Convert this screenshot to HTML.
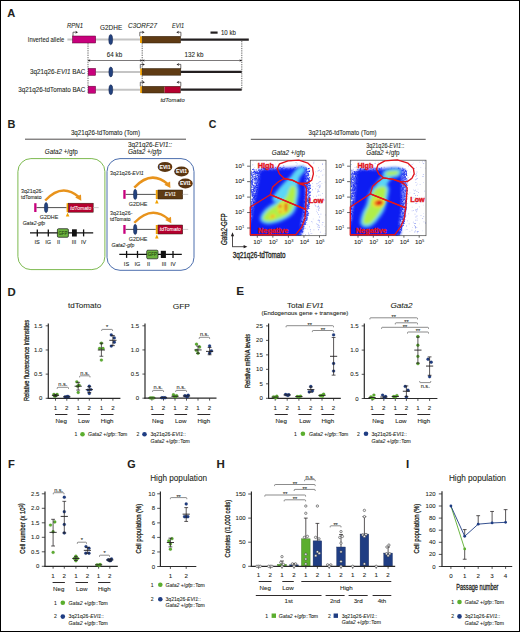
<!DOCTYPE html>
<html><head><meta charset="utf-8"><title>Figure</title>
<style>
html,body{margin:0;padding:0;background:#fff;}
body{width:520px;height:632px;overflow:hidden;}
svg{display:block;font-family:"Liberation Sans",sans-serif;}
</style></head><body>
<svg width="520" height="632" viewBox="0 0 520 632" fill="#231f20">
<rect x="0.5" y="0.5" width="519" height="631" fill="none" stroke="#000" stroke-width="1" />
<text x="7.3" y="16.8" font-size="11.5" textLength="8" lengthAdjust="spacingAndGlyphs" font-weight="bold" stroke="#231f20" stroke-width="0.08">A</text>
<text x="67" y="27.9" font-size="6.6" textLength="16" lengthAdjust="spacingAndGlyphs" stroke="#231f20" stroke-width="0.08"><tspan font-style="italic">RPN1</tspan></text>
<text x="100" y="29.9" font-size="6.6" textLength="22.2" lengthAdjust="spacingAndGlyphs" stroke="#231f20" stroke-width="0.08">G2DHE</text>
<text x="128" y="28.2" font-size="6.6" textLength="29" lengthAdjust="spacingAndGlyphs" stroke="#231f20" stroke-width="0.08"><tspan font-style="italic">C3ORF27</tspan></text>
<text x="172" y="28.2" font-size="6.6" textLength="12.2" lengthAdjust="spacingAndGlyphs" stroke="#231f20" stroke-width="0.08"><tspan font-style="italic">EVI1</tspan></text>
<line x1="210.5" y1="32.6" x2="217.6" y2="32.6" stroke="#231f20" stroke-width="2.2" />
<text x="221" y="34.9" font-size="6.4" textLength="14.8" lengthAdjust="spacingAndGlyphs" stroke="#231f20" stroke-width="0.08">10 kb</text>
<text x="27.8" y="41.7" font-size="6.7" textLength="36.4" lengthAdjust="spacingAndGlyphs" stroke="#231f20" stroke-width="0.08">Inverted allele</text>
<line x1="67.4" y1="39.6" x2="140" y2="39.6" stroke="#c4c4c4" stroke-width="2" />
<rect x="72.5" y="36" width="23.2" height="7" fill="#c8007c" stroke="#5a0030" stroke-width="0.5" />
<ellipse cx="110.7" cy="39.6" rx="2" ry="5.2" fill="#23427e" stroke="#0c1a40" stroke-width="0.4" />
<rect x="140" y="36.3" width="2.2" height="6.7" fill="#f2a100" />
<rect x="142.2" y="36.3" width="38.4" height="6.7" fill="#5f3b14" stroke="#2e1d0a" stroke-width="0.5" />
<line x1="180.6" y1="39.6" x2="248.8" y2="39.6" stroke="#231f20" stroke-width="2.2" />
<path d="M73 36 V32.2 H76.2" fill="none" stroke="#231f20" stroke-width="0.65" />
<path d="M78 32.2 L75.3 30.72 L76.11 32.2 L75.3 33.69 Z" fill="#231f20" />
<path d="M139.8 36.3 V32.2 H142.8" fill="none" stroke="#231f20" stroke-width="0.65" />
<path d="M144.6 32.2 L141.9 30.72 L142.71 32.2 L141.9 33.69 Z" fill="#231f20" />
<path d="M180.9 36.3 V32.2 H178.1" fill="none" stroke="#231f20" stroke-width="0.65" />
<path d="M176.3 32.2 L179 30.72 L178.19 32.2 L179 33.69 Z" fill="#231f20" />
<line x1="88" y1="43.2" x2="88" y2="93" stroke="#333" stroke-width="0.75" stroke-dasharray="1.3 1"/>
<line x1="142.2" y1="43.2" x2="142.2" y2="86" stroke="#333" stroke-width="0.75" stroke-dasharray="1.3 1"/>
<line x1="241.8" y1="41" x2="241.8" y2="89.8" stroke="#333" stroke-width="0.75" stroke-dasharray="1.3 1"/>
<line x1="88" y1="60.5" x2="241.8" y2="60.5" stroke="#231f20" stroke-width="0.6" />
<path d="M88 60.5 L90.4 59.18 L89.68 60.5 L90.4 61.82 Z" fill="#231f20" />
<path d="M142.2 60.5 L139.8 59.18 L140.52 60.5 L139.8 61.82 Z" fill="#231f20" />
<path d="M142.2 60.5 L144.6 59.18 L143.88 60.5 L144.6 61.82 Z" fill="#231f20" />
<path d="M241.8 60.5 L239.4 59.18 L240.12 60.5 L239.4 61.82 Z" fill="#231f20" />
<text x="106.8" y="56.5" font-size="6.4" textLength="15.4" lengthAdjust="spacingAndGlyphs" stroke="#231f20" stroke-width="0.08">64 kb</text>
<text x="184.6" y="56.5" font-size="6.4" textLength="18.9" lengthAdjust="spacingAndGlyphs" stroke="#231f20" stroke-width="0.08">132 kb</text>
<text x="29.9" y="74" font-size="6.6" textLength="55.4" lengthAdjust="spacingAndGlyphs" stroke="#231f20" stroke-width="0.08">3q21q26-<tspan font-style="italic">EVI1</tspan> BAC</text>
<line x1="95.6" y1="71.9" x2="140.2" y2="71.9" stroke="#c4c4c4" stroke-width="2" />
<rect x="88.2" y="68.4" width="7.4" height="7" fill="#c8007c" stroke="#5a0030" stroke-width="0.5" />
<ellipse cx="110.8" cy="71.9" rx="2" ry="5" fill="#23427e" stroke="#0c1a40" stroke-width="0.4" />
<rect x="140.2" y="68.5" width="2" height="6.7" fill="#f2a100" />
<rect x="142.2" y="68.5" width="38.6" height="6.7" fill="#5f3b14" stroke="#2e1d0a" stroke-width="0.5" />
<line x1="180.7" y1="71.9" x2="241.7" y2="71.9" stroke="#231f20" stroke-width="2.2" />
<path d="M140.3 68.5 V64.4 H143.1" fill="none" stroke="#231f20" stroke-width="0.65" />
<path d="M144.9 64.4 L142.2 62.92 L143.01 64.4 L142.2 65.89 Z" fill="#231f20" />
<path d="M180.8 68.5 V64.4 H178.3" fill="none" stroke="#231f20" stroke-width="0.65" />
<path d="M176.5 64.4 L179.2 62.92 L178.39 64.4 L179.2 65.89 Z" fill="#231f20" />
<text x="18.3" y="91.8" font-size="6.6" textLength="67" lengthAdjust="spacingAndGlyphs" stroke="#231f20" stroke-width="0.08">3q21q26-tdTomato BAC</text>
<line x1="95.6" y1="89.7" x2="140.2" y2="89.7" stroke="#c4c4c4" stroke-width="2" />
<rect x="88.2" y="86.2" width="7.4" height="7" fill="#c8007c" stroke="#5a0030" stroke-width="0.5" />
<ellipse cx="110.8" cy="89.7" rx="2" ry="5" fill="#23427e" stroke="#0c1a40" stroke-width="0.4" />
<rect x="140.2" y="86.3" width="2" height="6.7" fill="#f2a100" />
<rect x="142.2" y="86.3" width="22.4" height="6.7" fill="#5f3b14" />
<rect x="164.6" y="86.3" width="15.8" height="6.7" fill="#b5002f" />
<rect x="142.2" y="86.3" width="38.2" height="6.7" fill="none" stroke="#2e1d0a" stroke-width="0.5" />
<line x1="180.7" y1="89.7" x2="241.7" y2="89.7" stroke="#231f20" stroke-width="2.2" />
<path d="M140.3 86.3 V82.2 H143.1" fill="none" stroke="#231f20" stroke-width="0.65" />
<path d="M144.9 82.2 L142.2 80.72 L143.01 82.2 L142.2 83.69 Z" fill="#231f20" />
<path d="M180.8 86.3 V82.2 H178.3" fill="none" stroke="#231f20" stroke-width="0.65" />
<path d="M176.5 82.2 L179.2 80.72 L178.39 82.2 L179.2 83.69 Z" fill="#231f20" />
<text x="160.4" y="101.9" font-size="6.2" textLength="24.3" lengthAdjust="spacingAndGlyphs" stroke="#231f20" stroke-width="0.08"><tspan font-style="italic">tdTomato</tspan></text>
<text x="7.4" y="128" font-size="11.5" textLength="7.9" lengthAdjust="spacingAndGlyphs" font-weight="bold" stroke="#231f20" stroke-width="0.08">B</text>
<text x="70.9" y="134.9" font-size="6.3" textLength="69.1" lengthAdjust="spacingAndGlyphs" stroke="#231f20" stroke-width="0.08">3q21q26-tdTomato (Tom)</text>
<line x1="25" y1="139.2" x2="186" y2="139.2" stroke="#231f20" stroke-width="0.8" />
<text x="44.8" y="154.4" font-size="6.3" textLength="33" lengthAdjust="spacingAndGlyphs" stroke="#231f20" stroke-width="0.08"><tspan font-style="italic">Gata2</tspan> +/gfp</text>
<text x="127.9" y="146.9" font-size="6.3" textLength="44.1" lengthAdjust="spacingAndGlyphs" stroke="#231f20" stroke-width="0.08">3q21q26-<tspan font-style="italic">EVI1::</tspan></text>
<text x="127.9" y="153.8" font-size="6.3" textLength="33.6" lengthAdjust="spacingAndGlyphs" stroke="#231f20" stroke-width="0.08"><tspan font-style="italic">Gata2 +/gfp</tspan></text>
<rect x="17.9" y="158.6" width="87" height="111" fill="none" stroke="#7dba50" stroke-width="1" rx="13" />
<rect x="107" y="158.6" width="87" height="111.7" fill="none" stroke="#4d6fae" stroke-width="1" rx="13" />
<text x="21" y="192.5" font-size="5.6" textLength="22.3" lengthAdjust="spacingAndGlyphs" stroke="#231f20" stroke-width="0.08">3q21q26-</text>
<text x="21" y="198.9" font-size="5.6" textLength="20.5" lengthAdjust="spacingAndGlyphs" stroke="#231f20" stroke-width="0.08">tdTomato</text>
<path d="M45.2 200.5 Q62 182.5 78.8 197" fill="none" stroke="#e8931c" stroke-width="2.4" stroke-linecap="butt"/>
<path d="M81.3 200.8 L75.2 197.6 L81 194.4 Z" fill="#e8931c" />
<line x1="36.4" y1="207.6" x2="66.6" y2="207.6" stroke="#3c3c3c" stroke-width="0.9" />
<rect x="34.2" y="203.2" width="2.3" height="8.8" fill="#c8007c" />
<ellipse cx="46.1" cy="207.6" rx="1.8" ry="5.2" fill="#23427e" stroke="#0c1a40" stroke-width="0.4" />
<rect x="66.6" y="203.2" width="2" height="9" fill="#f2a100" />
<rect x="68.4" y="203.2" width="24.8" height="9" fill="#b5002f" stroke="#2b1a0a" stroke-width="0.5" />
<text x="80.8" y="209.55" font-size="5.4" text-anchor="middle" textLength="21" lengthAdjust="spacingAndGlyphs" fill="#fff" stroke="#fff" stroke-width="0.08"><tspan font-style="italic">tdTomato</tspan></text>
<line x1="93.2" y1="207.6" x2="98.7" y2="207.6" stroke="#bdbdbd" stroke-width="0.8" />
<path d="M67.6 212.6 L65.8 216.6 L69.4 216.6 Z" fill="#f2a100" />
<text x="39.7" y="219.2" font-size="5.6" textLength="18.6" lengthAdjust="spacingAndGlyphs" stroke="#231f20" stroke-width="0.08">G2DHE</text>
<text x="22.7" y="225.1" font-size="5.4" textLength="22.5" lengthAdjust="spacingAndGlyphs" stroke="#231f20" stroke-width="0.08"><tspan font-style="italic">Gata2-gfp</tspan></text>
<line x1="30" y1="232.9" x2="93.2" y2="232.9" stroke="#111" stroke-width="1.3" />
<line x1="37.3" y1="229.4" x2="37.3" y2="236.4" stroke="#111" stroke-width="1.3" />
<line x1="48.3" y1="229.4" x2="48.3" y2="236.4" stroke="#111" stroke-width="1.3" />
<line x1="83.6" y1="229.4" x2="83.6" y2="236.4" stroke="#111" stroke-width="1.3" />
<rect x="57.4" y="228.7" width="11" height="8.6" fill="#6cb33f" stroke="#1a1a1a" stroke-width="0.7" rx="1.2" />
<text x="62.9" y="234.8" font-size="5.2" text-anchor="middle" textLength="8.8" lengthAdjust="spacingAndGlyphs" fill="#1d3a0c" stroke="#1d3a0c" stroke-width="0.08">GFP</text>
<rect x="72" y="229.3" width="4.8" height="7.2" fill="#111" />
<text x="37.2" y="244" font-size="5.6" text-anchor="middle" stroke="#231f20" stroke-width="0.08">IS</text>
<text x="48.2" y="244" font-size="5.6" text-anchor="middle" stroke="#231f20" stroke-width="0.08">IG</text>
<text x="58.6" y="244" font-size="5.6" text-anchor="middle" stroke="#231f20" stroke-width="0.08">II</text>
<text x="74.1" y="244" font-size="5.6" text-anchor="middle" stroke="#231f20" stroke-width="0.08">III</text>
<text x="83.6" y="244" font-size="5.6" text-anchor="middle" stroke="#231f20" stroke-width="0.08">IV</text>
<ellipse cx="165" cy="166.9" rx="7.3" ry="5" fill="#5a3611" />
<text x="165" y="168.85" font-size="5.4" text-anchor="middle" textLength="11" lengthAdjust="spacingAndGlyphs" font-weight="bold" fill="#fff" stroke="#fff" stroke-width="0.08">EVI1</text>
<ellipse cx="181.5" cy="171.5" rx="7.3" ry="5" fill="#5a3611" />
<text x="181.5" y="173.45" font-size="5.4" text-anchor="middle" textLength="11" lengthAdjust="spacingAndGlyphs" font-weight="bold" fill="#fff" stroke="#fff" stroke-width="0.08">EVI1</text>
<ellipse cx="185.4" cy="183.5" rx="7.3" ry="5" fill="#5a3611" />
<text x="185.4" y="185.45" font-size="5.4" text-anchor="middle" textLength="11" lengthAdjust="spacingAndGlyphs" font-weight="bold" fill="#fff" stroke="#fff" stroke-width="0.08">EVI1</text>
<text x="110.1" y="174.7" font-size="5.6" textLength="33.7" lengthAdjust="spacingAndGlyphs" stroke="#231f20" stroke-width="0.08">3q21q26-<tspan font-style="italic">EVI1</tspan></text>
<path d="M134.3 187.6 Q151.1 169.5 167.9 184.2" fill="none" stroke="#e8931c" stroke-width="2.4" stroke-linecap="butt"/>
<path d="M170.4 188 L164.3 184.8 L170.1 181.6 Z" fill="#e8931c" />
<line x1="125.5" y1="194.4" x2="155.8" y2="194.4" stroke="#3c3c3c" stroke-width="0.9" />
<rect x="123.3" y="190" width="2.3" height="8.8" fill="#c8007c" />
<ellipse cx="135.2" cy="194.4" rx="1.8" ry="5.2" fill="#23427e" stroke="#0c1a40" stroke-width="0.4" />
<rect x="155.8" y="190" width="2" height="9" fill="#f2a100" />
<rect x="158" y="190" width="24.7" height="9" fill="#5f3b14" stroke="#2b1a0a" stroke-width="0.5" />
<text x="170.35" y="196.35" font-size="5.4" text-anchor="middle" textLength="11.2" lengthAdjust="spacingAndGlyphs" fill="#fff" stroke="#fff" stroke-width="0.08"><tspan font-style="italic">EVI1</tspan></text>
<line x1="182.7" y1="194.4" x2="188.2" y2="194.4" stroke="#bdbdbd" stroke-width="0.8" />
<path d="M156.8 199.4 L155 203.4 L158.6 203.4 Z" fill="#f2a100" />
<text x="128.8" y="205.6" font-size="5.6" textLength="18.6" lengthAdjust="spacingAndGlyphs" stroke="#231f20" stroke-width="0.08">G2DHE</text>
<text x="110.1" y="214.5" font-size="5.6" textLength="22.3" lengthAdjust="spacingAndGlyphs" stroke="#231f20" stroke-width="0.08">3q21q26-</text>
<text x="110.1" y="220.6" font-size="5.6" textLength="20.5" lengthAdjust="spacingAndGlyphs" stroke="#231f20" stroke-width="0.08">tdTomato</text>
<path d="M134.3 222.8 Q151.55 204.5 168.8 219.4" fill="none" stroke="#e8931c" stroke-width="2.4" stroke-linecap="butt"/>
<path d="M171.3 223.2 L165.2 220 L171 216.8 Z" fill="#e8931c" />
<line x1="125.5" y1="229.4" x2="155.8" y2="229.4" stroke="#3c3c3c" stroke-width="0.9" />
<rect x="123.3" y="225" width="2.3" height="8.8" fill="#c8007c" />
<ellipse cx="135.2" cy="229.4" rx="1.8" ry="5.2" fill="#23427e" stroke="#0c1a40" stroke-width="0.4" />
<rect x="155.8" y="225" width="2" height="9" fill="#f2a100" />
<rect x="158" y="225" width="24.7" height="9" fill="#b5002f" stroke="#2b1a0a" stroke-width="0.5" />
<text x="170.35" y="231.35" font-size="5.4" text-anchor="middle" textLength="21" lengthAdjust="spacingAndGlyphs" fill="#fff" stroke="#fff" stroke-width="0.08"><tspan font-style="italic">tdTomato</tspan></text>
<line x1="182.7" y1="229.4" x2="188.2" y2="229.4" stroke="#bdbdbd" stroke-width="0.8" />
<path d="M156.8 234.4 L155 238.4 L158.6 238.4 Z" fill="#f2a100" />
<text x="128.8" y="240.8" font-size="5.6" textLength="18.6" lengthAdjust="spacingAndGlyphs" stroke="#231f20" stroke-width="0.08">G2DHE</text>
<text x="111.4" y="246.7" font-size="5.4" textLength="22.9" lengthAdjust="spacingAndGlyphs" stroke="#231f20" stroke-width="0.08"><tspan font-style="italic">Gata2-gfp</tspan></text>
<line x1="119.3" y1="254.4" x2="181.8" y2="254.4" stroke="#111" stroke-width="1.3" />
<line x1="126.6" y1="250.9" x2="126.6" y2="257.9" stroke="#111" stroke-width="1.3" />
<line x1="137.5" y1="250.9" x2="137.5" y2="257.9" stroke="#111" stroke-width="1.3" />
<line x1="173" y1="250.9" x2="173" y2="257.9" stroke="#111" stroke-width="1.3" />
<rect x="146.7" y="250.2" width="11.3" height="8.6" fill="#6cb33f" stroke="#1a1a1a" stroke-width="0.7" rx="1.2" />
<text x="152.35" y="256.3" font-size="5.2" text-anchor="middle" textLength="9.04" lengthAdjust="spacingAndGlyphs" fill="#1d3a0c" stroke="#1d3a0c" stroke-width="0.08">GFP</text>
<rect x="160.8" y="250.8" width="5.1" height="7.2" fill="#111" />
<text x="126.5" y="265.5" font-size="5.6" text-anchor="middle" stroke="#231f20" stroke-width="0.08">IS</text>
<text x="137.4" y="265.5" font-size="5.6" text-anchor="middle" stroke="#231f20" stroke-width="0.08">IG</text>
<text x="148.6" y="265.5" font-size="5.6" text-anchor="middle" stroke="#231f20" stroke-width="0.08">II</text>
<text x="164" y="265.5" font-size="5.6" text-anchor="middle" stroke="#231f20" stroke-width="0.08">III</text>
<text x="173.1" y="265.5" font-size="5.6" text-anchor="middle" stroke="#231f20" stroke-width="0.08">IV</text>
<defs><filter id="blur1" x="-20%" y="-20%" width="140%" height="140%"><feGaussianBlur stdDeviation="1.6"/></filter><filter id="blur15" x="-20%" y="-20%" width="140%" height="140%"><feGaussianBlur stdDeviation="1.5"/></filter><filter id="blur08" x="-30%" y="-30%" width="160%" height="160%"><feGaussianBlur stdDeviation="0.9"/></filter></defs>
<text x="208.8" y="128" font-size="11.5" textLength="7.6" lengthAdjust="spacingAndGlyphs" font-weight="bold" stroke="#231f20" stroke-width="0.08">C</text>
<text x="308.5" y="135" font-size="6.3" textLength="68" lengthAdjust="spacingAndGlyphs" stroke="#231f20" stroke-width="0.08">3q21q26-tdTomato (Tom)</text>
<line x1="250.8" y1="139.3" x2="425.7" y2="139.3" stroke="#231f20" stroke-width="0.8" />
<text x="271.8" y="155.3" font-size="6.3" textLength="33.1" lengthAdjust="spacingAndGlyphs" stroke="#231f20" stroke-width="0.08"><tspan font-style="italic">Gata2</tspan> +/gfp</text>
<text x="366.2" y="148" font-size="6.3" textLength="38" lengthAdjust="spacingAndGlyphs" stroke="#231f20" stroke-width="0.08">3q21q26-<tspan font-style="italic">EVI1</tspan>::</text>
<text x="366.2" y="154.9" font-size="6.3" textLength="33.4" lengthAdjust="spacingAndGlyphs" stroke="#231f20" stroke-width="0.08"><tspan font-style="italic">Gata2</tspan> +/gfp</text>
<clipPath id="fc1"><rect x="250.3" y="160.2" width="75.7" height="75.5"/></clipPath>
<g clip-path="url(#fc1)">
<path fill="#c9cff5" d="M294.1 175.8h0.8v0.8h-0.8zM311.9 222.4h0.8v0.8h-0.8zM294.6 223.9h0.8v0.8h-0.8zM287.9 222.0h0.8v0.8h-0.8zM315.0 171.5h0.8v0.8h-0.8zM309.2 196.5h0.8v0.8h-0.8zM250.7 214.0h0.8v0.8h-0.8zM256.4 194.0h0.8v0.8h-0.8zM294.4 189.7h0.8v0.8h-0.8zM316.1 211.0h0.8v0.8h-0.8zM250.5 200.6h0.8v0.8h-0.8zM254.1 167.2h0.8v0.8h-0.8zM325.4 196.8h0.8v0.8h-0.8zM288.2 194.0h0.8v0.8h-0.8zM313.1 196.4h0.8v0.8h-0.8zM283.3 225.0h0.8v0.8h-0.8zM324.6 181.8h0.8v0.8h-0.8zM295.4 229.6h0.8v0.8h-0.8zM264.8 186.6h0.8v0.8h-0.8zM256.3 174.9h0.8v0.8h-0.8zM316.3 209.4h0.8v0.8h-0.8zM307.8 207.7h0.8v0.8h-0.8zM310.4 233.0h0.8v0.8h-0.8zM313.6 161.4h0.8v0.8h-0.8zM324.1 225.9h0.8v0.8h-0.8zM251.5 175.4h0.8v0.8h-0.8zM308.1 232.3h0.8v0.8h-0.8zM326.0 162.6h0.8v0.8h-0.8zM294.0 186.5h0.8v0.8h-0.8zM261.3 225.6h0.8v0.8h-0.8zM265.0 192.9h0.8v0.8h-0.8zM310.4 187.4h0.8v0.8h-0.8zM295.6 192.6h0.8v0.8h-0.8zM258.4 214.7h0.8v0.8h-0.8zM299.5 227.5h0.8v0.8h-0.8zM276.5 228.7h0.8v0.8h-0.8zM297.2 206.1h0.8v0.8h-0.8zM266.8 187.0h0.8v0.8h-0.8zM275.9 229.6h0.8v0.8h-0.8zM263.3 175.7h0.8v0.8h-0.8zM252.7 160.6h0.8v0.8h-0.8zM259.7 189.3h0.8v0.8h-0.8zM318.5 201.9h0.8v0.8h-0.8zM277.9 165.5h0.8v0.8h-0.8zM259.4 213.5h0.8v0.8h-0.8zM288.9 214.0h0.8v0.8h-0.8zM298.3 206.2h0.8v0.8h-0.8zM275.9 210.7h0.8v0.8h-0.8zM262.0 197.2h0.8v0.8h-0.8zM271.0 176.2h0.8v0.8h-0.8zM321.3 170.0h0.8v0.8h-0.8zM279.1 218.8h0.8v0.8h-0.8zM325.4 230.5h0.8v0.8h-0.8zM284.8 183.7h0.8v0.8h-0.8zM279.2 225.4h0.8v0.8h-0.8zM322.9 234.7h0.8v0.8h-0.8zM263.8 173.1h0.8v0.8h-0.8zM262.0 196.8h0.8v0.8h-0.8zM301.3 198.1h0.8v0.8h-0.8zM309.1 226.4h0.8v0.8h-0.8zM259.0 223.5h0.8v0.8h-0.8zM282.8 167.2h0.8v0.8h-0.8zM256.4 160.7h0.8v0.8h-0.8zM256.7 231.5h0.8v0.8h-0.8zM307.3 224.4h0.8v0.8h-0.8zM252.1 235.5h0.8v0.8h-0.8zM291.5 207.8h0.8v0.8h-0.8zM312.0 183.1h0.8v0.8h-0.8zM252.4 202.8h0.8v0.8h-0.8zM252.5 195.5h0.8v0.8h-0.8zM253.5 178.7h0.8v0.8h-0.8zM276.8 201.9h0.8v0.8h-0.8zM305.0 187.4h0.8v0.8h-0.8zM255.6 204.1h0.8v0.8h-0.8zM265.4 234.6h0.8v0.8h-0.8zM253.5 215.6h0.8v0.8h-0.8zM280.1 189.6h0.8v0.8h-0.8zM291.9 229.5h0.8v0.8h-0.8z"/>
<path fill="#aab3f0" d="M299.8 172.3h0.8v0.8h-0.8zM289.7 184.9h0.8v0.8h-0.8zM269.2 232.1h0.8v0.8h-0.8zM279.2 181.6h0.8v0.8h-0.8zM302.2 210.2h0.8v0.8h-0.8zM296.7 163.5h0.8v0.8h-0.8zM250.6 170.3h0.8v0.8h-0.8zM274.1 201.6h0.8v0.8h-0.8zM283.3 165.1h0.8v0.8h-0.8zM262.1 177.1h0.8v0.8h-0.8zM281.6 163.0h0.8v0.8h-0.8zM293.2 188.5h0.8v0.8h-0.8zM322.0 192.9h0.8v0.8h-0.8zM271.1 206.8h0.8v0.8h-0.8zM275.4 184.3h0.8v0.8h-0.8zM319.2 199.5h0.8v0.8h-0.8zM287.4 172.7h0.8v0.8h-0.8zM281.7 162.9h0.8v0.8h-0.8zM305.3 228.0h0.8v0.8h-0.8zM303.1 192.2h0.8v0.8h-0.8zM261.9 178.1h0.8v0.8h-0.8zM311.4 232.9h0.8v0.8h-0.8zM308.3 232.9h0.8v0.8h-0.8zM292.4 180.3h0.8v0.8h-0.8zM302.5 214.5h0.8v0.8h-0.8zM325.4 214.6h0.8v0.8h-0.8zM255.3 224.2h0.8v0.8h-0.8zM310.1 230.8h0.8v0.8h-0.8zM322.3 174.7h0.8v0.8h-0.8zM293.6 193.4h0.8v0.8h-0.8zM314.5 203.6h0.8v0.8h-0.8zM289.9 221.3h0.8v0.8h-0.8zM320.0 198.8h0.8v0.8h-0.8zM303.8 206.2h0.8v0.8h-0.8zM263.6 222.4h0.8v0.8h-0.8zM309.1 226.5h0.8v0.8h-0.8zM263.4 226.6h0.8v0.8h-0.8zM302.8 167.5h0.8v0.8h-0.8zM298.5 196.0h0.8v0.8h-0.8zM294.0 190.3h0.8v0.8h-0.8zM315.6 200.3h0.8v0.8h-0.8zM251.6 223.4h0.8v0.8h-0.8zM305.3 187.3h0.8v0.8h-0.8zM296.8 204.3h0.8v0.8h-0.8zM308.6 234.1h0.8v0.8h-0.8zM300.4 207.3h0.8v0.8h-0.8zM254.3 188.6h0.8v0.8h-0.8zM285.2 171.8h0.8v0.8h-0.8zM256.2 199.8h0.8v0.8h-0.8zM299.2 200.6h0.8v0.8h-0.8zM315.3 188.4h0.8v0.8h-0.8zM263.6 207.5h0.8v0.8h-0.8zM284.5 228.1h0.8v0.8h-0.8zM279.8 195.7h0.8v0.8h-0.8zM289.7 209.5h0.8v0.8h-0.8zM292.9 232.2h0.8v0.8h-0.8zM298.9 184.1h0.8v0.8h-0.8zM283.2 210.0h0.8v0.8h-0.8zM313.5 229.4h0.8v0.8h-0.8zM305.0 167.0h0.8v0.8h-0.8zM280.6 212.9h0.8v0.8h-0.8zM295.6 212.0h0.8v0.8h-0.8zM314.9 204.9h0.8v0.8h-0.8zM285.3 226.4h0.8v0.8h-0.8zM255.9 188.8h0.8v0.8h-0.8zM312.9 201.8h0.8v0.8h-0.8zM262.5 219.0h0.8v0.8h-0.8zM253.5 209.6h0.8v0.8h-0.8zM300.6 178.3h0.8v0.8h-0.8zM295.5 182.4h0.8v0.8h-0.8zM262.5 196.7h0.8v0.8h-0.8zM321.8 224.4h0.8v0.8h-0.8z"/>
<path fill="#d8dcf8" d="M321.5 183.1h0.8v0.8h-0.8zM295.8 168.7h0.8v0.8h-0.8zM309.0 167.5h0.8v0.8h-0.8zM268.6 199.9h0.8v0.8h-0.8zM295.9 164.9h0.8v0.8h-0.8zM287.3 195.0h0.8v0.8h-0.8zM280.7 191.9h0.8v0.8h-0.8zM294.6 200.9h0.8v0.8h-0.8zM283.7 233.3h0.8v0.8h-0.8zM304.7 227.3h0.8v0.8h-0.8zM253.8 229.1h0.8v0.8h-0.8zM285.4 216.3h0.8v0.8h-0.8zM302.9 199.6h0.8v0.8h-0.8zM282.4 210.3h0.8v0.8h-0.8zM297.8 176.0h0.8v0.8h-0.8zM296.5 226.3h0.8v0.8h-0.8zM255.6 192.2h0.8v0.8h-0.8zM257.0 164.4h0.8v0.8h-0.8zM269.6 194.7h0.8v0.8h-0.8zM271.7 212.7h0.8v0.8h-0.8zM270.3 193.5h0.8v0.8h-0.8zM310.9 190.8h0.8v0.8h-0.8zM306.4 206.3h0.8v0.8h-0.8zM263.1 167.4h0.8v0.8h-0.8zM266.9 216.4h0.8v0.8h-0.8zM275.0 163.8h0.8v0.8h-0.8zM302.7 164.0h0.8v0.8h-0.8zM280.4 205.6h0.8v0.8h-0.8zM263.3 172.1h0.8v0.8h-0.8zM296.2 225.5h0.8v0.8h-0.8zM276.7 190.2h0.8v0.8h-0.8zM312.5 186.1h0.8v0.8h-0.8zM292.6 194.8h0.8v0.8h-0.8zM264.5 208.1h0.8v0.8h-0.8zM278.8 164.0h0.8v0.8h-0.8zM254.2 183.7h0.8v0.8h-0.8zM277.6 174.2h0.8v0.8h-0.8zM276.4 174.9h0.8v0.8h-0.8zM262.6 190.8h0.8v0.8h-0.8zM280.0 167.3h0.8v0.8h-0.8zM323.0 169.1h0.8v0.8h-0.8zM273.8 182.1h0.8v0.8h-0.8zM290.6 161.1h0.8v0.8h-0.8zM323.6 174.4h0.8v0.8h-0.8zM256.0 221.4h0.8v0.8h-0.8zM297.6 234.7h0.8v0.8h-0.8zM272.2 222.2h0.8v0.8h-0.8zM251.4 193.0h0.8v0.8h-0.8zM252.9 207.6h0.8v0.8h-0.8zM287.3 213.8h0.8v0.8h-0.8zM266.5 183.3h0.8v0.8h-0.8zM252.4 206.2h0.8v0.8h-0.8zM312.8 218.6h0.8v0.8h-0.8zM292.4 171.5h0.8v0.8h-0.8zM304.9 169.8h0.8v0.8h-0.8zM255.4 187.9h0.8v0.8h-0.8zM307.0 217.9h0.8v0.8h-0.8zM290.8 216.8h0.8v0.8h-0.8zM266.1 161.1h0.8v0.8h-0.8zM275.6 204.7h0.8v0.8h-0.8zM277.2 160.6h0.8v0.8h-0.8zM253.9 214.1h0.8v0.8h-0.8zM312.0 189.9h0.8v0.8h-0.8zM303.0 182.8h0.8v0.8h-0.8zM300.0 194.2h0.8v0.8h-0.8zM267.5 197.9h0.8v0.8h-0.8zM307.0 228.8h0.8v0.8h-0.8zM262.8 235.1h0.8v0.8h-0.8zM273.6 218.2h0.8v0.8h-0.8zM251.6 211.5h0.8v0.8h-0.8zM282.1 211.6h0.8v0.8h-0.8zM269.9 171.9h0.8v0.8h-0.8zM289.3 233.4h0.8v0.8h-0.8zM309.3 212.9h0.8v0.8h-0.8zM254.6 196.6h0.8v0.8h-0.8zM305.3 195.8h0.8v0.8h-0.8zM291.9 184.5h0.8v0.8h-0.8zM294.6 214.9h0.8v0.8h-0.8zM310.2 175.5h0.8v0.8h-0.8zM287.5 226.4h0.8v0.8h-0.8z"/>
<path fill="#8f9cf0" d="M293.6 192.6h0.8v0.8h-0.8zM325.7 163.6h0.8v0.8h-0.8zM315.4 205.7h0.8v0.8h-0.8zM301.4 194.7h0.8v0.8h-0.8zM260.4 218.2h0.8v0.8h-0.8zM324.7 233.4h0.8v0.8h-0.8zM278.0 228.0h0.8v0.8h-0.8zM300.1 200.5h0.8v0.8h-0.8zM262.9 221.2h0.8v0.8h-0.8zM281.6 178.7h0.8v0.8h-0.8zM263.8 169.2h0.8v0.8h-0.8zM284.8 172.7h0.8v0.8h-0.8zM299.4 222.2h0.8v0.8h-0.8zM276.6 193.0h0.8v0.8h-0.8zM258.5 194.5h0.8v0.8h-0.8zM285.0 193.2h0.8v0.8h-0.8zM299.5 228.9h0.8v0.8h-0.8zM297.2 212.1h0.8v0.8h-0.8zM298.9 204.6h0.8v0.8h-0.8zM301.0 170.9h0.8v0.8h-0.8zM266.0 167.4h0.8v0.8h-0.8zM326.0 227.2h0.8v0.8h-0.8zM277.9 207.6h0.8v0.8h-0.8zM288.6 198.5h0.8v0.8h-0.8zM276.2 215.1h0.8v0.8h-0.8zM286.8 193.9h0.8v0.8h-0.8zM286.4 196.4h0.8v0.8h-0.8zM275.1 184.5h0.8v0.8h-0.8zM271.7 174.3h0.8v0.8h-0.8zM293.1 225.1h0.8v0.8h-0.8zM305.0 234.6h0.8v0.8h-0.8zM261.8 230.6h0.8v0.8h-0.8zM293.4 233.8h0.8v0.8h-0.8zM322.2 163.9h0.8v0.8h-0.8zM263.7 208.2h0.8v0.8h-0.8zM322.0 163.4h0.8v0.8h-0.8zM307.3 195.6h0.8v0.8h-0.8zM294.3 192.0h0.8v0.8h-0.8zM289.2 227.4h0.8v0.8h-0.8zM262.3 211.3h0.8v0.8h-0.8zM269.0 178.8h0.8v0.8h-0.8zM282.0 201.8h0.8v0.8h-0.8zM252.4 164.4h0.8v0.8h-0.8zM285.1 185.6h0.8v0.8h-0.8zM270.4 173.5h0.8v0.8h-0.8zM261.0 168.1h0.8v0.8h-0.8zM311.4 221.3h0.8v0.8h-0.8zM293.9 208.2h0.8v0.8h-0.8zM307.4 192.5h0.8v0.8h-0.8zM302.6 191.8h0.8v0.8h-0.8zM301.0 168.9h0.8v0.8h-0.8zM273.0 224.5h0.8v0.8h-0.8zM284.9 211.1h0.8v0.8h-0.8zM323.7 199.6h0.8v0.8h-0.8zM309.9 229.2h0.8v0.8h-0.8zM264.9 232.0h0.8v0.8h-0.8zM268.6 172.0h0.8v0.8h-0.8zM312.2 189.3h0.8v0.8h-0.8zM260.2 209.8h0.8v0.8h-0.8zM284.8 224.7h0.8v0.8h-0.8zM279.4 175.9h0.8v0.8h-0.8zM285.1 226.2h0.8v0.8h-0.8zM293.5 228.1h0.8v0.8h-0.8zM298.2 213.9h0.8v0.8h-0.8zM285.7 183.0h0.8v0.8h-0.8zM295.6 162.0h0.8v0.8h-0.8zM268.0 188.4h0.8v0.8h-0.8zM313.4 162.6h0.8v0.8h-0.8zM284.7 186.8h0.8v0.8h-0.8zM286.1 218.0h0.8v0.8h-0.8z"/>
<path fill="#9aa6f2" d="M317.3 224.3h.8v.8h-.8zM317.6 191.0h.8v.8h-.8zM317.7 220.2h.8v.8h-.8zM317.2 191.8h.8v.8h-.8zM320.5 213.7h.8v.8h-.8zM317.4 226.4h.8v.8h-.8zM318.0 229.3h.8v.8h-.8zM317.6 189.2h.8v.8h-.8zM317.5 199.0h.8v.8h-.8zM319.9 231.8h.8v.8h-.8zM316.1 195.7h.8v.8h-.8zM319.9 180.9h.8v.8h-.8zM316.7 185.8h.8v.8h-.8zM318.1 204.7h.8v.8h-.8zM318.3 170.3h.8v.8h-.8zM318.6 191.1h.8v.8h-.8zM318.3 229.5h.8v.8h-.8zM317.8 190.0h.8v.8h-.8zM319.1 226.8h.8v.8h-.8zM319.0 221.8h.8v.8h-.8zM318.3 208.4h.8v.8h-.8zM318.1 167.5h.8v.8h-.8zM318.5 210.3h.8v.8h-.8zM318.9 220.1h.8v.8h-.8zM318.2 201.8h.8v.8h-.8zM322.5 222.1h.8v.8h-.8zM319.2 207.6h.8v.8h-.8zM320.5 171.2h.8v.8h-.8zM318.7 190.9h.8v.8h-.8zM316.5 183.5h.8v.8h-.8zM320.0 185.7h.8v.8h-.8zM319.2 181.4h.8v.8h-.8zM317.9 209.5h.8v.8h-.8zM318.7 187.4h.8v.8h-.8zM318.2 194.7h.8v.8h-.8zM319.7 194.7h.8v.8h-.8zM318.5 225.1h.8v.8h-.8zM320.5 203.3h.8v.8h-.8zM318.1 184.9h.8v.8h-.8zM316.3 223.4h.8v.8h-.8zM317.0 202.5h.8v.8h-.8zM317.8 224.4h.8v.8h-.8zM316.6 183.1h.8v.8h-.8zM318.6 176.6h.8v.8h-.8zM316.3 175.5h.8v.8h-.8zM318.0 213.9h.8v.8h-.8zM318.4 219.4h.8v.8h-.8zM319.1 169.8h.8v.8h-.8zM317.0 212.4h.8v.8h-.8zM319.3 216.6h.8v.8h-.8zM319.0 186.2h.8v.8h-.8zM318.9 221.6h.8v.8h-.8zM319.5 184.6h.8v.8h-.8zM317.7 206.6h.8v.8h-.8zM318.3 206.1h.8v.8h-.8zM318.6 227.3h.8v.8h-.8zM317.5 170.7h.8v.8h-.8zM316.8 206.5h.8v.8h-.8zM319.4 187.2h.8v.8h-.8zM318.2 182.5h.8v.8h-.8z"/>
<path fill="#4b5ef4" d="M295.6 186.2h1v1h-1zM282.4 189.9h1v1h-1zM283.6 234.7h1v1h-1zM284.3 178.5h1v1h-1zM306.0 218.5h1v1h-1zM304.3 219.5h1v1h-1zM261.0 210.9h1v1h-1zM298.9 218.4h1v1h-1zM268.1 195.2h1v1h-1zM258.7 208.5h1v1h-1zM265.5 193.9h1v1h-1zM281.3 224.6h1v1h-1zM305.4 185.3h1v1h-1zM283.2 203.6h1v1h-1zM288.1 172.1h1v1h-1zM304.7 180.4h1v1h-1zM259.2 195.3h1v1h-1zM270.0 170.2h1v1h-1zM272.8 235.2h1v1h-1zM265.2 195.6h1v1h-1zM274.7 193.3h1v1h-1zM291.1 222.6h1v1h-1zM300.3 215.3h1v1h-1zM251.3 192.0h1v1h-1zM278.8 215.7h1v1h-1zM306.8 212.7h1v1h-1zM295.0 185.5h1v1h-1zM275.9 186.7h1v1h-1zM283.4 227.4h1v1h-1zM269.4 194.3h1v1h-1zM284.0 225.1h1v1h-1zM273.6 180.7h1v1h-1zM302.8 186.3h1v1h-1zM271.2 200.6h1v1h-1zM296.1 200.7h1v1h-1zM258.5 225.5h1v1h-1zM268.5 206.0h1v1h-1zM265.0 199.7h1v1h-1zM269.3 168.1h1v1h-1zM270.9 173.3h1v1h-1zM272.4 177.8h1v1h-1zM265.7 186.7h1v1h-1zM271.2 167.9h1v1h-1zM281.7 190.3h1v1h-1zM270.3 185.4h1v1h-1zM299.2 173.2h1v1h-1zM254.1 198.6h1v1h-1zM281.0 187.7h1v1h-1zM293.4 212.5h1v1h-1zM307.6 208.2h1v1h-1zM304.7 203.3h1v1h-1zM263.4 168.1h1v1h-1zM265.8 232.9h1v1h-1zM298.4 222.7h1v1h-1zM268.8 169.0h1v1h-1zM285.2 218.3h1v1h-1zM256.2 226.4h1v1h-1zM258.9 172.2h1v1h-1zM267.4 188.9h1v1h-1zM305.6 197.8h1v1h-1zM279.3 193.8h1v1h-1zM265.4 226.5h1v1h-1zM283.6 173.6h1v1h-1zM280.9 232.3h1v1h-1zM271.8 233.5h1v1h-1zM268.2 172.0h1v1h-1zM293.7 193.6h1v1h-1zM272.3 206.0h1v1h-1zM302.8 205.4h1v1h-1zM262.7 210.0h1v1h-1zM284.1 185.2h1v1h-1zM255.6 219.1h1v1h-1zM264.9 173.9h1v1h-1zM304.3 184.8h1v1h-1zM288.5 185.9h1v1h-1zM290.9 187.2h1v1h-1zM267.7 208.8h1v1h-1zM251.2 176.9h1v1h-1zM307.5 190.5h1v1h-1zM288.7 196.4h1v1h-1zM309.7 185.4h1v1h-1zM293.8 190.0h1v1h-1zM299.8 170.4h1v1h-1zM255.1 216.1h1v1h-1zM282.1 203.7h1v1h-1zM252.0 168.9h1v1h-1zM270.4 229.3h1v1h-1zM305.5 186.0h1v1h-1zM298.0 179.7h1v1h-1zM270.4 192.4h1v1h-1zM294.9 227.9h1v1h-1zM269.6 192.5h1v1h-1zM293.2 185.7h1v1h-1zM250.6 208.4h1v1h-1zM301.5 182.2h1v1h-1zM251.0 233.7h1v1h-1zM305.0 177.7h1v1h-1zM291.9 235.4h1v1h-1zM287.7 196.9h1v1h-1zM303.3 176.0h1v1h-1zM259.7 223.5h1v1h-1zM293.7 225.7h1v1h-1zM260.2 203.1h1v1h-1zM254.6 183.3h1v1h-1zM260.2 222.2h1v1h-1zM294.0 220.1h1v1h-1zM299.4 211.4h1v1h-1zM261.2 207.4h1v1h-1zM282.8 200.7h1v1h-1zM259.1 191.2h1v1h-1zM278.6 167.3h1v1h-1zM288.6 204.8h1v1h-1zM257.0 216.0h1v1h-1zM280.6 214.4h1v1h-1zM296.9 195.0h1v1h-1zM303.0 167.1h1v1h-1zM269.0 168.0h1v1h-1zM299.7 230.1h1v1h-1zM265.4 195.1h1v1h-1zM277.7 191.7h1v1h-1zM308.9 182.9h1v1h-1zM302.5 180.3h1v1h-1zM290.9 187.8h1v1h-1zM294.6 187.9h1v1h-1zM298.6 214.8h1v1h-1zM250.9 203.1h1v1h-1zM299.9 214.6h1v1h-1zM273.8 205.4h1v1h-1zM286.1 231.7h1v1h-1zM254.0 214.6h1v1h-1zM255.2 194.2h1v1h-1zM279.7 205.0h1v1h-1zM296.5 191.4h1v1h-1zM278.2 186.3h1v1h-1zM298.0 230.2h1v1h-1zM305.8 169.4h1v1h-1zM274.0 170.4h1v1h-1zM290.2 200.0h1v1h-1zM263.3 177.0h1v1h-1zM288.7 194.0h1v1h-1zM279.5 178.5h1v1h-1zM289.2 215.5h1v1h-1zM275.1 183.0h1v1h-1zM271.2 216.0h1v1h-1zM263.3 176.9h1v1h-1zM300.2 174.7h1v1h-1zM267.8 232.9h1v1h-1zM275.9 191.7h1v1h-1zM302.1 217.4h1v1h-1zM256.0 200.4h1v1h-1zM270.2 193.4h1v1h-1zM270.5 212.8h1v1h-1zM302.4 187.5h1v1h-1zM303.5 169.3h1v1h-1zM258.1 235.1h1v1h-1zM276.8 198.5h1v1h-1zM308.2 201.4h1v1h-1zM251.0 207.3h1v1h-1zM270.0 176.7h1v1h-1zM291.9 204.4h1v1h-1zM261.2 227.9h1v1h-1zM250.8 180.3h1v1h-1zM275.8 203.4h1v1h-1zM276.9 212.1h1v1h-1zM267.3 188.6h1v1h-1zM302.0 229.2h1v1h-1zM261.0 209.7h1v1h-1zM277.0 230.9h1v1h-1zM299.1 204.3h1v1h-1zM276.6 214.8h1v1h-1zM305.6 170.7h1v1h-1zM287.2 182.4h1v1h-1zM277.4 219.3h1v1h-1zM293.7 193.4h1v1h-1zM280.6 209.9h1v1h-1zM268.2 173.2h1v1h-1zM258.3 216.1h1v1h-1zM266.4 187.0h1v1h-1zM305.7 203.3h1v1h-1zM275.0 210.9h1v1h-1zM277.5 215.9h1v1h-1zM277.7 212.2h1v1h-1zM296.9 182.1h1v1h-1zM287.0 182.6h1v1h-1zM268.4 235.6h1v1h-1zM283.1 195.7h1v1h-1zM250.8 172.6h1v1h-1zM262.5 206.0h1v1h-1zM264.5 215.7h1v1h-1zM307.8 182.3h1v1h-1zM278.1 232.2h1v1h-1zM286.2 194.9h1v1h-1zM284.4 187.9h1v1h-1zM293.0 168.7h1v1h-1zM295.9 169.3h1v1h-1zM258.1 223.4h1v1h-1zM260.8 217.3h1v1h-1zM255.9 207.8h1v1h-1zM286.1 217.4h1v1h-1zM257.3 212.0h1v1h-1zM284.8 214.7h1v1h-1zM294.9 229.1h1v1h-1zM288.7 200.8h1v1h-1zM304.5 207.7h1v1h-1zM308.1 204.6h1v1h-1zM291.6 183.8h1v1h-1zM298.6 182.9h1v1h-1zM289.4 216.6h1v1h-1zM258.3 178.6h1v1h-1zM250.6 188.7h1v1h-1zM262.8 172.5h1v1h-1zM262.4 178.1h1v1h-1zM306.2 198.1h1v1h-1zM297.5 170.3h1v1h-1zM252.7 235.0h1v1h-1zM289.8 226.0h1v1h-1zM281.5 231.6h1v1h-1zM282.8 211.9h1v1h-1zM269.2 202.1h1v1h-1zM251.1 181.1h1v1h-1zM264.6 178.0h1v1h-1zM285.7 221.0h1v1h-1zM262.3 217.1h1v1h-1zM278.0 199.7h1v1h-1zM306.0 213.9h1v1h-1zM290.0 169.8h1v1h-1zM281.3 168.1h1v1h-1zM271.6 217.8h1v1h-1zM298.7 183.7h1v1h-1zM269.6 195.0h1v1h-1zM303.6 192.9h1v1h-1zM254.7 204.5h1v1h-1zM288.8 197.9h1v1h-1zM287.6 191.3h1v1h-1zM294.1 225.0h1v1h-1zM279.9 167.3h1v1h-1zM304.0 213.9h1v1h-1zM255.7 210.0h1v1h-1zM287.4 215.7h1v1h-1zM296.3 186.0h1v1h-1zM287.1 210.6h1v1h-1zM291.1 191.4h1v1h-1zM266.2 231.2h1v1h-1zM291.1 221.5h1v1h-1zM304.9 220.7h1v1h-1zM296.2 233.7h1v1h-1zM277.2 221.3h1v1h-1zM257.8 193.5h1v1h-1zM267.4 175.8h1v1h-1zM259.4 201.8h1v1h-1zM294.8 216.7h1v1h-1zM274.8 195.7h1v1h-1zM292.1 200.9h1v1h-1zM274.1 213.9h1v1h-1zM277.3 200.6h1v1h-1zM275.6 202.4h1v1h-1zM261.8 182.6h1v1h-1zM290.0 183.9h1v1h-1zM289.7 229.8h1v1h-1zM288.6 210.3h1v1h-1zM265.0 203.7h1v1h-1zM262.8 200.3h1v1h-1zM290.0 220.9h1v1h-1zM285.0 223.4h1v1h-1zM280.6 180.1h1v1h-1zM267.0 211.0h1v1h-1zM280.7 216.5h1v1h-1zM261.1 216.3h1v1h-1zM292.8 175.3h1v1h-1zM298.7 198.3h1v1h-1zM260.9 192.1h1v1h-1zM254.6 181.5h1v1h-1zM286.3 218.8h1v1h-1zM257.7 219.2h1v1h-1zM304.9 203.8h1v1h-1zM254.0 195.1h1v1h-1z"/>
<path fill="#2236f0" d="M291.6 217.7h1v1h-1zM266.0 179.1h1v1h-1zM274.8 224.3h1v1h-1zM286.3 173.1h1v1h-1zM300.0 168.1h1v1h-1zM255.9 213.0h1v1h-1zM286.6 193.5h1v1h-1zM291.2 232.4h1v1h-1zM285.7 201.5h1v1h-1zM298.2 174.2h1v1h-1zM303.8 214.9h1v1h-1zM272.4 177.3h1v1h-1zM270.0 193.2h1v1h-1zM261.9 222.2h1v1h-1zM272.7 180.1h1v1h-1zM281.0 208.9h1v1h-1zM267.3 235.3h1v1h-1zM291.6 210.8h1v1h-1zM285.5 233.0h1v1h-1zM251.8 189.1h1v1h-1zM283.7 230.1h1v1h-1zM290.2 194.8h1v1h-1zM306.2 178.8h1v1h-1zM274.7 183.5h1v1h-1zM272.3 202.6h1v1h-1zM271.5 222.9h1v1h-1zM293.5 223.5h1v1h-1zM296.9 230.9h1v1h-1zM252.1 233.5h1v1h-1zM281.9 169.5h1v1h-1zM296.4 214.8h1v1h-1zM268.7 231.3h1v1h-1zM277.5 220.9h1v1h-1zM282.6 232.4h1v1h-1zM262.5 180.3h1v1h-1zM277.6 231.3h1v1h-1zM284.5 197.9h1v1h-1zM256.6 212.5h1v1h-1zM270.1 174.2h1v1h-1zM291.8 181.1h1v1h-1zM254.2 211.1h1v1h-1zM277.7 218.2h1v1h-1zM272.4 232.0h1v1h-1zM255.6 179.5h1v1h-1zM303.9 218.3h1v1h-1zM288.5 189.7h1v1h-1zM309.6 187.8h1v1h-1zM265.3 187.4h1v1h-1zM263.0 192.0h1v1h-1zM265.3 195.5h1v1h-1zM288.8 195.0h1v1h-1zM263.5 168.0h1v1h-1zM297.0 186.8h1v1h-1zM260.8 223.2h1v1h-1zM296.8 212.6h1v1h-1zM259.2 183.8h1v1h-1zM288.5 201.1h1v1h-1zM279.0 181.0h1v1h-1zM277.1 212.3h1v1h-1zM289.7 188.3h1v1h-1zM285.1 169.6h1v1h-1zM271.3 206.0h1v1h-1zM255.9 183.2h1v1h-1zM307.0 194.7h1v1h-1zM263.7 174.0h1v1h-1zM284.6 234.7h1v1h-1zM297.2 230.1h1v1h-1zM271.0 210.8h1v1h-1zM267.2 185.9h1v1h-1zM271.1 187.9h1v1h-1zM270.2 194.7h1v1h-1zM280.9 187.6h1v1h-1zM254.1 217.9h1v1h-1zM302.7 216.3h1v1h-1zM302.0 177.6h1v1h-1zM288.1 227.9h1v1h-1zM293.4 172.7h1v1h-1zM293.7 228.3h1v1h-1zM256.3 171.4h1v1h-1zM281.4 175.6h1v1h-1zM301.6 225.4h1v1h-1zM265.8 229.5h1v1h-1zM307.1 177.9h1v1h-1zM285.6 233.2h1v1h-1zM275.5 212.0h1v1h-1zM303.8 201.9h1v1h-1zM289.9 224.3h1v1h-1zM272.9 192.0h1v1h-1zM270.7 174.2h1v1h-1zM269.9 183.5h1v1h-1zM298.7 187.2h1v1h-1zM261.0 230.3h1v1h-1zM283.4 166.7h1v1h-1zM298.1 170.6h1v1h-1zM281.8 177.8h1v1h-1zM281.6 211.4h1v1h-1zM292.8 215.6h1v1h-1zM295.3 172.9h1v1h-1zM276.4 231.4h1v1h-1zM257.8 179.7h1v1h-1zM294.2 206.8h1v1h-1zM254.1 171.6h1v1h-1zM268.0 174.4h1v1h-1zM263.9 210.3h1v1h-1zM256.6 187.5h1v1h-1zM257.4 235.6h1v1h-1zM275.7 187.3h1v1h-1zM253.4 202.5h1v1h-1zM259.3 186.7h1v1h-1zM298.9 234.9h1v1h-1zM257.3 206.4h1v1h-1zM255.1 214.1h1v1h-1zM304.1 200.9h1v1h-1zM289.0 208.2h1v1h-1zM275.1 216.6h1v1h-1zM289.8 205.1h1v1h-1zM287.9 189.2h1v1h-1zM275.8 185.4h1v1h-1zM264.8 171.6h1v1h-1zM306.9 172.8h1v1h-1zM259.6 188.9h1v1h-1zM306.8 177.2h1v1h-1zM277.9 212.6h1v1h-1zM265.6 209.3h1v1h-1zM274.3 218.1h1v1h-1zM306.6 215.0h1v1h-1zM307.7 201.0h1v1h-1zM273.3 225.3h1v1h-1zM262.8 214.0h1v1h-1zM257.2 187.1h1v1h-1zM295.8 233.0h1v1h-1zM289.5 195.8h1v1h-1zM273.6 180.5h1v1h-1zM294.6 188.3h1v1h-1zM303.6 184.2h1v1h-1zM256.8 174.9h1v1h-1zM257.2 181.7h1v1h-1zM308.7 203.9h1v1h-1zM274.0 170.8h1v1h-1zM290.4 227.9h1v1h-1zM296.0 233.0h1v1h-1zM281.1 201.1h1v1h-1zM253.1 226.5h1v1h-1zM284.4 219.0h1v1h-1zM301.3 192.0h1v1h-1zM284.1 205.0h1v1h-1zM271.4 203.8h1v1h-1zM274.7 211.3h1v1h-1zM295.8 189.2h1v1h-1zM306.8 186.4h1v1h-1zM273.2 235.2h1v1h-1zM258.0 193.1h1v1h-1zM307.7 207.5h1v1h-1zM303.1 171.9h1v1h-1zM286.5 168.5h1v1h-1zM288.5 195.0h1v1h-1zM305.4 195.1h1v1h-1zM289.1 201.5h1v1h-1zM302.3 227.2h1v1h-1zM262.7 176.5h1v1h-1zM259.5 234.6h1v1h-1zM293.4 168.4h1v1h-1zM279.4 196.9h1v1h-1zM271.8 219.8h1v1h-1zM269.9 190.0h1v1h-1zM277.7 186.2h1v1h-1zM256.5 214.1h1v1h-1zM288.4 232.6h1v1h-1zM281.7 190.4h1v1h-1zM266.0 211.4h1v1h-1zM264.3 167.8h1v1h-1zM278.4 211.8h1v1h-1zM263.3 198.9h1v1h-1zM256.6 171.0h1v1h-1zM304.3 212.2h1v1h-1zM263.7 168.2h1v1h-1zM263.9 216.9h1v1h-1zM261.7 220.4h1v1h-1zM251.7 228.5h1v1h-1zM256.1 217.4h1v1h-1zM268.4 216.2h1v1h-1zM280.8 168.5h1v1h-1zM304.7 214.1h1v1h-1zM284.5 212.4h1v1h-1zM285.3 220.9h1v1h-1zM282.9 231.5h1v1h-1zM266.5 201.3h1v1h-1zM303.8 173.9h1v1h-1zM275.0 221.4h1v1h-1zM289.0 192.7h1v1h-1zM280.1 185.4h1v1h-1zM258.8 187.9h1v1h-1zM275.2 179.0h1v1h-1zM281.5 184.1h1v1h-1zM252.4 195.1h1v1h-1zM261.5 229.1h1v1h-1zM261.2 188.8h1v1h-1zM253.3 187.5h1v1h-1zM261.7 220.4h1v1h-1zM277.6 168.2h1v1h-1zM309.4 198.8h1v1h-1zM298.1 219.5h1v1h-1zM307.6 205.0h1v1h-1zM304.2 174.2h1v1h-1zM276.6 168.5h1v1h-1zM289.7 206.9h1v1h-1zM265.6 178.0h1v1h-1zM265.3 178.3h1v1h-1zM293.8 177.7h1v1h-1zM285.7 199.6h1v1h-1zM251.3 189.3h1v1h-1zM251.6 182.2h1v1h-1zM297.9 185.2h1v1h-1zM273.5 214.1h1v1h-1zM281.8 167.7h1v1h-1zM294.7 208.3h1v1h-1zM292.1 182.4h1v1h-1zM293.6 189.3h1v1h-1zM302.0 199.1h1v1h-1zM264.0 227.6h1v1h-1zM289.4 179.8h1v1h-1zM291.4 224.6h1v1h-1zM257.0 214.3h1v1h-1zM278.0 198.3h1v1h-1zM304.5 197.8h1v1h-1zM270.8 234.6h1v1h-1zM308.5 183.1h1v1h-1zM266.8 208.7h1v1h-1zM252.6 184.7h1v1h-1zM286.3 230.3h1v1h-1zM288.7 184.7h1v1h-1zM273.6 207.2h1v1h-1zM276.5 171.8h1v1h-1zM277.9 191.7h1v1h-1zM294.6 167.1h1v1h-1zM301.0 198.7h1v1h-1zM269.4 198.1h1v1h-1zM266.6 201.1h1v1h-1zM302.6 194.2h1v1h-1zM287.9 187.3h1v1h-1zM274.9 205.6h1v1h-1zM305.0 178.1h1v1h-1zM289.5 192.6h1v1h-1zM259.2 214.3h1v1h-1zM283.6 175.7h1v1h-1zM290.9 226.4h1v1h-1zM265.0 197.9h1v1h-1zM301.0 166.4h1v1h-1zM290.2 209.7h1v1h-1zM262.7 191.1h1v1h-1zM290.0 204.4h1v1h-1zM304.5 196.1h1v1h-1zM295.1 216.2h1v1h-1zM289.8 230.3h1v1h-1zM285.2 227.6h1v1h-1zM303.7 177.7h1v1h-1zM257.1 226.0h1v1h-1zM260.3 227.3h1v1h-1zM287.2 222.8h1v1h-1zM280.2 209.8h1v1h-1zM298.5 202.3h1v1h-1zM300.3 225.3h1v1h-1zM262.8 179.5h1v1h-1zM284.1 174.5h1v1h-1zM280.0 221.5h1v1h-1zM269.9 184.5h1v1h-1zM295.5 198.2h1v1h-1zM255.8 203.7h1v1h-1zM290.4 186.5h1v1h-1zM305.9 204.5h1v1h-1zM287.9 212.4h1v1h-1zM271.9 192.0h1v1h-1zM286.2 180.7h1v1h-1zM277.6 230.5h1v1h-1zM267.5 224.4h1v1h-1zM261.3 219.1h1v1h-1zM254.2 218.8h1v1h-1zM295.1 199.8h1v1h-1zM271.7 191.6h1v1h-1zM270.7 171.8h1v1h-1zM271.3 235.0h1v1h-1zM254.4 182.8h1v1h-1zM289.6 214.7h1v1h-1z"/>
<path fill="#7684f2" d="M268.5 208.9h1v1h-1zM294.5 216.8h1v1h-1zM290.1 168.1h1v1h-1zM282.9 182.7h1v1h-1zM250.9 180.0h1v1h-1zM285.9 228.3h1v1h-1zM257.5 192.4h1v1h-1zM285.2 213.9h1v1h-1zM296.3 175.6h1v1h-1zM259.6 213.4h1v1h-1zM270.0 187.7h1v1h-1zM295.7 183.3h1v1h-1zM256.7 209.0h1v1h-1zM265.9 204.9h1v1h-1zM287.6 224.1h1v1h-1zM307.5 212.8h1v1h-1zM299.3 201.2h1v1h-1zM268.1 195.0h1v1h-1zM303.0 178.6h1v1h-1zM284.6 205.3h1v1h-1zM256.0 217.5h1v1h-1zM295.9 187.1h1v1h-1zM260.4 223.7h1v1h-1zM284.6 188.9h1v1h-1zM284.1 218.2h1v1h-1zM300.0 213.9h1v1h-1zM264.9 213.6h1v1h-1zM256.7 185.3h1v1h-1zM260.3 212.6h1v1h-1zM309.1 170.1h1v1h-1zM273.6 203.7h1v1h-1zM279.1 234.6h1v1h-1zM291.4 202.7h1v1h-1zM309.1 196.5h1v1h-1zM268.6 169.4h1v1h-1zM280.7 221.7h1v1h-1zM278.7 217.3h1v1h-1zM279.3 233.9h1v1h-1zM252.9 189.1h1v1h-1zM305.7 198.7h1v1h-1zM304.5 214.4h1v1h-1zM272.6 167.1h1v1h-1zM263.1 208.0h1v1h-1zM309.7 192.0h1v1h-1zM294.5 216.5h1v1h-1zM255.9 169.2h1v1h-1zM294.3 222.7h1v1h-1zM275.6 204.0h1v1h-1zM299.3 204.8h1v1h-1zM270.7 192.8h1v1h-1zM255.9 219.7h1v1h-1zM296.7 199.6h1v1h-1zM289.9 232.7h1v1h-1zM267.1 234.4h1v1h-1zM253.1 213.2h1v1h-1zM262.0 191.0h1v1h-1zM290.8 212.2h1v1h-1zM252.2 176.5h1v1h-1zM280.7 222.7h1v1h-1zM290.9 180.5h1v1h-1zM301.4 229.5h1v1h-1zM296.0 169.2h1v1h-1zM292.6 233.3h1v1h-1zM254.9 180.6h1v1h-1zM303.4 176.3h1v1h-1zM295.9 219.2h1v1h-1zM255.9 197.9h1v1h-1zM297.3 171.3h1v1h-1zM253.3 170.6h1v1h-1zM265.2 222.7h1v1h-1zM292.5 178.1h1v1h-1zM293.2 220.5h1v1h-1zM279.6 200.2h1v1h-1zM296.1 225.1h1v1h-1zM308.7 208.1h1v1h-1zM271.1 235.3h1v1h-1zM268.1 182.9h1v1h-1zM279.0 171.8h1v1h-1zM294.2 192.2h1v1h-1zM275.4 172.3h1v1h-1zM285.3 187.9h1v1h-1zM265.0 181.3h1v1h-1zM301.6 223.6h1v1h-1zM306.4 201.1h1v1h-1zM276.8 191.3h1v1h-1zM253.7 178.7h1v1h-1zM267.1 198.9h1v1h-1zM287.0 193.7h1v1h-1zM308.1 170.8h1v1h-1zM292.0 220.8h1v1h-1zM276.5 169.9h1v1h-1zM294.9 169.7h1v1h-1zM253.4 231.5h1v1h-1zM298.4 208.8h1v1h-1zM282.9 224.3h1v1h-1zM288.0 204.5h1v1h-1zM291.1 228.2h1v1h-1zM266.0 197.1h1v1h-1zM261.7 193.7h1v1h-1zM273.3 182.8h1v1h-1zM270.6 172.5h1v1h-1zM308.1 206.2h1v1h-1zM273.0 210.1h1v1h-1zM270.4 179.5h1v1h-1zM270.6 174.2h1v1h-1zM279.0 207.6h1v1h-1zM267.2 174.6h1v1h-1zM269.8 182.0h1v1h-1zM263.1 175.1h1v1h-1zM255.1 171.0h1v1h-1zM272.2 205.0h1v1h-1zM283.4 206.1h1v1h-1zM300.9 213.0h1v1h-1zM279.7 194.4h1v1h-1zM280.6 229.8h1v1h-1zM286.6 221.8h1v1h-1zM265.2 214.8h1v1h-1zM257.2 231.6h1v1h-1zM295.1 189.4h1v1h-1zM256.9 184.7h1v1h-1zM291.2 231.1h1v1h-1zM293.2 184.2h1v1h-1zM264.2 232.1h1v1h-1zM251.4 211.9h1v1h-1zM259.8 227.4h1v1h-1zM273.5 235.5h1v1h-1zM288.9 223.9h1v1h-1zM294.7 234.4h1v1h-1zM270.2 185.6h1v1h-1zM303.9 211.8h1v1h-1zM281.4 232.2h1v1h-1zM288.6 183.0h1v1h-1zM276.1 181.3h1v1h-1zM281.9 184.1h1v1h-1zM252.8 193.2h1v1h-1zM284.6 179.6h1v1h-1zM251.6 181.8h1v1h-1zM275.9 212.4h1v1h-1zM291.8 201.9h1v1h-1zM264.6 178.9h1v1h-1zM282.7 231.7h1v1h-1zM304.6 216.1h1v1h-1zM278.9 220.3h1v1h-1zM303.4 224.0h1v1h-1zM258.3 191.8h1v1h-1zM281.0 205.3h1v1h-1zM283.2 218.9h1v1h-1zM265.2 186.3h1v1h-1zM285.0 173.5h1v1h-1zM283.2 177.4h1v1h-1zM276.4 230.6h1v1h-1zM281.7 169.9h1v1h-1zM301.1 196.8h1v1h-1zM300.1 207.5h1v1h-1zM274.9 181.0h1v1h-1zM300.4 205.8h1v1h-1zM303.1 206.4h1v1h-1zM251.5 226.8h1v1h-1zM299.2 229.0h1v1h-1zM297.4 218.5h1v1h-1zM300.5 220.3h1v1h-1zM286.6 214.1h1v1h-1zM290.5 193.7h1v1h-1zM288.4 208.1h1v1h-1zM272.0 212.7h1v1h-1zM296.8 234.8h1v1h-1zM277.6 232.1h1v1h-1zM303.2 211.0h1v1h-1zM301.0 178.9h1v1h-1zM268.9 230.8h1v1h-1zM307.8 189.8h1v1h-1zM252.1 227.6h1v1h-1zM302.7 196.7h1v1h-1zM256.8 218.9h1v1h-1zM274.0 192.0h1v1h-1zM256.6 215.2h1v1h-1zM286.3 178.9h1v1h-1zM299.9 170.4h1v1h-1zM303.1 197.5h1v1h-1zM298.1 203.8h1v1h-1zM304.4 169.2h1v1h-1zM280.0 170.8h1v1h-1zM272.5 197.7h1v1h-1zM259.9 229.1h1v1h-1zM255.4 182.3h1v1h-1zM273.9 171.5h1v1h-1zM272.1 207.8h1v1h-1zM279.2 202.1h1v1h-1zM291.9 202.4h1v1h-1zM277.7 219.8h1v1h-1zM266.4 199.2h1v1h-1zM276.7 182.6h1v1h-1zM259.1 195.3h1v1h-1zM276.1 213.3h1v1h-1zM287.9 203.4h1v1h-1zM278.6 189.7h1v1h-1zM254.9 179.0h1v1h-1zM302.1 189.3h1v1h-1zM269.6 175.1h1v1h-1zM302.5 175.7h1v1h-1zM265.2 211.6h1v1h-1zM259.5 170.4h1v1h-1zM292.6 209.2h1v1h-1zM264.1 170.2h1v1h-1zM306.5 208.8h1v1h-1zM273.9 199.1h1v1h-1zM303.6 196.4h1v1h-1zM252.5 198.4h1v1h-1zM266.3 191.1h1v1h-1zM285.6 168.1h1v1h-1zM293.9 186.8h1v1h-1zM298.4 213.4h1v1h-1zM250.8 228.6h1v1h-1zM257.0 189.3h1v1h-1zM283.0 201.6h1v1h-1zM278.8 181.2h1v1h-1zM290.2 202.8h1v1h-1zM275.7 182.0h1v1h-1zM254.2 172.1h1v1h-1zM293.5 231.8h1v1h-1zM263.9 189.2h1v1h-1zM251.9 233.3h1v1h-1zM271.0 220.1h1v1h-1zM293.3 234.4h1v1h-1zM256.3 178.9h1v1h-1zM287.6 226.9h1v1h-1zM267.4 169.6h1v1h-1zM261.4 190.5h1v1h-1zM289.4 168.7h1v1h-1zM273.0 192.1h1v1h-1zM290.7 202.5h1v1h-1zM289.3 231.3h1v1h-1zM253.1 219.1h1v1h-1zM304.9 177.2h1v1h-1zM295.3 223.3h1v1h-1zM305.3 179.9h1v1h-1zM267.7 194.2h1v1h-1zM259.6 202.3h1v1h-1zM267.5 219.9h1v1h-1zM291.0 208.0h1v1h-1zM266.5 175.2h1v1h-1zM300.8 166.6h1v1h-1zM255.3 199.7h1v1h-1zM290.8 221.5h1v1h-1zM275.1 167.1h1v1h-1zM299.6 234.3h1v1h-1zM262.7 196.9h1v1h-1zM265.3 201.5h1v1h-1zM293.6 175.4h1v1h-1zM272.8 167.7h1v1h-1zM308.3 191.5h1v1h-1zM275.4 169.0h1v1h-1zM279.8 175.8h1v1h-1zM274.8 222.8h1v1h-1zM286.8 171.5h1v1h-1zM282.3 229.7h1v1h-1zM295.5 196.6h1v1h-1zM309.0 189.1h1v1h-1zM276.3 197.6h1v1h-1zM277.0 230.7h1v1h-1zM255.9 234.2h1v1h-1zM264.6 206.8h1v1h-1zM258.3 228.7h1v1h-1zM271.4 175.2h1v1h-1zM272.3 183.0h1v1h-1zM258.6 230.6h1v1h-1zM267.9 213.1h1v1h-1zM282.0 202.6h1v1h-1zM285.7 206.6h1v1h-1zM287.9 189.6h1v1h-1zM282.1 176.6h1v1h-1zM299.3 210.1h1v1h-1zM270.5 202.5h1v1h-1zM255.3 180.1h1v1h-1zM299.3 228.8h1v1h-1zM279.1 183.9h1v1h-1zM256.7 222.9h1v1h-1zM260.2 225.9h1v1h-1zM265.3 232.0h1v1h-1zM276.2 210.7h1v1h-1zM270.2 166.7h1v1h-1zM274.0 235.7h1v1h-1zM300.1 193.3h1v1h-1zM274.0 209.0h1v1h-1zM268.5 177.7h1v1h-1zM270.5 233.4h1v1h-1zM294.9 186.5h1v1h-1zM291.9 227.1h1v1h-1zM281.3 219.6h1v1h-1zM307.0 201.1h1v1h-1zM282.6 190.3h1v1h-1z"/>
<path fill="#1428ee" d="M263.1 228.4h1v1h-1zM299.3 197.6h1v1h-1zM259.2 235.3h1v1h-1zM271.1 174.5h1v1h-1zM273.0 193.9h1v1h-1zM292.1 219.7h1v1h-1zM302.3 168.0h1v1h-1zM282.2 219.7h1v1h-1zM288.3 223.4h1v1h-1zM290.6 178.6h1v1h-1zM275.7 176.3h1v1h-1zM290.5 196.5h1v1h-1zM254.9 203.4h1v1h-1zM262.5 167.4h1v1h-1zM278.1 218.5h1v1h-1zM278.5 177.6h1v1h-1zM256.2 181.4h1v1h-1zM283.3 199.6h1v1h-1zM281.5 203.3h1v1h-1zM271.0 225.5h1v1h-1zM290.7 184.1h1v1h-1zM282.5 206.7h1v1h-1zM268.9 189.2h1v1h-1zM301.4 190.4h1v1h-1zM252.2 233.8h1v1h-1zM291.7 174.2h1v1h-1zM261.3 212.5h1v1h-1zM296.5 195.6h1v1h-1zM299.0 203.7h1v1h-1zM300.0 226.7h1v1h-1zM251.1 217.4h1v1h-1zM270.7 234.1h1v1h-1zM250.6 190.1h1v1h-1zM272.4 188.9h1v1h-1zM285.5 206.8h1v1h-1zM308.1 182.0h1v1h-1zM252.3 234.4h1v1h-1zM295.3 199.6h1v1h-1zM262.5 214.6h1v1h-1zM261.7 170.9h1v1h-1zM300.1 175.2h1v1h-1zM289.9 226.9h1v1h-1zM278.5 177.6h1v1h-1zM303.1 196.2h1v1h-1zM279.4 221.2h1v1h-1zM300.0 190.5h1v1h-1zM265.7 216.0h1v1h-1zM277.5 206.6h1v1h-1zM281.8 202.1h1v1h-1zM285.6 221.6h1v1h-1zM307.8 197.3h1v1h-1zM267.5 206.0h1v1h-1zM305.2 175.4h1v1h-1zM254.2 205.7h1v1h-1zM288.8 177.2h1v1h-1zM280.0 191.6h1v1h-1zM264.3 230.7h1v1h-1zM296.2 169.7h1v1h-1zM298.8 220.6h1v1h-1zM287.3 210.1h1v1h-1zM280.9 223.4h1v1h-1zM282.7 235.3h1v1h-1zM255.3 231.0h1v1h-1zM288.3 223.7h1v1h-1zM267.6 198.2h1v1h-1zM265.0 225.8h1v1h-1zM308.7 184.8h1v1h-1zM264.5 168.6h1v1h-1zM289.4 196.7h1v1h-1zM251.9 200.3h1v1h-1zM254.9 195.6h1v1h-1zM253.5 196.8h1v1h-1zM264.9 227.7h1v1h-1zM264.4 223.3h1v1h-1zM287.8 230.8h1v1h-1zM268.3 235.2h1v1h-1zM267.7 198.5h1v1h-1zM266.0 175.8h1v1h-1zM283.7 180.3h1v1h-1zM291.7 176.3h1v1h-1zM300.4 207.8h1v1h-1zM258.4 208.7h1v1h-1zM268.6 173.3h1v1h-1zM274.8 183.9h1v1h-1zM265.0 205.4h1v1h-1zM292.4 191.0h1v1h-1zM278.2 210.7h1v1h-1zM300.9 221.0h1v1h-1zM262.0 235.1h1v1h-1zM258.0 202.1h1v1h-1zM307.1 211.1h1v1h-1zM272.9 181.4h1v1h-1zM305.1 170.2h1v1h-1zM277.8 198.7h1v1h-1zM291.6 170.3h1v1h-1zM254.5 206.5h1v1h-1zM266.3 193.2h1v1h-1zM285.3 216.7h1v1h-1zM293.2 198.3h1v1h-1zM288.9 179.6h1v1h-1zM295.4 183.7h1v1h-1zM300.0 226.3h1v1h-1zM267.8 184.5h1v1h-1zM282.0 222.2h1v1h-1zM302.5 195.9h1v1h-1zM288.1 226.2h1v1h-1zM254.2 172.8h1v1h-1zM275.2 191.3h1v1h-1zM307.7 207.4h1v1h-1zM270.0 185.1h1v1h-1zM260.0 225.4h1v1h-1zM291.1 196.3h1v1h-1zM260.4 210.6h1v1h-1zM268.5 227.6h1v1h-1zM260.4 205.1h1v1h-1zM252.3 219.1h1v1h-1zM271.8 224.7h1v1h-1zM294.1 201.4h1v1h-1zM284.3 207.5h1v1h-1zM260.8 174.3h1v1h-1zM287.9 192.8h1v1h-1zM280.8 214.8h1v1h-1zM274.5 176.0h1v1h-1zM284.8 174.6h1v1h-1zM301.5 208.0h1v1h-1zM250.4 182.3h1v1h-1zM278.1 196.7h1v1h-1zM271.8 196.1h1v1h-1zM269.4 182.4h1v1h-1zM272.0 196.8h1v1h-1zM290.8 226.6h1v1h-1zM304.2 214.4h1v1h-1zM304.5 191.5h1v1h-1zM294.7 217.6h1v1h-1zM285.2 217.0h1v1h-1zM295.1 203.7h1v1h-1zM270.1 176.9h1v1h-1zM292.2 178.9h1v1h-1zM278.8 173.7h1v1h-1zM253.9 215.6h1v1h-1zM270.5 204.7h1v1h-1zM292.5 199.8h1v1h-1zM264.4 171.1h1v1h-1zM293.0 185.1h1v1h-1zM251.1 227.6h1v1h-1zM279.0 210.0h1v1h-1zM265.3 230.8h1v1h-1zM302.5 223.9h1v1h-1zM263.3 231.1h1v1h-1zM268.9 221.4h1v1h-1zM303.3 219.2h1v1h-1zM306.2 209.9h1v1h-1zM266.9 171.1h1v1h-1zM254.3 211.5h1v1h-1zM285.3 210.7h1v1h-1zM296.9 182.0h1v1h-1zM269.8 197.3h1v1h-1zM285.3 206.4h1v1h-1zM253.5 206.7h1v1h-1zM290.4 228.8h1v1h-1zM268.0 182.6h1v1h-1zM303.1 212.0h1v1h-1zM285.8 193.0h1v1h-1zM263.5 223.9h1v1h-1zM273.1 207.6h1v1h-1zM281.7 200.5h1v1h-1zM288.2 179.4h1v1h-1zM294.0 192.2h1v1h-1zM309.4 192.3h1v1h-1zM301.7 227.0h1v1h-1zM274.0 226.7h1v1h-1zM266.4 235.4h1v1h-1zM280.8 230.8h1v1h-1zM284.8 169.5h1v1h-1zM269.7 194.3h1v1h-1zM266.6 209.0h1v1h-1zM269.2 227.6h1v1h-1zM277.3 170.7h1v1h-1zM276.9 203.2h1v1h-1zM276.5 183.0h1v1h-1zM254.3 169.6h1v1h-1zM254.4 187.7h1v1h-1zM287.4 190.7h1v1h-1zM276.4 181.5h1v1h-1zM281.1 196.7h1v1h-1zM274.6 209.0h1v1h-1zM267.5 209.5h1v1h-1zM265.2 202.8h1v1h-1zM279.8 213.9h1v1h-1zM264.1 232.7h1v1h-1zM267.3 187.3h1v1h-1zM264.5 185.0h1v1h-1zM284.5 174.3h1v1h-1zM270.8 194.3h1v1h-1zM272.6 209.5h1v1h-1zM269.0 228.6h1v1h-1zM290.6 228.2h1v1h-1zM254.4 215.3h1v1h-1zM301.5 207.7h1v1h-1zM296.6 209.3h1v1h-1zM253.7 188.1h1v1h-1zM265.2 193.8h1v1h-1zM259.5 222.8h1v1h-1zM253.6 190.3h1v1h-1zM287.2 200.6h1v1h-1zM275.6 211.0h1v1h-1zM299.0 176.0h1v1h-1zM294.7 209.4h1v1h-1zM285.3 175.4h1v1h-1zM277.4 188.2h1v1h-1zM285.7 223.1h1v1h-1zM288.4 212.2h1v1h-1zM304.7 194.0h1v1h-1zM308.1 187.6h1v1h-1zM264.5 194.0h1v1h-1zM303.4 225.7h1v1h-1zM250.8 171.2h1v1h-1zM292.1 198.7h1v1h-1zM264.1 181.8h1v1h-1zM252.9 168.7h1v1h-1zM262.2 225.6h1v1h-1zM306.2 197.4h1v1h-1zM253.9 196.0h1v1h-1zM297.4 190.5h1v1h-1zM258.1 193.2h1v1h-1zM283.9 173.0h1v1h-1zM254.0 225.5h1v1h-1zM276.4 173.1h1v1h-1zM277.0 218.7h1v1h-1zM304.0 168.6h1v1h-1zM299.0 171.5h1v1h-1zM271.0 186.9h1v1h-1zM288.3 175.6h1v1h-1zM264.7 182.5h1v1h-1zM278.0 201.1h1v1h-1zM269.1 201.1h1v1h-1zM304.3 169.0h1v1h-1zM281.7 196.3h1v1h-1zM302.6 198.0h1v1h-1zM290.7 211.6h1v1h-1zM301.7 189.6h1v1h-1zM273.5 223.9h1v1h-1zM300.6 198.4h1v1h-1zM280.9 208.1h1v1h-1zM282.7 203.9h1v1h-1zM300.5 216.3h1v1h-1zM286.3 182.0h1v1h-1zM289.4 212.5h1v1h-1zM300.6 210.8h1v1h-1zM283.7 232.0h1v1h-1zM291.4 196.8h1v1h-1zM251.1 181.0h1v1h-1zM268.9 228.6h1v1h-1zM293.5 227.7h1v1h-1zM269.7 191.7h1v1h-1zM271.4 232.7h1v1h-1zM303.5 206.5h1v1h-1zM272.4 172.1h1v1h-1zM303.3 227.8h1v1h-1zM290.6 180.0h1v1h-1zM306.2 214.7h1v1h-1zM299.8 205.7h1v1h-1zM279.2 216.1h1v1h-1zM305.9 182.3h1v1h-1zM305.0 207.1h1v1h-1zM270.2 213.3h1v1h-1zM288.4 218.7h1v1h-1zM268.8 229.4h1v1h-1zM287.1 212.9h1v1h-1zM274.2 198.6h1v1h-1zM278.5 205.3h1v1h-1zM276.1 229.3h1v1h-1zM255.7 173.0h1v1h-1zM305.8 200.5h1v1h-1zM290.8 197.0h1v1h-1zM268.2 209.1h1v1h-1zM289.9 233.4h1v1h-1zM263.7 181.0h1v1h-1zM270.4 220.8h1v1h-1zM303.5 205.8h1v1h-1zM287.5 183.5h1v1h-1zM282.1 216.7h1v1h-1zM263.8 182.8h1v1h-1zM300.9 212.0h1v1h-1zM273.1 226.9h1v1h-1zM265.6 201.8h1v1h-1zM255.1 175.8h1v1h-1zM286.6 174.1h1v1h-1z"/>
<path fill="#a0aaf6" d="M302.9 196.8h1v1h-1zM291.0 206.2h1v1h-1zM296.5 218.8h1v1h-1zM289.4 195.6h1v1h-1zM254.7 209.2h1v1h-1zM301.4 170.3h1v1h-1zM296.5 191.2h1v1h-1zM299.4 228.4h1v1h-1zM276.9 225.5h1v1h-1zM294.6 209.8h1v1h-1zM254.1 193.2h1v1h-1zM275.0 220.0h1v1h-1zM286.2 203.1h1v1h-1zM277.5 193.5h1v1h-1zM264.6 225.3h1v1h-1zM285.0 206.6h1v1h-1zM271.4 202.1h1v1h-1zM251.3 171.7h1v1h-1zM291.7 169.2h1v1h-1zM286.4 228.4h1v1h-1zM255.3 170.7h1v1h-1zM256.2 184.9h1v1h-1zM287.3 178.0h1v1h-1zM280.3 222.6h1v1h-1zM262.9 229.4h1v1h-1zM286.9 209.2h1v1h-1zM257.2 218.5h1v1h-1zM291.1 202.6h1v1h-1zM284.8 168.5h1v1h-1zM274.5 198.5h1v1h-1zM263.2 172.1h1v1h-1zM274.7 229.1h1v1h-1zM293.6 199.5h1v1h-1zM282.7 186.5h1v1h-1zM279.3 232.2h1v1h-1zM302.5 204.3h1v1h-1zM295.5 220.3h1v1h-1zM283.8 183.5h1v1h-1zM251.5 219.9h1v1h-1zM274.5 185.2h1v1h-1zM274.7 195.3h1v1h-1zM300.8 183.6h1v1h-1zM280.2 209.5h1v1h-1zM293.7 195.8h1v1h-1zM293.9 217.9h1v1h-1zM293.9 202.0h1v1h-1zM282.6 182.4h1v1h-1zM287.5 180.9h1v1h-1zM301.4 210.6h1v1h-1zM256.0 231.9h1v1h-1zM279.3 172.9h1v1h-1zM275.1 190.2h1v1h-1zM277.4 187.8h1v1h-1zM261.8 202.5h1v1h-1zM285.7 201.7h1v1h-1zM254.0 230.7h1v1h-1zM257.2 179.9h1v1h-1zM296.6 174.9h1v1h-1zM307.5 200.6h1v1h-1zM285.4 217.8h1v1h-1zM260.1 197.5h1v1h-1zM260.8 197.4h1v1h-1zM272.4 192.1h1v1h-1zM266.1 189.8h1v1h-1zM301.4 213.9h1v1h-1zM250.3 196.4h1v1h-1zM281.5 179.5h1v1h-1zM290.4 183.1h1v1h-1zM258.1 208.3h1v1h-1zM279.8 172.5h1v1h-1zM258.3 178.5h1v1h-1zM300.3 221.9h1v1h-1zM283.7 184.9h1v1h-1zM281.2 183.4h1v1h-1zM293.9 194.2h1v1h-1zM260.9 187.6h1v1h-1zM304.9 186.0h1v1h-1zM273.6 170.4h1v1h-1zM294.2 232.6h1v1h-1zM303.2 203.3h1v1h-1zM279.8 205.3h1v1h-1zM262.2 196.3h1v1h-1zM267.1 175.5h1v1h-1zM271.1 180.1h1v1h-1zM289.0 229.2h1v1h-1zM268.7 180.6h1v1h-1zM258.5 190.4h1v1h-1zM263.0 230.8h1v1h-1zM291.1 173.6h1v1h-1zM256.7 195.6h1v1h-1zM277.5 170.0h1v1h-1zM303.0 200.4h1v1h-1zM259.4 220.1h1v1h-1zM285.5 195.9h1v1h-1zM295.7 210.9h1v1h-1zM266.2 187.9h1v1h-1zM282.9 209.1h1v1h-1zM276.6 223.3h1v1h-1zM260.9 208.6h1v1h-1zM302.8 201.9h1v1h-1zM272.5 195.5h1v1h-1zM306.7 186.4h1v1h-1zM276.2 173.9h1v1h-1zM265.7 205.6h1v1h-1zM253.0 186.1h1v1h-1zM286.3 194.5h1v1h-1zM261.1 199.6h1v1h-1zM282.0 182.5h1v1h-1zM306.8 199.0h1v1h-1zM302.0 190.4h1v1h-1zM254.1 216.0h1v1h-1zM306.9 195.1h1v1h-1zM270.6 173.4h1v1h-1zM283.1 219.1h1v1h-1zM251.3 173.6h1v1h-1zM273.7 172.9h1v1h-1zM288.3 174.4h1v1h-1zM258.5 180.8h1v1h-1zM307.8 204.9h1v1h-1zM251.2 183.5h1v1h-1zM268.6 207.4h1v1h-1zM285.6 218.4h1v1h-1zM269.4 177.3h1v1h-1zM298.6 208.8h1v1h-1zM300.2 212.0h1v1h-1zM276.7 222.8h1v1h-1zM304.5 195.9h1v1h-1zM263.3 170.8h1v1h-1zM301.2 184.2h1v1h-1zM259.5 209.2h1v1h-1zM262.6 201.4h1v1h-1zM285.3 205.6h1v1h-1zM269.1 233.5h1v1h-1zM267.4 225.5h1v1h-1zM285.5 195.9h1v1h-1zM296.0 183.7h1v1h-1zM276.1 222.6h1v1h-1zM251.0 171.9h1v1h-1zM266.8 201.3h1v1h-1zM257.6 168.0h1v1h-1zM289.5 186.9h1v1h-1zM259.3 200.0h1v1h-1zM252.4 199.4h1v1h-1zM299.4 231.7h1v1h-1zM271.4 173.1h1v1h-1zM275.3 214.5h1v1h-1zM276.1 179.9h1v1h-1zM260.0 196.4h1v1h-1zM290.8 172.6h1v1h-1zM272.8 169.1h1v1h-1zM278.2 227.0h1v1h-1zM285.9 198.0h1v1h-1zM266.7 182.4h1v1h-1zM279.6 222.8h1v1h-1zM266.3 195.7h1v1h-1zM266.7 176.3h1v1h-1zM268.1 179.5h1v1h-1zM287.0 233.4h1v1h-1zM272.3 175.0h1v1h-1zM272.2 234.3h1v1h-1zM287.8 217.6h1v1h-1zM281.2 218.1h1v1h-1zM255.0 173.4h1v1h-1zM277.5 201.1h1v1h-1zM295.2 176.2h1v1h-1zM261.4 175.4h1v1h-1zM251.2 180.8h1v1h-1zM253.2 201.8h1v1h-1zM288.2 171.1h1v1h-1zM268.0 179.2h1v1h-1zM298.1 227.0h1v1h-1zM306.3 213.8h1v1h-1zM273.0 170.0h1v1h-1zM293.7 209.0h1v1h-1zM270.4 207.1h1v1h-1zM301.3 191.5h1v1h-1zM258.0 213.9h1v1h-1zM294.7 182.0h1v1h-1zM302.9 197.6h1v1h-1zM261.8 229.5h1v1h-1zM304.0 180.5h1v1h-1zM255.0 194.6h1v1h-1zM296.9 167.7h1v1h-1zM301.0 220.1h1v1h-1zM305.1 198.4h1v1h-1zM252.2 209.6h1v1h-1zM251.4 230.6h1v1h-1zM256.6 201.2h1v1h-1zM289.8 202.0h1v1h-1zM253.8 232.8h1v1h-1zM286.5 171.5h1v1h-1zM285.0 222.8h1v1h-1zM254.1 179.8h1v1h-1zM265.4 217.6h1v1h-1zM296.5 188.6h1v1h-1zM267.2 210.5h1v1h-1zM252.9 188.4h1v1h-1zM257.2 190.0h1v1h-1zM275.4 212.1h1v1h-1zM279.5 178.1h1v1h-1zM261.0 201.7h1v1h-1zM306.6 174.9h1v1h-1zM260.3 229.6h1v1h-1zM276.7 201.6h1v1h-1zM298.8 221.2h1v1h-1zM287.1 173.4h1v1h-1zM290.7 209.8h1v1h-1zM277.7 213.1h1v1h-1zM276.4 201.7h1v1h-1zM277.3 231.3h1v1h-1zM283.0 169.3h1v1h-1zM293.3 215.7h1v1h-1zM297.6 214.5h1v1h-1zM260.2 189.5h1v1h-1zM269.8 224.6h1v1h-1zM268.8 169.2h1v1h-1zM271.0 186.9h1v1h-1zM272.5 230.2h1v1h-1zM289.7 202.1h1v1h-1zM296.9 173.4h1v1h-1zM298.3 194.1h1v1h-1zM305.0 182.6h1v1h-1zM269.7 208.4h1v1h-1zM279.7 171.2h1v1h-1zM276.0 194.0h1v1h-1zM290.5 191.1h1v1h-1zM276.0 234.7h1v1h-1zM282.5 225.3h1v1h-1zM253.1 198.7h1v1h-1zM307.3 206.0h1v1h-1zM286.2 206.3h1v1h-1zM270.0 222.1h1v1h-1zM288.5 205.2h1v1h-1zM286.6 205.9h1v1h-1zM276.7 202.5h1v1h-1zM304.8 171.0h1v1h-1zM275.0 218.0h1v1h-1zM283.1 212.0h1v1h-1zM273.3 208.2h1v1h-1zM292.1 177.0h1v1h-1zM302.4 201.4h1v1h-1zM288.1 227.2h1v1h-1zM300.0 229.2h1v1h-1zM295.7 184.0h1v1h-1zM256.7 199.0h1v1h-1zM296.6 194.7h1v1h-1zM250.6 231.7h1v1h-1zM305.6 187.5h1v1h-1zM258.1 208.9h1v1h-1zM262.6 232.3h1v1h-1zM280.9 168.8h1v1h-1zM274.1 192.0h1v1h-1zM282.7 204.9h1v1h-1zM288.0 230.0h1v1h-1zM273.0 186.3h1v1h-1zM265.3 187.6h1v1h-1zM253.3 207.4h1v1h-1zM260.1 180.1h1v1h-1zM285.0 184.3h1v1h-1zM292.8 184.7h1v1h-1zM278.7 202.8h1v1h-1zM286.9 225.5h1v1h-1z"/>
<path fill="#1428ee" d="M295.3 235.6h1v1h-1zM308.7 179.2h1v1h-1zM307.6 212.6h1v1h-1zM306.7 205.7h1v1h-1zM305.9 187.7h1v1h-1zM303.4 219.4h1v1h-1zM306.9 208.5h1v1h-1zM307.1 205.1h1v1h-1zM303.1 222.0h1v1h-1zM309.3 195.0h1v1h-1zM307.6 188.2h1v1h-1zM306.7 200.4h1v1h-1zM306.0 184.5h1v1h-1zM308.8 180.5h1v1h-1zM300.0 226.1h1v1h-1zM300.5 224.0h1v1h-1zM297.8 235.1h1v1h-1zM307.3 199.0h1v1h-1zM301.8 225.1h1v1h-1zM298.9 228.9h1v1h-1zM304.3 218.6h1v1h-1zM303.9 212.1h1v1h-1zM309.7 194.7h1v1h-1zM306.9 199.4h1v1h-1zM305.0 202.2h1v1h-1zM309.7 187.7h1v1h-1zM302.3 230.8h1v1h-1zM304.7 205.0h1v1h-1zM308.5 181.6h1v1h-1zM307.2 186.4h1v1h-1zM304.9 216.1h1v1h-1zM306.4 194.7h1v1h-1zM308.6 168.0h1v1h-1zM308.2 199.7h1v1h-1zM308.6 191.8h1v1h-1zM309.1 196.8h1v1h-1zM308.6 191.4h1v1h-1zM307.7 178.0h1v1h-1zM307.7 193.6h1v1h-1zM298.3 234.9h1v1h-1zM304.7 224.0h1v1h-1zM305.6 211.3h1v1h-1zM304.7 218.0h1v1h-1zM309.0 170.9h1v1h-1zM298.1 230.7h1v1h-1zM306.2 218.1h1v1h-1zM302.7 221.4h1v1h-1zM308.1 174.6h1v1h-1zM306.4 211.6h1v1h-1zM303.8 220.3h1v1h-1zM305.1 186.6h1v1h-1zM307.4 183.3h1v1h-1zM306.8 182.0h1v1h-1zM307.9 202.0h1v1h-1zM304.9 218.0h1v1h-1zM309.6 184.5h1v1h-1zM306.0 169.0h1v1h-1zM303.3 224.4h1v1h-1zM308.0 206.3h1v1h-1zM305.9 171.7h1v1h-1zM305.1 169.1h1v1h-1zM308.7 185.1h1v1h-1zM303.5 212.3h1v1h-1zM305.6 192.0h1v1h-1zM305.3 172.7h1v1h-1zM307.7 174.3h1v1h-1z"/>
<path fill="#2236f0" d="M305.5 213.6h1v1h-1zM308.8 177.0h1v1h-1zM308.0 180.4h1v1h-1zM306.9 211.1h1v1h-1zM308.1 184.8h1v1h-1zM302.1 222.1h1v1h-1zM300.5 224.2h1v1h-1zM306.6 178.3h1v1h-1zM306.8 213.8h1v1h-1zM307.8 213.2h1v1h-1zM300.2 227.3h1v1h-1zM307.8 190.9h1v1h-1zM298.9 228.0h1v1h-1zM307.3 175.3h1v1h-1zM305.7 167.6h1v1h-1zM307.0 183.7h1v1h-1zM307.9 178.2h1v1h-1zM300.1 230.7h1v1h-1zM304.8 219.8h1v1h-1zM303.3 214.5h1v1h-1zM301.9 231.5h1v1h-1zM304.0 213.2h1v1h-1zM307.4 172.5h1v1h-1zM304.0 221.7h1v1h-1zM303.8 169.5h1v1h-1zM308.1 188.9h1v1h-1zM308.5 202.4h1v1h-1zM306.4 186.1h1v1h-1zM307.5 215.0h1v1h-1zM308.0 167.9h1v1h-1zM305.7 168.4h1v1h-1zM308.1 179.2h1v1h-1zM300.0 225.0h1v1h-1zM296.2 235.5h1v1h-1zM305.9 210.9h1v1h-1zM307.5 168.5h1v1h-1zM306.5 175.0h1v1h-1zM301.1 225.2h1v1h-1zM304.6 211.3h1v1h-1zM305.2 180.9h1v1h-1zM308.7 180.1h1v1h-1zM306.8 171.1h1v1h-1zM301.0 230.0h1v1h-1zM308.3 202.2h1v1h-1zM305.4 221.9h1v1h-1zM305.2 193.9h1v1h-1zM308.2 174.6h1v1h-1zM307.3 187.9h1v1h-1zM301.9 220.7h1v1h-1zM307.7 203.2h1v1h-1zM306.5 204.3h1v1h-1zM300.7 229.0h1v1h-1zM306.4 184.3h1v1h-1zM308.0 172.8h1v1h-1zM306.5 217.2h1v1h-1zM308.2 192.4h1v1h-1zM307.1 214.2h1v1h-1zM305.3 217.7h1v1h-1zM299.9 235.1h1v1h-1zM306.4 190.4h1v1h-1zM303.6 168.2h1v1h-1zM300.5 224.1h1v1h-1z"/>
<path fill="#3a4cf2" d="M302.8 226.2h1v1h-1zM303.1 226.5h1v1h-1zM307.3 181.2h1v1h-1zM307.6 178.0h1v1h-1zM308.7 202.4h1v1h-1zM302.0 224.2h1v1h-1zM307.7 174.0h1v1h-1zM308.9 185.4h1v1h-1zM304.8 223.1h1v1h-1zM306.2 218.8h1v1h-1zM304.8 221.2h1v1h-1zM298.1 235.1h1v1h-1zM302.6 224.6h1v1h-1zM301.3 226.4h1v1h-1zM307.3 206.1h1v1h-1zM303.6 214.9h1v1h-1zM298.7 228.7h1v1h-1zM304.4 167.5h1v1h-1zM298.9 230.2h1v1h-1zM307.5 175.0h1v1h-1zM305.7 176.2h1v1h-1zM305.7 192.8h1v1h-1zM302.7 225.9h1v1h-1zM302.9 219.1h1v1h-1zM306.6 177.8h1v1h-1zM308.0 204.0h1v1h-1zM305.7 219.9h1v1h-1zM303.9 223.9h1v1h-1zM309.3 192.0h1v1h-1zM305.4 216.2h1v1h-1zM308.7 205.8h1v1h-1zM308.4 200.1h1v1h-1zM303.8 223.0h1v1h-1zM306.5 217.2h1v1h-1zM305.5 217.8h1v1h-1zM308.4 190.6h1v1h-1zM306.5 218.7h1v1h-1zM307.7 181.7h1v1h-1zM305.7 208.1h1v1h-1zM305.6 219.7h1v1h-1zM306.4 216.3h1v1h-1zM309.5 185.3h1v1h-1zM307.8 193.3h1v1h-1zM300.4 230.8h1v1h-1zM305.2 201.8h1v1h-1zM304.6 207.3h1v1h-1zM300.5 234.3h1v1h-1zM307.6 178.7h1v1h-1zM301.0 224.7h1v1h-1zM308.5 194.7h1v1h-1zM309.9 187.9h1v1h-1zM300.5 227.2h1v1h-1zM306.4 194.6h1v1h-1zM297.4 233.6h1v1h-1zM307.9 170.9h1v1h-1zM307.6 205.3h1v1h-1zM308.4 198.0h1v1h-1zM306.4 184.5h1v1h-1zM306.5 198.3h1v1h-1zM301.2 230.7h1v1h-1zM304.2 208.7h1v1h-1zM305.7 170.6h1v1h-1zM307.1 206.7h1v1h-1zM309.6 191.3h1v1h-1zM306.4 219.6h1v1h-1zM303.6 215.6h1v1h-1zM297.2 232.7h1v1h-1zM302.4 221.2h1v1h-1zM307.5 189.5h1v1h-1zM303.4 211.8h1v1h-1zM305.4 194.5h1v1h-1zM306.7 193.8h1v1h-1z"/>
<path fill="#5a6af4" d="M297.9 230.9h1v1h-1zM305.8 205.8h1v1h-1zM304.7 168.8h1v1h-1zM305.7 211.2h1v1h-1zM305.1 202.3h1v1h-1zM307.6 205.7h1v1h-1zM303.4 218.5h1v1h-1zM298.4 230.3h1v1h-1zM307.6 189.9h1v1h-1zM309.3 199.4h1v1h-1zM300.4 226.7h1v1h-1zM305.1 199.1h1v1h-1zM299.8 225.7h1v1h-1zM307.1 198.7h1v1h-1zM306.1 217.4h1v1h-1zM308.5 193.1h1v1h-1zM305.0 197.5h1v1h-1zM307.5 206.1h1v1h-1zM302.1 227.8h1v1h-1zM305.1 204.0h1v1h-1zM305.5 179.0h1v1h-1zM308.1 204.0h1v1h-1zM306.7 184.7h1v1h-1zM301.5 231.9h1v1h-1zM299.0 229.9h1v1h-1zM307.6 186.4h1v1h-1zM302.9 228.8h1v1h-1zM305.8 212.5h1v1h-1zM301.4 224.3h1v1h-1zM306.1 176.3h1v1h-1zM308.5 192.8h1v1h-1zM304.2 171.1h1v1h-1zM307.9 196.0h1v1h-1zM299.0 234.9h1v1h-1zM305.6 216.6h1v1h-1zM307.7 190.5h1v1h-1zM297.9 234.3h1v1h-1zM308.6 199.1h1v1h-1zM309.0 203.3h1v1h-1zM307.9 196.8h1v1h-1zM308.2 202.7h1v1h-1zM308.2 190.8h1v1h-1zM309.0 186.9h1v1h-1zM309.3 177.7h1v1h-1zM302.6 221.6h1v1h-1zM308.8 188.5h1v1h-1zM306.5 206.3h1v1h-1zM306.9 199.8h1v1h-1zM305.9 190.1h1v1h-1zM299.4 226.2h1v1h-1zM300.5 224.8h1v1h-1zM302.4 224.1h1v1h-1zM306.1 192.8h1v1h-1zM304.8 201.4h1v1h-1zM305.2 223.8h1v1h-1zM306.4 204.1h1v1h-1zM307.7 187.9h1v1h-1zM305.9 183.9h1v1h-1zM307.2 213.9h1v1h-1zM307.6 175.5h1v1h-1z"/>
<path fill="#1428ee" d="M254.2 201.8h1v1h-1zM250.6 173.4h1v1h-1zM254.1 187.2h1v1h-1zM251.9 192.6h1v1h-1zM253.6 175.9h1v1h-1zM258.8 178.5h1v1h-1zM255.0 172.5h1v1h-1zM254.1 177.9h1v1h-1zM257.5 175.0h1v1h-1zM256.1 178.1h1v1h-1zM257.6 179.5h1v1h-1zM255.8 183.1h1v1h-1zM253.5 198.2h1v1h-1zM251.6 198.5h1v1h-1zM251.2 174.5h1v1h-1zM256.1 190.9h1v1h-1zM253.9 171.1h1v1h-1zM251.2 181.0h1v1h-1zM255.9 185.0h1v1h-1zM256.9 173.1h1v1h-1zM258.1 172.4h1v1h-1zM256.8 182.5h1v1h-1zM253.0 201.9h1v1h-1zM251.5 182.6h1v1h-1zM259.3 171.4h1v1h-1zM252.9 197.2h1v1h-1zM250.7 207.1h1v1h-1zM258.1 169.7h1v1h-1zM251.6 211.8h1v1h-1zM259.8 176.5h1v1h-1zM255.8 177.9h1v1h-1zM252.3 179.4h1v1h-1zM253.1 193.1h1v1h-1zM257.9 176.0h1v1h-1zM252.9 171.8h1v1h-1zM254.2 191.1h1v1h-1zM251.3 190.7h1v1h-1zM251.5 214.4h1v1h-1zM252.1 184.2h1v1h-1zM253.3 189.0h1v1h-1zM255.8 192.6h1v1h-1zM257.2 171.9h1v1h-1zM253.4 173.9h1v1h-1zM252.0 213.5h1v1h-1zM252.1 191.4h1v1h-1zM260.5 174.1h1v1h-1zM251.1 186.2h1v1h-1zM253.1 185.2h1v1h-1zM254.9 178.8h1v1h-1zM253.0 189.7h1v1h-1zM255.9 172.4h1v1h-1zM252.9 184.9h1v1h-1zM255.1 171.7h1v1h-1zM251.0 211.5h1v1h-1zM253.2 201.4h1v1h-1zM254.6 199.2h1v1h-1z"/>
<path fill="#2236f0" d="M254.7 177.1h1v1h-1zM255.3 186.0h1v1h-1zM256.6 189.1h1v1h-1zM255.1 194.9h1v1h-1zM254.5 178.0h1v1h-1zM252.2 178.8h1v1h-1zM254.4 186.3h1v1h-1zM252.1 179.5h1v1h-1zM254.9 178.2h1v1h-1zM252.4 172.5h1v1h-1zM255.6 183.3h1v1h-1zM258.2 173.6h1v1h-1zM258.9 169.6h1v1h-1zM253.3 197.0h1v1h-1zM251.0 205.1h1v1h-1zM251.8 194.0h1v1h-1zM252.8 203.7h1v1h-1zM251.7 192.5h1v1h-1zM251.5 195.3h1v1h-1zM250.9 201.8h1v1h-1zM251.1 210.4h1v1h-1zM257.8 177.8h1v1h-1zM251.8 194.9h1v1h-1zM251.8 183.5h1v1h-1zM252.6 172.0h1v1h-1zM251.9 209.2h1v1h-1zM250.7 209.8h1v1h-1zM252.0 211.3h1v1h-1zM252.7 208.6h1v1h-1zM252.2 181.8h1v1h-1zM251.1 187.3h1v1h-1zM251.4 213.6h1v1h-1zM257.4 177.3h1v1h-1zM253.2 188.7h1v1h-1zM255.6 190.1h1v1h-1zM254.8 177.8h1v1h-1zM254.7 174.2h1v1h-1zM250.7 207.7h1v1h-1zM252.8 194.7h1v1h-1zM251.7 179.2h1v1h-1zM252.3 195.4h1v1h-1zM251.4 182.9h1v1h-1zM250.9 201.3h1v1h-1zM251.7 198.9h1v1h-1zM250.8 201.3h1v1h-1zM255.3 175.8h1v1h-1zM254.3 196.7h1v1h-1zM251.8 207.1h1v1h-1zM252.0 210.1h1v1h-1zM255.3 192.9h1v1h-1zM258.2 173.3h1v1h-1zM257.0 188.9h1v1h-1zM259.1 179.2h1v1h-1z"/>
<path fill="#3a4cf2" d="M250.6 172.7h1v1h-1zM256.6 185.1h1v1h-1zM256.6 174.7h1v1h-1zM251.1 175.2h1v1h-1zM250.6 208.3h1v1h-1zM256.0 186.9h1v1h-1zM258.1 183.5h1v1h-1zM260.6 173.6h1v1h-1zM254.8 193.7h1v1h-1zM252.6 187.0h1v1h-1zM254.6 195.7h1v1h-1zM255.7 196.4h1v1h-1zM259.0 170.9h1v1h-1zM256.0 183.7h1v1h-1zM254.4 185.0h1v1h-1zM253.5 193.2h1v1h-1zM252.7 173.9h1v1h-1zM251.7 181.4h1v1h-1zM260.2 173.8h1v1h-1zM260.1 169.7h1v1h-1zM251.6 191.7h1v1h-1zM255.6 173.3h1v1h-1zM252.6 177.3h1v1h-1zM251.4 204.1h1v1h-1zM255.2 176.2h1v1h-1zM252.6 191.4h1v1h-1zM251.2 193.5h1v1h-1zM251.1 184.3h1v1h-1zM259.1 171.8h1v1h-1zM250.8 180.2h1v1h-1zM257.3 173.4h1v1h-1zM256.8 185.3h1v1h-1zM252.4 186.7h1v1h-1zM250.7 191.0h1v1h-1zM255.3 187.1h1v1h-1zM250.7 172.4h1v1h-1zM253.5 195.2h1v1h-1zM261.0 168.9h1v1h-1zM256.5 179.4h1v1h-1zM252.3 174.8h1v1h-1zM252.6 203.2h1v1h-1zM252.1 195.7h1v1h-1zM252.0 174.8h1v1h-1zM259.5 175.7h1v1h-1zM255.9 172.2h1v1h-1zM256.6 179.2h1v1h-1zM253.9 179.6h1v1h-1zM258.6 173.0h1v1h-1zM250.9 206.2h1v1h-1zM254.7 195.4h1v1h-1zM254.5 185.7h1v1h-1zM250.6 184.7h1v1h-1zM252.1 194.8h1v1h-1zM251.9 181.3h1v1h-1zM252.1 176.1h1v1h-1z"/>
<path fill="#5a6af4" d="M254.7 182.4h1v1h-1zM255.9 195.0h1v1h-1zM251.2 189.3h1v1h-1zM257.8 184.6h1v1h-1zM252.1 211.5h1v1h-1zM252.7 211.4h1v1h-1zM252.1 195.8h1v1h-1zM252.7 185.2h1v1h-1zM255.4 189.1h1v1h-1zM252.5 181.6h1v1h-1zM259.2 177.7h1v1h-1zM254.0 190.3h1v1h-1zM260.9 168.9h1v1h-1zM252.1 207.9h1v1h-1zM252.4 206.7h1v1h-1zM254.4 198.8h1v1h-1zM252.1 201.2h1v1h-1zM259.5 171.6h1v1h-1zM256.5 171.3h1v1h-1zM257.4 181.1h1v1h-1zM257.9 177.1h1v1h-1zM253.1 200.5h1v1h-1zM254.6 187.8h1v1h-1zM255.9 182.7h1v1h-1zM251.9 207.1h1v1h-1zM252.4 209.2h1v1h-1zM252.0 206.7h1v1h-1zM257.8 180.2h1v1h-1zM250.7 177.9h1v1h-1zM254.1 198.4h1v1h-1zM255.0 176.5h1v1h-1zM252.4 192.1h1v1h-1zM258.2 169.5h1v1h-1zM252.1 175.0h1v1h-1zM252.7 193.1h1v1h-1zM254.6 181.9h1v1h-1zM253.0 190.9h1v1h-1zM255.2 198.0h1v1h-1zM253.0 194.2h1v1h-1zM251.9 212.2h1v1h-1zM260.2 170.5h1v1h-1zM256.3 170.6h1v1h-1zM250.9 192.1h1v1h-1zM250.7 182.0h1v1h-1zM255.0 177.5h1v1h-1zM252.5 177.6h1v1h-1zM256.1 192.6h1v1h-1zM254.8 176.4h1v1h-1zM256.1 177.3h1v1h-1zM255.7 189.7h1v1h-1zM253.8 194.3h1v1h-1zM250.6 172.9h1v1h-1zM251.4 206.4h1v1h-1zM251.1 213.5h1v1h-1zM254.8 179.5h1v1h-1zM252.6 191.7h1v1h-1z"/>
<g filter="url(#blur1)">
<path d="M261 169.8 C264.67 167.83 273.17 168.57 280 168.2 C286.83 167.83 297.67 166.97 302 167.6 C306.33 168.23 305.33 168.27 306 172 C306.67 175.73 306.13 184.17 306 190 C305.87 195.83 305.87 201.67 305.2 207 C304.53 212.33 303.37 217 302 222 C300.63 227 305.67 234.5 297 237 C288.33 239.5 257.58 240.83 250 237 C242.42 233.17 250.67 220.83 251.5 214 C252.33 207.17 253.92 201.67 255 196 C256.08 190.33 257 184.37 258 180 C259 175.63 257.33 171.77 261 169.8 Z" fill="#0c1cf2" />
</g>
<g filter="url(#blur15)">
<path d="M263.1 217.3 C263.58 215.85 265.47 213.1 266.9 211.5 C268.33 209.9 270.1 208.82 271.7 207.7 C273.3 206.58 275.05 205.77 276.5 204.8 C277.95 203.83 279.12 202.87 280.4 201.9 C281.68 200.93 283.08 200.12 284.2 199 C285.32 197.88 286.3 196.8 287.1 195.2 C287.9 193.6 288.35 190.85 289 189.4 C289.65 187.95 290.2 187.13 291 186.5 C291.8 185.87 293 185.27 293.8 185.6 C294.6 185.93 295.47 187.07 295.8 188.5 C296.13 189.93 295.97 192.28 295.8 194.2 C295.63 196.12 295.13 198.07 294.8 200 C294.47 201.93 294.43 203.88 293.8 205.8 C293.17 207.72 292.27 209.9 291 211.5 C289.73 213.1 287.97 214.27 286.2 215.4 C284.43 216.53 282.33 217.5 280.4 218.3 C278.47 219.1 276.53 219.72 274.6 220.2 C272.67 220.68 270.57 221.2 268.8 221.2 C267.03 221.2 264.95 220.85 264 220.2 C263.05 219.55 262.62 218.75 263.1 217.3 Z" fill="#3f7ef7" stroke="#3f7ef7" stroke-width="7" stroke-linejoin="round"/>
<path d="M289 184 C289 182.33 291.5 178.33 293 176 C294.5 173.67 296.42 171.3 298 170 C299.58 168.7 301.58 168.2 302.5 168.2 C303.42 168.2 303.92 168.95 303.5 170 C303.08 171.05 301.25 172.83 300 174.5 C298.75 176.17 297.17 178.08 296 180 C294.83 181.92 294.17 185.33 293 186 C291.83 186.67 289 185.67 289 184 Z" fill="#3f7ef7" stroke="#3f7ef7" stroke-width="4.2" stroke-linejoin="round"/>
<path d="M274 199 C273.67 197.33 277 193.67 279 191 C281 188.33 283.67 185.33 286 183 C288.33 180.67 291.17 178.17 293 177 C294.83 175.83 296.33 175.17 297 176 C297.67 176.83 297.67 179.67 297 182 C296.33 184.33 294.5 187.5 293 190 C291.5 192.5 290 195.17 288 197 C286 198.83 283.33 200.67 281 201 C278.67 201.33 274.33 200.67 274 199 Z" fill="#3f7ef7" stroke="#3f7ef7" stroke-width="4.2" stroke-linejoin="round"/>
<path d="M263.1 217.3 C263.58 215.85 265.47 213.1 266.9 211.5 C268.33 209.9 270.1 208.82 271.7 207.7 C273.3 206.58 275.05 205.77 276.5 204.8 C277.95 203.83 279.12 202.87 280.4 201.9 C281.68 200.93 283.08 200.12 284.2 199 C285.32 197.88 286.3 196.8 287.1 195.2 C287.9 193.6 288.35 190.85 289 189.4 C289.65 187.95 290.2 187.13 291 186.5 C291.8 185.87 293 185.27 293.8 185.6 C294.6 185.93 295.47 187.07 295.8 188.5 C296.13 189.93 295.97 192.28 295.8 194.2 C295.63 196.12 295.13 198.07 294.8 200 C294.47 201.93 294.43 203.88 293.8 205.8 C293.17 207.72 292.27 209.9 291 211.5 C289.73 213.1 287.97 214.27 286.2 215.4 C284.43 216.53 282.33 217.5 280.4 218.3 C278.47 219.1 276.53 219.72 274.6 220.2 C272.67 220.68 270.57 221.2 268.8 221.2 C267.03 221.2 264.95 220.85 264 220.2 C263.05 219.55 262.62 218.75 263.1 217.3 Z" fill="#5cd6f6" stroke="#5cd6f6" stroke-width="3.5" stroke-linejoin="round"/>
<path d="M289 184 C289 182.33 291.5 178.33 293 176 C294.5 173.67 296.42 171.3 298 170 C299.58 168.7 301.58 168.2 302.5 168.2 C303.42 168.2 303.92 168.95 303.5 170 C303.08 171.05 301.25 172.83 300 174.5 C298.75 176.17 297.17 178.08 296 180 C294.83 181.92 294.17 185.33 293 186 C291.83 186.67 289 185.67 289 184 Z" fill="#5cd6f6" stroke="#5cd6f6" stroke-width="1.75" stroke-linejoin="round"/>
<path d="M274 199 C273.67 197.33 277 193.67 279 191 C281 188.33 283.67 185.33 286 183 C288.33 180.67 291.17 178.17 293 177 C294.83 175.83 296.33 175.17 297 176 C297.67 176.83 297.67 179.67 297 182 C296.33 184.33 294.5 187.5 293 190 C291.5 192.5 290 195.17 288 197 C286 198.83 283.33 200.67 281 201 C278.67 201.33 274.33 200.67 274 199 Z" fill="#5cd6f6" stroke="#5cd6f6" stroke-width="1.75" stroke-linejoin="round"/>
<path d="M263.1 217.3 C263.58 215.85 265.47 213.1 266.9 211.5 C268.33 209.9 270.1 208.82 271.7 207.7 C273.3 206.58 275.05 205.77 276.5 204.8 C277.95 203.83 279.12 202.87 280.4 201.9 C281.68 200.93 283.08 200.12 284.2 199 C285.32 197.88 286.3 196.8 287.1 195.2 C287.9 193.6 288.35 190.85 289 189.4 C289.65 187.95 290.2 187.13 291 186.5 C291.8 185.87 293 185.27 293.8 185.6 C294.6 185.93 295.47 187.07 295.8 188.5 C296.13 189.93 295.97 192.28 295.8 194.2 C295.63 196.12 295.13 198.07 294.8 200 C294.47 201.93 294.43 203.88 293.8 205.8 C293.17 207.72 292.27 209.9 291 211.5 C289.73 213.1 287.97 214.27 286.2 215.4 C284.43 216.53 282.33 217.5 280.4 218.3 C278.47 219.1 276.53 219.72 274.6 220.2 C272.67 220.68 270.57 221.2 268.8 221.2 C267.03 221.2 264.95 220.85 264 220.2 C263.05 219.55 262.62 218.75 263.1 217.3 Z" fill="#b0ee4a" />
</g>
<g filter="url(#blur08)">
<path d="M277 208 C277.33 206.75 278.5 204.5 279.5 203.5 C280.5 202.5 281.67 202.17 283 202 C284.33 201.83 286.58 201.67 287.5 202.5 C288.42 203.33 288.58 205.42 288.5 207 C288.42 208.58 287.92 210.83 287 212 C286.08 213.17 284.33 213.75 283 214 C281.67 214.25 279.92 214 279 213.5 C278.08 213 277.83 211.92 277.5 211 C277.17 210.08 276.67 209.25 277 208 Z" fill="#e2e236" />
<path d="M269 217.5 C269.17 216.75 270 215.08 271 214.5 C272 213.92 274.17 213.67 275 214 C275.83 214.33 276.33 215.7 276 216.5 C275.67 217.3 274 218.38 273 218.8 C272 219.22 270.67 219.22 270 219 C269.33 218.78 268.83 218.25 269 217.5 Z" fill="#e2e236" />
<path d="M278.5 206.5 C278.62 205.97 279.45 205 280 204.8 C280.55 204.6 281.58 204.83 281.8 205.3 C282.02 205.77 281.72 207.15 281.3 207.6 C280.88 208.05 279.77 208.18 279.3 208 C278.83 207.82 278.38 207.03 278.5 206.5 Z" fill="#f07a22" />
<path d="M284.5 205 C284.7 204.17 285.33 203.17 285.8 203 C286.27 202.83 287.05 203.08 287.3 204 C287.55 204.92 287.43 207.25 287.3 208.5 C287.17 209.75 286.88 211.08 286.5 211.5 C286.12 211.92 285.32 211.58 285 211 C284.68 210.42 284.68 209 284.6 208 C284.52 207 284.3 205.83 284.5 205 Z" fill="#ea6a1e" />
<path d="M279.3 212 C279.25 211.63 279.93 210.88 280.3 210.8 C280.67 210.72 281.45 211.13 281.5 211.5 C281.55 211.87 280.97 212.92 280.6 213 C280.23 213.08 279.35 212.37 279.3 212 Z" fill="#f08a28" />
<path d="M271.4 216.5 C271.33 216.13 272 215.32 272.4 215.2 C272.8 215.08 273.73 215.43 273.8 215.8 C273.87 216.17 273.2 217.28 272.8 217.4 C272.4 217.52 271.47 216.87 271.4 216.5 Z" fill="#f08a28" />
</g>
</g>
<rect x="250.3" y="160.2" width="75.7" height="75.5" fill="none" stroke="#444" stroke-width="0.7" />
<path d="M277.2 168.5 L279.5 163.9 L288 160.8 L298.8 160.1 L308 163.2 L312.6 167.8 L313.4 173.9 L311.8 180.1 L307.2 183.2 L298.8 183.2 L291.8 180.1 L284.2 178.5 L279.5 173.9 Z" fill="none" stroke="#e2141c" stroke-width="1.35" stroke-linejoin="round"/>
<path d="M284.2 178.5 L292.6 180.1 L298.8 183.5 L304.9 185.5 L306.5 188.5 L305.7 209.3 L270.3 194.7 L272.6 187 L278.8 181.6 Z" fill="none" stroke="#e2141c" stroke-width="1.35" stroke-linejoin="round"/>
<path d="M270.3 194.7 L305.7 209.3 L304.9 218.5 L301.8 227 L295.7 234.7 L250.3 234.7 L250.3 207 Z" fill="none" stroke="#e2141c" stroke-width="1.35" stroke-linejoin="round"/>
<text x="257.7" y="167.7" font-size="7.4" textLength="16.3" lengthAdjust="spacingAndGlyphs" font-weight="bold" fill="#e2141c" stroke="#e2141c" stroke-width="0.4">High</text>
<text x="308.8" y="203" font-size="7.4" textLength="14.8" lengthAdjust="spacingAndGlyphs" font-weight="bold" fill="#e2141c" stroke="#e2141c" stroke-width="0.4">Low</text>
<text x="258.1" y="232.9" font-size="7.4" textLength="30.3" lengthAdjust="spacingAndGlyphs" font-weight="bold" fill="#e2141c" stroke="#e2141c" stroke-width="0.4">Negative</text>
<line x1="247.1" y1="228" x2="250.3" y2="228" stroke="#333" stroke-width="0.75" />
<text x="235.1" y="229.7" font-size="5.8" textLength="6.9" lengthAdjust="spacingAndGlyphs" stroke="#231f20" stroke-width="0.08">10</text>
<text x="242.2" y="227.5" font-size="3.6" textLength="1.9" lengthAdjust="spacingAndGlyphs" stroke="#231f20" stroke-width="0.08">1</text>
<line x1="257.3" y1="235.7" x2="257.3" y2="237.7" stroke="#333" stroke-width="0.75" />
<text x="253.2" y="243.9" font-size="5.8" textLength="7" lengthAdjust="spacingAndGlyphs" stroke="#231f20" stroke-width="0.08">10</text>
<text x="260.3" y="241.9" font-size="3.6" textLength="1.9" lengthAdjust="spacingAndGlyphs" stroke="#231f20" stroke-width="0.08">1</text>
<line x1="247.1" y1="212.55" x2="250.3" y2="212.55" stroke="#333" stroke-width="0.75" />
<text x="235.1" y="214.25" font-size="5.8" textLength="6.9" lengthAdjust="spacingAndGlyphs" stroke="#231f20" stroke-width="0.08">10</text>
<text x="242.2" y="212.05" font-size="3.6" textLength="1.9" lengthAdjust="spacingAndGlyphs" stroke="#231f20" stroke-width="0.08">2</text>
<line x1="272.85" y1="235.7" x2="272.85" y2="237.7" stroke="#333" stroke-width="0.75" />
<text x="268.75" y="243.9" font-size="5.8" textLength="7" lengthAdjust="spacingAndGlyphs" stroke="#231f20" stroke-width="0.08">10</text>
<text x="275.85" y="241.9" font-size="3.6" textLength="1.9" lengthAdjust="spacingAndGlyphs" stroke="#231f20" stroke-width="0.08">2</text>
<line x1="247.1" y1="197.1" x2="250.3" y2="197.1" stroke="#333" stroke-width="0.75" />
<text x="235.1" y="198.8" font-size="5.8" textLength="6.9" lengthAdjust="spacingAndGlyphs" stroke="#231f20" stroke-width="0.08">10</text>
<text x="242.2" y="196.6" font-size="3.6" textLength="1.9" lengthAdjust="spacingAndGlyphs" stroke="#231f20" stroke-width="0.08">3</text>
<line x1="288.4" y1="235.7" x2="288.4" y2="237.7" stroke="#333" stroke-width="0.75" />
<text x="284.3" y="243.9" font-size="5.8" textLength="7" lengthAdjust="spacingAndGlyphs" stroke="#231f20" stroke-width="0.08">10</text>
<text x="291.4" y="241.9" font-size="3.6" textLength="1.9" lengthAdjust="spacingAndGlyphs" stroke="#231f20" stroke-width="0.08">3</text>
<line x1="247.1" y1="181.65" x2="250.3" y2="181.65" stroke="#333" stroke-width="0.75" />
<text x="235.1" y="183.35" font-size="5.8" textLength="6.9" lengthAdjust="spacingAndGlyphs" stroke="#231f20" stroke-width="0.08">10</text>
<text x="242.2" y="181.15" font-size="3.6" textLength="1.9" lengthAdjust="spacingAndGlyphs" stroke="#231f20" stroke-width="0.08">4</text>
<line x1="303.95" y1="235.7" x2="303.95" y2="237.7" stroke="#333" stroke-width="0.75" />
<text x="299.85" y="243.9" font-size="5.8" textLength="7" lengthAdjust="spacingAndGlyphs" stroke="#231f20" stroke-width="0.08">10</text>
<text x="306.95" y="241.9" font-size="3.6" textLength="1.9" lengthAdjust="spacingAndGlyphs" stroke="#231f20" stroke-width="0.08">4</text>
<line x1="247.1" y1="166.2" x2="250.3" y2="166.2" stroke="#333" stroke-width="0.75" />
<text x="235.1" y="167.9" font-size="5.8" textLength="6.9" lengthAdjust="spacingAndGlyphs" stroke="#231f20" stroke-width="0.08">10</text>
<text x="242.2" y="165.7" font-size="3.6" textLength="1.9" lengthAdjust="spacingAndGlyphs" stroke="#231f20" stroke-width="0.08">5</text>
<line x1="319.5" y1="235.7" x2="319.5" y2="237.7" stroke="#333" stroke-width="0.75" />
<text x="315.4" y="243.9" font-size="5.8" textLength="7" lengthAdjust="spacingAndGlyphs" stroke="#231f20" stroke-width="0.08">10</text>
<text x="322.5" y="241.9" font-size="3.6" textLength="1.9" lengthAdjust="spacingAndGlyphs" stroke="#231f20" stroke-width="0.08">5</text>
<clipPath id="fc2"><rect x="350.3" y="160.2" width="75.7" height="75.5"/></clipPath>
<g clip-path="url(#fc2)">
<path fill="#c9cff5" d="M380.7 235.6h0.8v0.8h-0.8zM403.7 202.4h0.8v0.8h-0.8zM392.5 232.5h0.8v0.8h-0.8zM360.1 209.9h0.8v0.8h-0.8zM351.0 217.1h0.8v0.8h-0.8zM370.9 208.0h0.8v0.8h-0.8zM419.2 161.8h0.8v0.8h-0.8zM358.7 176.2h0.8v0.8h-0.8zM411.2 229.7h0.8v0.8h-0.8zM420.4 167.2h0.8v0.8h-0.8zM400.1 190.7h0.8v0.8h-0.8zM392.2 199.1h0.8v0.8h-0.8zM384.0 233.2h0.8v0.8h-0.8zM377.9 162.3h0.8v0.8h-0.8zM420.7 202.2h0.8v0.8h-0.8zM425.9 217.2h0.8v0.8h-0.8zM395.1 199.4h0.8v0.8h-0.8zM390.9 196.1h0.8v0.8h-0.8zM385.7 217.0h0.8v0.8h-0.8zM352.3 200.7h0.8v0.8h-0.8zM354.7 200.9h0.8v0.8h-0.8zM370.7 186.4h0.8v0.8h-0.8zM391.5 222.1h0.8v0.8h-0.8zM391.1 178.6h0.8v0.8h-0.8zM387.7 181.6h0.8v0.8h-0.8zM366.5 234.5h0.8v0.8h-0.8zM389.9 217.6h0.8v0.8h-0.8zM417.0 232.4h0.8v0.8h-0.8zM381.1 206.8h0.8v0.8h-0.8zM363.1 213.9h0.8v0.8h-0.8zM387.6 192.7h0.8v0.8h-0.8zM412.2 227.2h0.8v0.8h-0.8zM399.8 218.6h0.8v0.8h-0.8zM387.0 193.5h0.8v0.8h-0.8zM365.3 179.6h0.8v0.8h-0.8zM390.8 229.5h0.8v0.8h-0.8zM386.5 185.1h0.8v0.8h-0.8zM407.7 197.4h0.8v0.8h-0.8zM389.6 171.4h0.8v0.8h-0.8zM353.9 227.0h0.8v0.8h-0.8zM399.1 183.1h0.8v0.8h-0.8zM385.2 226.3h0.8v0.8h-0.8zM393.6 175.3h0.8v0.8h-0.8zM372.6 191.9h0.8v0.8h-0.8zM389.3 191.4h0.8v0.8h-0.8zM408.1 180.1h0.8v0.8h-0.8zM368.3 198.1h0.8v0.8h-0.8zM366.1 193.1h0.8v0.8h-0.8zM411.8 206.8h0.8v0.8h-0.8zM413.1 189.4h0.8v0.8h-0.8zM374.8 204.9h0.8v0.8h-0.8zM363.4 219.6h0.8v0.8h-0.8zM358.7 162.0h0.8v0.8h-0.8zM404.7 229.5h0.8v0.8h-0.8zM379.3 209.8h0.8v0.8h-0.8zM380.5 181.3h0.8v0.8h-0.8zM365.6 214.0h0.8v0.8h-0.8zM375.1 196.1h0.8v0.8h-0.8zM358.3 197.8h0.8v0.8h-0.8zM373.9 179.8h0.8v0.8h-0.8zM352.7 168.8h0.8v0.8h-0.8zM353.3 187.0h0.8v0.8h-0.8zM385.0 222.7h0.8v0.8h-0.8zM399.4 207.4h0.8v0.8h-0.8zM403.7 219.6h0.8v0.8h-0.8zM406.9 170.3h0.8v0.8h-0.8zM357.9 187.6h0.8v0.8h-0.8z"/>
<path fill="#aab3f0" d="M408.3 213.4h0.8v0.8h-0.8zM406.8 179.3h0.8v0.8h-0.8zM388.3 184.2h0.8v0.8h-0.8zM355.0 221.6h0.8v0.8h-0.8zM416.6 171.6h0.8v0.8h-0.8zM391.2 226.8h0.8v0.8h-0.8zM361.0 221.5h0.8v0.8h-0.8zM354.2 217.0h0.8v0.8h-0.8zM419.7 184.3h0.8v0.8h-0.8zM376.6 195.5h0.8v0.8h-0.8zM369.3 171.6h0.8v0.8h-0.8zM414.0 200.7h0.8v0.8h-0.8zM390.6 180.2h0.8v0.8h-0.8zM406.7 203.1h0.8v0.8h-0.8zM382.3 227.7h0.8v0.8h-0.8zM389.9 174.7h0.8v0.8h-0.8zM384.0 198.3h0.8v0.8h-0.8zM418.9 206.4h0.8v0.8h-0.8zM425.5 167.7h0.8v0.8h-0.8zM407.8 177.0h0.8v0.8h-0.8zM364.5 200.9h0.8v0.8h-0.8zM424.1 190.8h0.8v0.8h-0.8zM350.9 216.8h0.8v0.8h-0.8zM376.0 217.4h0.8v0.8h-0.8zM365.5 187.8h0.8v0.8h-0.8zM374.3 220.8h0.8v0.8h-0.8zM407.1 220.5h0.8v0.8h-0.8zM372.2 178.5h0.8v0.8h-0.8zM369.3 174.6h0.8v0.8h-0.8zM363.2 230.5h0.8v0.8h-0.8zM355.8 185.9h0.8v0.8h-0.8zM423.3 216.3h0.8v0.8h-0.8zM420.1 199.0h0.8v0.8h-0.8zM365.7 184.0h0.8v0.8h-0.8zM353.0 203.2h0.8v0.8h-0.8zM354.8 211.2h0.8v0.8h-0.8zM366.0 187.6h0.8v0.8h-0.8zM416.6 231.4h0.8v0.8h-0.8zM365.3 214.7h0.8v0.8h-0.8zM399.2 170.1h0.8v0.8h-0.8zM422.9 174.1h0.8v0.8h-0.8zM352.6 195.8h0.8v0.8h-0.8zM370.0 183.7h0.8v0.8h-0.8zM378.9 180.1h0.8v0.8h-0.8zM403.6 180.9h0.8v0.8h-0.8zM396.9 228.2h0.8v0.8h-0.8zM422.3 218.1h0.8v0.8h-0.8zM358.4 188.3h0.8v0.8h-0.8zM379.2 206.4h0.8v0.8h-0.8zM422.9 163.3h0.8v0.8h-0.8zM380.0 168.5h0.8v0.8h-0.8zM370.6 235.4h0.8v0.8h-0.8zM399.2 182.6h0.8v0.8h-0.8zM420.6 214.9h0.8v0.8h-0.8zM408.0 165.6h0.8v0.8h-0.8zM356.8 221.7h0.8v0.8h-0.8zM413.2 209.9h0.8v0.8h-0.8zM370.1 214.0h0.8v0.8h-0.8zM422.1 161.4h0.8v0.8h-0.8zM397.9 235.6h0.8v0.8h-0.8zM411.7 210.5h0.8v0.8h-0.8zM393.6 229.9h0.8v0.8h-0.8zM350.9 160.8h0.8v0.8h-0.8zM396.2 232.1h0.8v0.8h-0.8zM370.1 215.2h0.8v0.8h-0.8zM384.4 198.6h0.8v0.8h-0.8zM350.9 220.9h0.8v0.8h-0.8zM370.6 172.4h0.8v0.8h-0.8zM363.5 224.0h0.8v0.8h-0.8zM351.0 229.9h0.8v0.8h-0.8zM375.7 201.1h0.8v0.8h-0.8zM394.3 223.8h0.8v0.8h-0.8zM354.6 166.9h0.8v0.8h-0.8zM394.2 189.1h0.8v0.8h-0.8zM352.9 222.4h0.8v0.8h-0.8zM393.2 192.5h0.8v0.8h-0.8zM423.4 163.0h0.8v0.8h-0.8zM405.7 183.1h0.8v0.8h-0.8zM423.5 221.5h0.8v0.8h-0.8zM378.3 197.5h0.8v0.8h-0.8z"/>
<path fill="#d8dcf8" d="M423.0 182.1h0.8v0.8h-0.8zM356.5 231.2h0.8v0.8h-0.8zM386.2 235.4h0.8v0.8h-0.8zM411.9 229.7h0.8v0.8h-0.8zM377.1 232.6h0.8v0.8h-0.8zM378.7 218.7h0.8v0.8h-0.8zM416.0 178.2h0.8v0.8h-0.8zM370.5 219.6h0.8v0.8h-0.8zM394.1 180.8h0.8v0.8h-0.8zM356.0 234.7h0.8v0.8h-0.8zM393.0 212.0h0.8v0.8h-0.8zM380.8 215.4h0.8v0.8h-0.8zM423.0 204.8h0.8v0.8h-0.8zM379.9 175.0h0.8v0.8h-0.8zM398.5 178.4h0.8v0.8h-0.8zM362.7 182.5h0.8v0.8h-0.8zM405.2 197.0h0.8v0.8h-0.8zM380.0 196.9h0.8v0.8h-0.8zM407.2 177.5h0.8v0.8h-0.8zM374.4 174.5h0.8v0.8h-0.8zM396.7 188.0h0.8v0.8h-0.8zM373.3 187.0h0.8v0.8h-0.8zM393.9 213.3h0.8v0.8h-0.8zM408.2 194.1h0.8v0.8h-0.8zM351.2 180.1h0.8v0.8h-0.8zM366.3 180.4h0.8v0.8h-0.8zM389.5 213.0h0.8v0.8h-0.8zM419.1 223.4h0.8v0.8h-0.8zM410.4 192.5h0.8v0.8h-0.8zM413.2 162.7h0.8v0.8h-0.8zM405.6 181.7h0.8v0.8h-0.8zM409.9 171.6h0.8v0.8h-0.8zM409.2 192.4h0.8v0.8h-0.8zM374.7 217.4h0.8v0.8h-0.8zM417.6 188.8h0.8v0.8h-0.8zM408.1 184.5h0.8v0.8h-0.8zM373.6 225.4h0.8v0.8h-0.8zM361.2 168.1h0.8v0.8h-0.8zM366.4 225.7h0.8v0.8h-0.8zM380.9 228.8h0.8v0.8h-0.8zM387.5 192.1h0.8v0.8h-0.8zM369.9 183.0h0.8v0.8h-0.8zM407.2 176.3h0.8v0.8h-0.8zM379.0 194.6h0.8v0.8h-0.8zM409.5 231.1h0.8v0.8h-0.8zM416.8 218.2h0.8v0.8h-0.8zM367.5 190.5h0.8v0.8h-0.8zM387.1 224.5h0.8v0.8h-0.8zM422.3 230.4h0.8v0.8h-0.8zM424.3 196.6h0.8v0.8h-0.8zM353.0 169.6h0.8v0.8h-0.8zM372.7 206.4h0.8v0.8h-0.8zM392.9 218.9h0.8v0.8h-0.8zM411.5 168.8h0.8v0.8h-0.8zM406.5 171.0h0.8v0.8h-0.8zM365.2 221.3h0.8v0.8h-0.8zM358.3 167.5h0.8v0.8h-0.8zM375.3 161.5h0.8v0.8h-0.8zM357.0 160.4h0.8v0.8h-0.8zM385.1 218.0h0.8v0.8h-0.8zM416.2 167.2h0.8v0.8h-0.8zM395.0 210.5h0.8v0.8h-0.8zM380.9 170.0h0.8v0.8h-0.8zM385.9 219.9h0.8v0.8h-0.8zM366.3 167.7h0.8v0.8h-0.8zM365.8 200.3h0.8v0.8h-0.8zM353.8 202.5h0.8v0.8h-0.8zM360.7 198.5h0.8v0.8h-0.8zM423.1 213.0h0.8v0.8h-0.8zM384.2 167.0h0.8v0.8h-0.8zM375.0 176.0h0.8v0.8h-0.8zM393.9 206.0h0.8v0.8h-0.8zM352.8 217.9h0.8v0.8h-0.8zM417.0 183.6h0.8v0.8h-0.8zM391.5 207.9h0.8v0.8h-0.8z"/>
<path fill="#8f9cf0" d="M389.8 221.1h0.8v0.8h-0.8zM400.4 168.5h0.8v0.8h-0.8zM352.3 189.2h0.8v0.8h-0.8zM414.4 231.6h0.8v0.8h-0.8zM422.6 176.1h0.8v0.8h-0.8zM398.7 183.5h0.8v0.8h-0.8zM351.7 188.3h0.8v0.8h-0.8zM390.2 187.4h0.8v0.8h-0.8zM364.9 205.8h0.8v0.8h-0.8zM392.4 202.0h0.8v0.8h-0.8zM375.4 228.8h0.8v0.8h-0.8zM405.5 183.6h0.8v0.8h-0.8zM411.7 163.9h0.8v0.8h-0.8zM408.7 223.5h0.8v0.8h-0.8zM356.0 166.6h0.8v0.8h-0.8zM375.2 203.9h0.8v0.8h-0.8zM425.1 222.6h0.8v0.8h-0.8zM352.4 195.8h0.8v0.8h-0.8zM399.5 224.4h0.8v0.8h-0.8zM374.6 185.4h0.8v0.8h-0.8zM359.7 179.1h0.8v0.8h-0.8zM401.8 183.6h0.8v0.8h-0.8zM372.5 193.1h0.8v0.8h-0.8zM390.3 189.5h0.8v0.8h-0.8zM362.0 202.4h0.8v0.8h-0.8zM362.8 200.6h0.8v0.8h-0.8zM350.8 169.4h0.8v0.8h-0.8zM410.4 178.1h0.8v0.8h-0.8zM413.8 193.1h0.8v0.8h-0.8zM370.8 166.1h0.8v0.8h-0.8zM417.9 231.2h0.8v0.8h-0.8zM367.7 208.0h0.8v0.8h-0.8zM402.7 178.3h0.8v0.8h-0.8zM415.2 197.4h0.8v0.8h-0.8zM386.1 190.9h0.8v0.8h-0.8zM383.7 166.8h0.8v0.8h-0.8zM352.7 200.7h0.8v0.8h-0.8zM424.4 160.8h0.8v0.8h-0.8zM386.3 183.5h0.8v0.8h-0.8zM390.9 184.6h0.8v0.8h-0.8zM374.7 163.1h0.8v0.8h-0.8zM362.0 230.2h0.8v0.8h-0.8zM379.1 164.5h0.8v0.8h-0.8zM406.0 225.6h0.8v0.8h-0.8zM365.4 169.4h0.8v0.8h-0.8zM350.7 164.1h0.8v0.8h-0.8zM394.7 210.0h0.8v0.8h-0.8zM395.6 222.5h0.8v0.8h-0.8zM405.1 179.7h0.8v0.8h-0.8zM389.2 176.3h0.8v0.8h-0.8zM399.8 191.2h0.8v0.8h-0.8zM397.6 181.7h0.8v0.8h-0.8zM364.4 185.4h0.8v0.8h-0.8zM406.6 229.2h0.8v0.8h-0.8zM415.1 230.4h0.8v0.8h-0.8zM374.5 177.8h0.8v0.8h-0.8zM403.8 176.5h0.8v0.8h-0.8zM358.9 176.1h0.8v0.8h-0.8z"/>
<path fill="#9aa6f2" d="M416.8 178.1h.8v.8h-.8zM413.9 190.5h.8v.8h-.8zM416.6 215.6h.8v.8h-.8zM415.9 184.7h.8v.8h-.8zM416.4 199.5h.8v.8h-.8zM415.3 202.9h.8v.8h-.8zM413.6 200.5h.8v.8h-.8zM415.3 219.7h.8v.8h-.8zM412.9 221.7h.8v.8h-.8zM414.0 224.9h.8v.8h-.8zM417.1 195.0h.8v.8h-.8zM414.9 179.5h.8v.8h-.8zM415.5 216.6h.8v.8h-.8zM416.9 198.7h.8v.8h-.8zM416.4 202.9h.8v.8h-.8zM415.8 179.3h.8v.8h-.8zM416.3 175.2h.8v.8h-.8zM414.8 226.5h.8v.8h-.8zM414.7 173.9h.8v.8h-.8zM415.7 201.6h.8v.8h-.8zM416.5 191.2h.8v.8h-.8zM415.1 223.1h.8v.8h-.8zM414.2 168.1h.8v.8h-.8zM413.9 223.1h.8v.8h-.8zM416.7 219.8h.8v.8h-.8zM415.4 176.0h.8v.8h-.8zM415.5 182.2h.8v.8h-.8zM418.2 192.3h.8v.8h-.8zM415.2 225.9h.8v.8h-.8zM416.1 173.4h.8v.8h-.8zM416.5 210.4h.8v.8h-.8zM415.2 189.8h.8v.8h-.8zM415.1 227.6h.8v.8h-.8zM417.1 208.6h.8v.8h-.8zM415.9 211.4h.8v.8h-.8zM417.1 230.9h.8v.8h-.8zM413.5 197.5h.8v.8h-.8zM417.1 231.4h.8v.8h-.8zM414.6 213.8h.8v.8h-.8zM415.2 226.9h.8v.8h-.8zM416.2 198.5h.8v.8h-.8zM416.4 226.9h.8v.8h-.8zM416.3 209.3h.8v.8h-.8zM415.0 209.6h.8v.8h-.8zM415.1 194.9h.8v.8h-.8z"/>
<path fill="#4b5ef4" d="M365.9 226.0h1v1h-1zM385.1 175.5h1v1h-1zM361.5 198.4h1v1h-1zM381.9 227.7h1v1h-1zM370.4 231.7h1v1h-1zM395.1 220.0h1v1h-1zM395.0 199.0h1v1h-1zM367.6 192.9h1v1h-1zM374.2 190.4h1v1h-1zM402.3 169.2h1v1h-1zM354.6 207.2h1v1h-1zM351.5 177.6h1v1h-1zM355.6 172.9h1v1h-1zM396.8 176.9h1v1h-1zM380.3 196.5h1v1h-1zM397.5 182.1h1v1h-1zM380.9 173.3h1v1h-1zM361.9 226.9h1v1h-1zM400.8 196.9h1v1h-1zM356.5 170.9h1v1h-1zM356.1 203.5h1v1h-1zM387.0 235.4h1v1h-1zM390.2 211.2h1v1h-1zM354.6 175.9h1v1h-1zM365.4 181.3h1v1h-1zM393.1 215.6h1v1h-1zM383.2 172.6h1v1h-1zM362.7 189.5h1v1h-1zM402.5 180.0h1v1h-1zM379.0 182.3h1v1h-1zM387.3 232.1h1v1h-1zM390.0 224.9h1v1h-1zM399.0 223.5h1v1h-1zM396.6 215.2h1v1h-1zM381.4 190.5h1v1h-1zM376.3 172.2h1v1h-1zM400.9 230.1h1v1h-1zM366.9 176.6h1v1h-1zM378.5 192.3h1v1h-1zM371.7 180.3h1v1h-1zM353.7 208.9h1v1h-1zM403.3 174.3h1v1h-1zM394.4 173.5h1v1h-1zM375.3 221.3h1v1h-1zM360.1 188.3h1v1h-1zM372.8 188.4h1v1h-1zM350.6 189.8h1v1h-1zM403.1 199.9h1v1h-1zM394.5 185.0h1v1h-1zM368.7 206.2h1v1h-1zM355.2 214.9h1v1h-1zM400.6 199.1h1v1h-1zM381.9 217.7h1v1h-1zM356.7 191.5h1v1h-1zM363.3 206.3h1v1h-1zM378.1 188.7h1v1h-1zM401.8 172.8h1v1h-1zM377.5 221.0h1v1h-1zM383.9 211.4h1v1h-1zM358.3 226.0h1v1h-1zM351.9 230.9h1v1h-1zM350.3 218.9h1v1h-1zM401.0 186.3h1v1h-1zM375.4 173.8h1v1h-1zM397.1 223.6h1v1h-1zM395.9 179.5h1v1h-1zM401.4 215.6h1v1h-1zM378.4 216.1h1v1h-1zM402.8 173.5h1v1h-1zM356.8 225.7h1v1h-1zM370.3 169.9h1v1h-1zM367.2 202.9h1v1h-1zM351.9 189.6h1v1h-1zM402.8 221.7h1v1h-1zM357.4 172.0h1v1h-1zM366.8 213.2h1v1h-1zM382.7 193.8h1v1h-1zM355.0 205.8h1v1h-1zM380.2 235.3h1v1h-1zM362.2 190.1h1v1h-1zM354.5 182.4h1v1h-1zM397.0 201.8h1v1h-1zM362.2 213.7h1v1h-1zM377.5 170.6h1v1h-1zM359.7 224.1h1v1h-1zM355.6 232.8h1v1h-1zM363.2 220.1h1v1h-1zM386.2 231.7h1v1h-1zM378.3 178.3h1v1h-1zM383.1 188.2h1v1h-1zM386.3 205.5h1v1h-1zM396.8 204.4h1v1h-1zM392.8 214.1h1v1h-1zM375.2 213.5h1v1h-1zM403.2 168.7h1v1h-1zM396.9 203.6h1v1h-1zM365.8 191.9h1v1h-1zM358.8 173.2h1v1h-1zM379.9 224.5h1v1h-1zM358.9 218.0h1v1h-1zM367.6 168.2h1v1h-1zM376.9 204.9h1v1h-1zM383.7 190.2h1v1h-1zM356.5 180.3h1v1h-1zM389.9 173.5h1v1h-1zM356.2 222.1h1v1h-1zM397.0 235.2h1v1h-1zM381.0 188.0h1v1h-1zM400.2 182.9h1v1h-1zM353.9 173.0h1v1h-1zM365.2 212.6h1v1h-1zM369.4 197.2h1v1h-1zM396.1 190.5h1v1h-1zM386.0 208.0h1v1h-1zM395.6 182.7h1v1h-1zM397.9 172.3h1v1h-1zM391.9 203.9h1v1h-1zM360.4 230.8h1v1h-1zM402.1 214.2h1v1h-1zM396.9 180.1h1v1h-1zM354.1 189.0h1v1h-1zM369.8 226.9h1v1h-1zM390.7 210.0h1v1h-1zM384.6 219.6h1v1h-1zM400.9 189.7h1v1h-1zM377.6 186.1h1v1h-1zM401.6 178.7h1v1h-1zM356.8 202.6h1v1h-1zM375.5 187.1h1v1h-1zM352.3 214.9h1v1h-1zM385.3 228.7h1v1h-1zM366.2 178.2h1v1h-1zM383.3 204.3h1v1h-1zM387.3 184.6h1v1h-1zM366.6 174.4h1v1h-1zM365.9 176.3h1v1h-1zM397.2 172.2h1v1h-1zM398.3 205.7h1v1h-1zM382.5 201.1h1v1h-1zM357.7 218.1h1v1h-1zM355.6 213.1h1v1h-1zM393.2 202.8h1v1h-1zM386.7 188.2h1v1h-1zM369.2 183.0h1v1h-1zM398.3 212.4h1v1h-1zM359.9 232.3h1v1h-1zM364.7 185.3h1v1h-1zM397.9 190.3h1v1h-1zM364.2 171.2h1v1h-1zM383.4 176.8h1v1h-1zM388.2 218.9h1v1h-1zM377.0 235.4h1v1h-1zM369.8 227.2h1v1h-1zM399.7 219.1h1v1h-1zM401.3 194.8h1v1h-1zM351.8 176.4h1v1h-1zM375.5 216.3h1v1h-1zM369.0 233.3h1v1h-1zM369.0 215.6h1v1h-1zM351.5 208.2h1v1h-1zM378.6 229.4h1v1h-1zM385.0 183.4h1v1h-1zM393.8 198.2h1v1h-1zM360.3 177.7h1v1h-1zM404.9 211.0h1v1h-1zM353.3 185.2h1v1h-1zM371.7 201.0h1v1h-1zM377.3 179.2h1v1h-1zM361.4 186.8h1v1h-1zM363.3 184.4h1v1h-1zM394.5 176.2h1v1h-1zM398.5 179.8h1v1h-1zM403.1 219.4h1v1h-1zM397.7 199.7h1v1h-1zM377.1 193.9h1v1h-1zM379.5 200.9h1v1h-1zM397.8 215.4h1v1h-1zM360.7 188.7h1v1h-1zM365.7 172.1h1v1h-1zM364.0 229.2h1v1h-1zM367.4 212.8h1v1h-1zM387.5 196.0h1v1h-1zM387.4 189.1h1v1h-1zM368.6 216.5h1v1h-1zM385.1 217.9h1v1h-1zM398.6 184.8h1v1h-1zM395.5 181.0h1v1h-1zM366.2 228.7h1v1h-1zM371.2 214.9h1v1h-1zM370.5 199.8h1v1h-1zM386.2 207.4h1v1h-1zM374.2 231.1h1v1h-1zM384.2 222.4h1v1h-1zM397.0 232.0h1v1h-1zM356.3 218.6h1v1h-1zM358.9 208.9h1v1h-1zM350.9 222.4h1v1h-1zM374.5 185.2h1v1h-1zM389.7 214.2h1v1h-1zM363.3 220.4h1v1h-1zM368.5 218.4h1v1h-1zM366.5 186.6h1v1h-1zM389.3 189.3h1v1h-1zM394.6 224.7h1v1h-1zM398.5 197.5h1v1h-1zM366.3 206.5h1v1h-1zM392.7 234.4h1v1h-1zM397.7 231.0h1v1h-1zM381.3 222.3h1v1h-1zM381.9 186.8h1v1h-1zM363.5 201.0h1v1h-1zM394.4 214.8h1v1h-1zM361.7 189.5h1v1h-1zM380.3 221.8h1v1h-1zM395.4 226.7h1v1h-1zM378.2 189.3h1v1h-1zM403.0 169.6h1v1h-1zM386.1 233.0h1v1h-1zM392.0 196.1h1v1h-1zM384.1 195.7h1v1h-1zM383.4 183.2h1v1h-1zM360.2 232.7h1v1h-1zM353.9 177.0h1v1h-1zM362.9 181.9h1v1h-1zM397.4 172.8h1v1h-1zM405.3 202.4h1v1h-1zM354.7 177.6h1v1h-1zM354.5 233.3h1v1h-1zM402.8 171.3h1v1h-1zM399.9 185.8h1v1h-1zM401.3 170.4h1v1h-1zM397.8 219.7h1v1h-1zM362.8 221.6h1v1h-1zM359.7 205.6h1v1h-1zM372.9 221.5h1v1h-1zM382.0 185.5h1v1h-1zM403.6 193.8h1v1h-1zM384.6 221.9h1v1h-1zM353.3 212.3h1v1h-1zM387.2 199.8h1v1h-1zM361.4 192.8h1v1h-1zM357.8 183.1h1v1h-1zM375.4 227.5h1v1h-1zM377.8 179.6h1v1h-1zM399.1 175.0h1v1h-1zM391.2 177.7h1v1h-1zM403.7 184.9h1v1h-1zM360.7 224.7h1v1h-1zM387.4 183.1h1v1h-1zM367.3 167.9h1v1h-1zM375.5 223.6h1v1h-1zM371.2 201.2h1v1h-1zM382.7 229.8h1v1h-1zM404.7 188.7h1v1h-1zM355.7 183.1h1v1h-1zM378.9 226.7h1v1h-1z"/>
<path fill="#2236f0" d="M375.0 172.4h1v1h-1zM385.1 210.7h1v1h-1zM363.3 189.6h1v1h-1zM387.8 193.1h1v1h-1zM359.8 177.3h1v1h-1zM357.9 205.0h1v1h-1zM385.4 204.1h1v1h-1zM380.3 195.5h1v1h-1zM373.5 233.0h1v1h-1zM372.0 231.8h1v1h-1zM385.6 200.7h1v1h-1zM400.9 227.5h1v1h-1zM368.0 180.0h1v1h-1zM390.5 204.8h1v1h-1zM353.1 202.7h1v1h-1zM394.0 221.6h1v1h-1zM403.9 216.2h1v1h-1zM358.7 202.8h1v1h-1zM397.3 185.9h1v1h-1zM385.8 233.4h1v1h-1zM392.6 175.6h1v1h-1zM387.9 180.8h1v1h-1zM388.9 195.2h1v1h-1zM360.8 235.5h1v1h-1zM373.6 233.1h1v1h-1zM366.1 188.7h1v1h-1zM388.6 212.7h1v1h-1zM364.2 193.5h1v1h-1zM377.8 223.3h1v1h-1zM360.2 209.5h1v1h-1zM397.9 199.4h1v1h-1zM379.1 206.9h1v1h-1zM396.7 208.6h1v1h-1zM362.1 171.3h1v1h-1zM374.2 233.5h1v1h-1zM396.1 213.6h1v1h-1zM391.4 191.8h1v1h-1zM351.9 216.3h1v1h-1zM394.4 212.9h1v1h-1zM389.1 197.3h1v1h-1zM382.6 214.3h1v1h-1zM372.0 204.2h1v1h-1zM376.9 209.3h1v1h-1zM392.8 219.6h1v1h-1zM350.4 214.8h1v1h-1zM403.6 218.9h1v1h-1zM368.8 194.8h1v1h-1zM371.8 221.6h1v1h-1zM394.8 203.8h1v1h-1zM385.9 221.3h1v1h-1zM357.8 195.5h1v1h-1zM359.5 210.3h1v1h-1zM375.2 201.9h1v1h-1zM370.6 233.3h1v1h-1zM364.7 174.6h1v1h-1zM356.6 221.3h1v1h-1zM385.4 228.9h1v1h-1zM370.5 167.8h1v1h-1zM394.9 226.6h1v1h-1zM375.5 168.1h1v1h-1zM358.7 173.9h1v1h-1zM405.4 205.2h1v1h-1zM383.0 207.5h1v1h-1zM368.5 170.8h1v1h-1zM371.5 235.0h1v1h-1zM386.9 229.0h1v1h-1zM377.7 171.9h1v1h-1zM397.4 197.8h1v1h-1zM403.4 180.7h1v1h-1zM379.3 168.6h1v1h-1zM384.5 210.7h1v1h-1zM367.4 184.1h1v1h-1zM387.8 169.2h1v1h-1zM398.3 211.8h1v1h-1zM384.8 228.9h1v1h-1zM395.7 203.9h1v1h-1zM399.1 216.0h1v1h-1zM360.5 219.4h1v1h-1zM388.6 183.0h1v1h-1zM386.0 171.4h1v1h-1zM375.5 196.5h1v1h-1zM377.2 179.6h1v1h-1zM366.1 219.9h1v1h-1zM397.6 174.4h1v1h-1zM395.2 209.2h1v1h-1zM401.4 195.6h1v1h-1zM364.1 227.8h1v1h-1zM390.3 179.8h1v1h-1zM383.6 207.8h1v1h-1zM386.9 231.4h1v1h-1zM367.6 174.4h1v1h-1zM350.4 206.5h1v1h-1zM403.5 176.8h1v1h-1zM381.1 214.6h1v1h-1zM367.3 199.3h1v1h-1zM392.6 212.5h1v1h-1zM380.8 197.1h1v1h-1zM361.7 209.0h1v1h-1zM380.1 225.2h1v1h-1zM405.4 209.8h1v1h-1zM372.5 210.4h1v1h-1zM387.1 206.9h1v1h-1zM377.7 219.6h1v1h-1zM371.8 182.2h1v1h-1zM357.1 175.2h1v1h-1zM351.9 173.0h1v1h-1zM365.6 204.5h1v1h-1zM394.0 224.8h1v1h-1zM364.0 222.3h1v1h-1zM396.1 235.0h1v1h-1zM377.6 207.6h1v1h-1zM381.5 205.3h1v1h-1zM391.5 225.9h1v1h-1zM368.9 188.4h1v1h-1zM375.9 187.2h1v1h-1zM403.9 195.9h1v1h-1zM394.5 206.9h1v1h-1zM390.8 190.6h1v1h-1zM383.9 224.3h1v1h-1zM385.9 172.5h1v1h-1zM399.4 198.5h1v1h-1zM381.8 192.7h1v1h-1zM389.4 169.2h1v1h-1zM404.2 211.0h1v1h-1zM398.9 212.4h1v1h-1zM367.6 206.5h1v1h-1zM373.2 192.9h1v1h-1zM363.5 200.7h1v1h-1zM375.1 213.3h1v1h-1zM372.6 220.3h1v1h-1zM374.3 224.5h1v1h-1zM367.8 204.6h1v1h-1zM378.0 194.9h1v1h-1zM384.8 199.7h1v1h-1zM382.6 189.5h1v1h-1zM396.9 194.9h1v1h-1zM401.0 223.1h1v1h-1zM390.7 183.7h1v1h-1zM395.4 217.1h1v1h-1zM373.0 215.5h1v1h-1zM388.0 197.2h1v1h-1zM385.1 212.6h1v1h-1zM396.0 170.4h1v1h-1zM385.1 221.3h1v1h-1zM383.6 210.1h1v1h-1zM368.0 221.6h1v1h-1zM401.2 197.1h1v1h-1zM354.6 173.9h1v1h-1zM374.4 197.8h1v1h-1zM367.9 226.6h1v1h-1zM392.6 206.6h1v1h-1zM386.6 218.1h1v1h-1zM359.2 194.0h1v1h-1zM356.3 216.5h1v1h-1zM361.2 179.1h1v1h-1zM363.4 216.4h1v1h-1zM397.2 229.3h1v1h-1zM369.7 210.8h1v1h-1zM369.9 180.9h1v1h-1zM355.7 172.6h1v1h-1zM364.7 176.6h1v1h-1zM378.0 212.2h1v1h-1zM385.6 197.4h1v1h-1zM404.0 194.8h1v1h-1zM354.2 178.1h1v1h-1zM365.0 222.6h1v1h-1zM393.3 185.3h1v1h-1zM351.4 170.2h1v1h-1zM395.6 204.7h1v1h-1zM351.0 208.1h1v1h-1zM394.6 226.3h1v1h-1zM363.3 182.7h1v1h-1zM375.1 212.0h1v1h-1zM353.7 232.2h1v1h-1zM373.8 177.4h1v1h-1zM389.1 179.0h1v1h-1zM403.0 223.3h1v1h-1zM401.1 228.8h1v1h-1zM401.7 190.2h1v1h-1zM366.1 203.5h1v1h-1zM383.7 218.8h1v1h-1zM393.6 224.6h1v1h-1zM378.9 205.0h1v1h-1zM404.7 176.8h1v1h-1zM385.4 173.3h1v1h-1zM355.8 173.3h1v1h-1zM360.9 183.4h1v1h-1zM396.7 195.7h1v1h-1zM382.3 222.3h1v1h-1zM361.9 190.2h1v1h-1zM401.2 199.4h1v1h-1zM393.3 207.2h1v1h-1zM358.9 195.5h1v1h-1zM383.6 194.6h1v1h-1zM382.6 196.3h1v1h-1zM404.5 173.3h1v1h-1zM372.7 202.6h1v1h-1zM401.9 176.6h1v1h-1zM375.9 193.2h1v1h-1zM402.6 188.6h1v1h-1zM372.0 188.6h1v1h-1zM363.1 207.3h1v1h-1zM393.3 227.2h1v1h-1zM367.7 175.9h1v1h-1zM362.5 189.6h1v1h-1zM394.0 211.2h1v1h-1zM386.4 191.6h1v1h-1zM350.6 213.0h1v1h-1zM385.9 193.7h1v1h-1zM389.4 179.4h1v1h-1zM372.9 169.2h1v1h-1zM398.9 199.0h1v1h-1zM364.5 186.7h1v1h-1zM363.1 220.7h1v1h-1zM366.2 207.5h1v1h-1zM391.2 202.3h1v1h-1zM360.2 169.4h1v1h-1zM365.1 186.2h1v1h-1zM394.8 234.0h1v1h-1zM354.6 232.0h1v1h-1zM394.7 195.2h1v1h-1zM402.8 212.6h1v1h-1zM367.1 184.0h1v1h-1zM393.0 218.3h1v1h-1zM398.4 203.3h1v1h-1zM352.5 187.8h1v1h-1zM394.8 214.9h1v1h-1zM377.4 216.3h1v1h-1zM391.7 208.5h1v1h-1zM389.4 186.8h1v1h-1zM376.3 203.8h1v1h-1zM403.3 219.0h1v1h-1zM352.9 202.5h1v1h-1zM370.1 234.4h1v1h-1zM381.1 167.5h1v1h-1zM377.3 205.1h1v1h-1zM394.8 171.9h1v1h-1zM394.7 178.7h1v1h-1zM365.5 229.4h1v1h-1zM402.0 208.4h1v1h-1zM402.2 167.7h1v1h-1zM357.1 183.4h1v1h-1zM354.9 216.5h1v1h-1zM363.0 179.9h1v1h-1zM364.9 227.2h1v1h-1zM377.2 224.4h1v1h-1zM405.0 191.0h1v1h-1zM364.7 205.8h1v1h-1zM356.1 212.9h1v1h-1zM355.3 232.2h1v1h-1zM389.1 177.2h1v1h-1zM387.6 189.3h1v1h-1zM368.8 201.1h1v1h-1zM351.4 234.4h1v1h-1zM377.9 177.6h1v1h-1zM387.3 191.2h1v1h-1zM396.4 172.9h1v1h-1zM367.6 198.8h1v1h-1zM390.6 207.6h1v1h-1zM391.4 207.3h1v1h-1zM368.8 197.1h1v1h-1zM392.7 199.3h1v1h-1zM370.5 199.0h1v1h-1zM360.9 202.5h1v1h-1zM358.4 174.2h1v1h-1zM371.3 177.8h1v1h-1zM357.3 174.5h1v1h-1zM382.0 229.2h1v1h-1z"/>
<path fill="#7684f2" d="M400.5 182.1h1v1h-1zM362.3 177.1h1v1h-1zM391.2 191.3h1v1h-1zM373.6 227.7h1v1h-1zM373.2 191.5h1v1h-1zM355.2 178.6h1v1h-1zM378.1 192.0h1v1h-1zM357.4 214.9h1v1h-1zM377.6 167.8h1v1h-1zM385.4 203.7h1v1h-1zM368.8 177.9h1v1h-1zM364.5 186.2h1v1h-1zM377.1 179.0h1v1h-1zM387.4 186.9h1v1h-1zM378.6 225.4h1v1h-1zM376.8 185.9h1v1h-1zM390.7 176.2h1v1h-1zM404.2 209.1h1v1h-1zM356.1 194.6h1v1h-1zM392.2 213.0h1v1h-1zM376.0 224.5h1v1h-1zM384.1 228.8h1v1h-1zM398.7 197.1h1v1h-1zM353.7 192.6h1v1h-1zM403.8 203.7h1v1h-1zM402.5 219.2h1v1h-1zM396.8 170.5h1v1h-1zM373.1 212.5h1v1h-1zM377.5 189.2h1v1h-1zM361.1 218.1h1v1h-1zM353.4 224.8h1v1h-1zM398.9 226.1h1v1h-1zM367.3 215.8h1v1h-1zM390.7 201.7h1v1h-1zM373.3 186.7h1v1h-1zM379.2 222.2h1v1h-1zM386.0 226.0h1v1h-1zM390.9 172.4h1v1h-1zM392.2 202.9h1v1h-1zM401.2 227.3h1v1h-1zM378.6 225.1h1v1h-1zM370.1 191.7h1v1h-1zM363.0 233.1h1v1h-1zM369.0 204.6h1v1h-1zM382.1 195.6h1v1h-1zM401.8 204.8h1v1h-1zM395.1 201.0h1v1h-1zM371.3 184.4h1v1h-1zM392.5 208.5h1v1h-1zM374.4 211.5h1v1h-1zM372.3 184.0h1v1h-1zM370.1 181.3h1v1h-1zM367.3 218.1h1v1h-1zM353.0 233.5h1v1h-1zM378.6 174.5h1v1h-1zM386.6 231.4h1v1h-1zM367.2 179.6h1v1h-1zM359.1 219.7h1v1h-1zM369.0 226.6h1v1h-1zM390.9 181.4h1v1h-1zM357.3 169.1h1v1h-1zM403.6 174.8h1v1h-1zM398.8 227.5h1v1h-1zM376.1 175.9h1v1h-1zM373.0 225.8h1v1h-1zM388.1 221.5h1v1h-1zM405.0 185.3h1v1h-1zM403.1 209.3h1v1h-1zM397.3 215.4h1v1h-1zM395.7 214.6h1v1h-1zM404.9 177.1h1v1h-1zM394.0 217.6h1v1h-1zM378.5 188.5h1v1h-1zM397.1 175.3h1v1h-1zM394.4 206.5h1v1h-1zM382.5 208.2h1v1h-1zM378.7 223.4h1v1h-1zM350.5 182.3h1v1h-1zM395.4 230.2h1v1h-1zM392.7 213.3h1v1h-1zM365.6 204.4h1v1h-1zM403.0 199.2h1v1h-1zM374.8 225.7h1v1h-1zM379.0 220.8h1v1h-1zM382.3 189.7h1v1h-1zM375.7 234.6h1v1h-1zM404.2 170.7h1v1h-1zM370.4 180.9h1v1h-1zM387.9 203.4h1v1h-1zM360.9 231.0h1v1h-1zM391.2 167.5h1v1h-1zM399.2 218.7h1v1h-1zM358.2 172.2h1v1h-1zM383.9 199.8h1v1h-1zM399.8 214.6h1v1h-1zM384.8 175.3h1v1h-1zM377.2 214.2h1v1h-1zM355.4 235.7h1v1h-1zM399.3 172.9h1v1h-1zM374.8 186.9h1v1h-1zM378.6 231.2h1v1h-1zM367.1 234.0h1v1h-1zM383.4 191.5h1v1h-1zM365.3 191.0h1v1h-1zM405.2 195.9h1v1h-1zM380.6 169.2h1v1h-1zM375.7 167.5h1v1h-1zM388.5 232.4h1v1h-1zM404.3 179.8h1v1h-1zM363.8 174.2h1v1h-1zM385.1 225.9h1v1h-1zM363.9 196.3h1v1h-1zM387.8 202.7h1v1h-1zM361.1 231.3h1v1h-1zM371.2 188.9h1v1h-1zM353.8 214.7h1v1h-1zM370.4 225.1h1v1h-1zM353.8 203.9h1v1h-1zM375.9 211.4h1v1h-1zM403.2 192.3h1v1h-1zM386.9 177.1h1v1h-1zM405.2 188.7h1v1h-1zM399.1 193.6h1v1h-1zM386.4 199.6h1v1h-1zM359.4 229.6h1v1h-1zM400.2 171.5h1v1h-1zM380.7 228.2h1v1h-1zM390.4 177.6h1v1h-1zM369.3 211.8h1v1h-1zM385.6 192.5h1v1h-1zM388.7 219.4h1v1h-1zM393.6 168.2h1v1h-1zM377.5 224.1h1v1h-1zM396.4 169.2h1v1h-1zM360.1 173.5h1v1h-1zM383.4 201.3h1v1h-1zM356.2 205.9h1v1h-1zM379.6 198.7h1v1h-1zM364.2 196.3h1v1h-1zM383.6 180.5h1v1h-1zM362.7 204.0h1v1h-1zM372.4 178.3h1v1h-1zM384.6 185.3h1v1h-1zM360.4 204.5h1v1h-1zM403.2 199.4h1v1h-1zM397.3 225.8h1v1h-1zM393.4 196.7h1v1h-1zM354.7 183.8h1v1h-1zM391.3 191.9h1v1h-1zM402.2 168.1h1v1h-1zM391.9 189.9h1v1h-1zM352.7 187.3h1v1h-1zM396.9 219.0h1v1h-1zM387.5 197.8h1v1h-1zM377.5 196.0h1v1h-1zM387.8 224.4h1v1h-1zM383.0 220.7h1v1h-1zM383.7 223.5h1v1h-1zM354.6 192.3h1v1h-1zM383.8 218.8h1v1h-1zM398.0 201.5h1v1h-1zM355.9 223.9h1v1h-1zM392.3 185.5h1v1h-1zM389.4 188.9h1v1h-1zM377.1 174.0h1v1h-1zM378.3 205.9h1v1h-1zM373.4 187.7h1v1h-1zM404.6 168.5h1v1h-1zM399.0 207.4h1v1h-1zM373.2 222.8h1v1h-1zM372.4 185.4h1v1h-1zM398.3 172.9h1v1h-1zM402.9 222.5h1v1h-1zM375.1 179.1h1v1h-1zM351.5 171.3h1v1h-1zM386.7 205.4h1v1h-1zM365.2 218.1h1v1h-1zM361.8 183.1h1v1h-1zM397.2 229.2h1v1h-1zM395.7 175.2h1v1h-1zM400.9 190.3h1v1h-1zM393.8 172.1h1v1h-1zM391.0 218.6h1v1h-1zM353.4 197.9h1v1h-1zM367.4 233.8h1v1h-1zM386.6 209.4h1v1h-1zM396.4 198.6h1v1h-1zM381.6 182.0h1v1h-1zM356.9 216.0h1v1h-1zM368.2 215.3h1v1h-1zM373.0 171.8h1v1h-1zM384.1 190.8h1v1h-1zM400.8 171.3h1v1h-1zM381.5 196.6h1v1h-1zM398.4 202.5h1v1h-1zM389.6 200.3h1v1h-1zM403.9 205.5h1v1h-1zM354.0 226.4h1v1h-1zM392.2 234.1h1v1h-1zM398.3 167.8h1v1h-1zM384.8 193.7h1v1h-1zM386.8 199.2h1v1h-1zM369.6 195.9h1v1h-1zM351.9 226.6h1v1h-1zM356.8 200.0h1v1h-1zM395.6 235.4h1v1h-1zM371.5 188.2h1v1h-1zM376.8 180.2h1v1h-1zM369.2 170.7h1v1h-1zM367.8 186.5h1v1h-1zM399.0 179.9h1v1h-1zM352.5 173.3h1v1h-1zM350.7 221.6h1v1h-1zM361.6 208.0h1v1h-1zM357.4 224.4h1v1h-1zM355.3 234.0h1v1h-1zM396.8 216.1h1v1h-1zM374.2 226.7h1v1h-1zM387.2 173.7h1v1h-1zM396.3 218.9h1v1h-1zM376.7 203.5h1v1h-1zM367.9 176.9h1v1h-1zM365.2 178.3h1v1h-1zM404.8 212.4h1v1h-1zM367.3 181.6h1v1h-1zM382.7 190.9h1v1h-1zM400.2 232.2h1v1h-1zM360.7 215.6h1v1h-1z"/>
<path fill="#1428ee" d="M380.4 177.6h1v1h-1zM396.9 222.6h1v1h-1zM382.1 208.5h1v1h-1zM386.3 186.6h1v1h-1zM363.4 183.3h1v1h-1zM378.7 217.1h1v1h-1zM398.1 167.8h1v1h-1zM386.2 196.7h1v1h-1zM400.2 172.3h1v1h-1zM371.8 233.8h1v1h-1zM387.5 233.7h1v1h-1zM362.4 176.8h1v1h-1zM382.4 214.7h1v1h-1zM358.8 177.8h1v1h-1zM351.5 225.5h1v1h-1zM351.5 202.7h1v1h-1zM358.5 223.1h1v1h-1zM361.6 214.2h1v1h-1zM401.0 174.6h1v1h-1zM351.8 190.3h1v1h-1zM394.5 173.1h1v1h-1zM377.4 182.6h1v1h-1zM354.9 187.4h1v1h-1zM402.2 218.9h1v1h-1zM381.3 217.3h1v1h-1zM371.3 215.9h1v1h-1zM370.5 181.2h1v1h-1zM372.2 212.5h1v1h-1zM396.2 192.2h1v1h-1zM394.0 173.1h1v1h-1zM368.4 220.9h1v1h-1zM383.2 235.6h1v1h-1zM352.7 178.8h1v1h-1zM397.3 178.4h1v1h-1zM355.7 195.7h1v1h-1zM375.5 189.6h1v1h-1zM358.0 219.4h1v1h-1zM357.1 230.2h1v1h-1zM390.6 209.8h1v1h-1zM382.6 174.3h1v1h-1zM398.5 207.2h1v1h-1zM401.2 173.2h1v1h-1zM397.7 202.4h1v1h-1zM386.8 178.1h1v1h-1zM379.1 200.7h1v1h-1zM354.8 213.0h1v1h-1zM358.4 222.8h1v1h-1zM372.9 175.6h1v1h-1zM364.1 169.2h1v1h-1zM371.4 230.0h1v1h-1zM395.7 209.4h1v1h-1zM380.6 228.5h1v1h-1zM393.7 213.6h1v1h-1zM377.2 200.9h1v1h-1zM372.1 220.0h1v1h-1zM360.5 230.4h1v1h-1zM370.4 219.7h1v1h-1zM358.0 235.3h1v1h-1zM370.5 200.8h1v1h-1zM388.6 193.5h1v1h-1zM391.2 181.8h1v1h-1zM391.3 209.5h1v1h-1zM393.0 234.1h1v1h-1zM375.1 181.7h1v1h-1zM365.0 173.9h1v1h-1zM375.4 174.7h1v1h-1zM396.8 217.6h1v1h-1zM388.6 234.0h1v1h-1zM396.2 217.6h1v1h-1zM383.1 180.1h1v1h-1zM385.6 184.3h1v1h-1zM402.2 182.0h1v1h-1zM401.0 199.4h1v1h-1zM380.9 191.5h1v1h-1zM405.2 195.5h1v1h-1zM371.3 234.7h1v1h-1zM395.3 189.8h1v1h-1zM379.1 168.5h1v1h-1zM389.4 182.5h1v1h-1zM403.3 215.2h1v1h-1zM367.9 219.8h1v1h-1zM393.7 184.7h1v1h-1zM352.7 202.2h1v1h-1zM401.5 217.5h1v1h-1zM359.3 229.7h1v1h-1zM359.9 179.8h1v1h-1zM360.0 168.2h1v1h-1zM365.7 190.9h1v1h-1zM399.9 229.1h1v1h-1zM405.1 183.0h1v1h-1zM377.5 235.3h1v1h-1zM384.4 169.9h1v1h-1zM358.0 205.8h1v1h-1zM395.5 195.7h1v1h-1zM373.7 197.8h1v1h-1zM369.4 173.7h1v1h-1zM382.1 188.8h1v1h-1zM366.4 203.8h1v1h-1zM368.4 226.7h1v1h-1zM385.0 226.5h1v1h-1zM393.0 226.2h1v1h-1zM361.4 190.5h1v1h-1zM401.2 185.2h1v1h-1zM384.3 180.0h1v1h-1zM356.9 182.7h1v1h-1zM384.4 192.6h1v1h-1zM370.3 189.9h1v1h-1zM400.6 209.1h1v1h-1zM383.7 170.2h1v1h-1zM352.6 208.5h1v1h-1zM404.7 202.0h1v1h-1zM386.4 172.2h1v1h-1zM397.2 178.2h1v1h-1zM379.7 199.4h1v1h-1zM350.4 221.8h1v1h-1zM392.8 230.1h1v1h-1zM387.6 221.4h1v1h-1zM352.6 200.9h1v1h-1zM401.8 173.9h1v1h-1zM397.9 203.0h1v1h-1zM372.3 193.6h1v1h-1zM366.7 171.6h1v1h-1zM385.8 203.6h1v1h-1zM363.8 178.5h1v1h-1zM363.8 194.5h1v1h-1zM396.3 222.9h1v1h-1zM397.4 187.4h1v1h-1zM354.0 213.3h1v1h-1zM358.3 230.5h1v1h-1zM388.4 171.5h1v1h-1zM378.8 204.6h1v1h-1zM401.2 203.0h1v1h-1zM388.8 226.7h1v1h-1zM381.6 223.9h1v1h-1zM378.6 222.4h1v1h-1zM358.0 181.2h1v1h-1zM400.9 201.4h1v1h-1zM373.0 195.5h1v1h-1zM393.1 196.1h1v1h-1zM387.1 204.8h1v1h-1zM398.7 182.1h1v1h-1zM360.7 189.9h1v1h-1zM376.9 184.3h1v1h-1zM368.0 171.1h1v1h-1zM375.4 234.6h1v1h-1zM404.1 187.0h1v1h-1zM405.4 185.6h1v1h-1zM381.2 228.4h1v1h-1zM392.5 174.8h1v1h-1zM373.5 198.2h1v1h-1zM364.0 212.6h1v1h-1zM386.5 213.0h1v1h-1zM358.8 203.2h1v1h-1zM371.3 189.1h1v1h-1zM371.4 177.6h1v1h-1zM358.4 177.4h1v1h-1zM403.5 177.1h1v1h-1zM389.0 207.7h1v1h-1zM392.0 205.7h1v1h-1zM360.3 190.1h1v1h-1zM378.4 234.8h1v1h-1zM402.2 204.7h1v1h-1zM381.4 226.7h1v1h-1zM399.4 196.6h1v1h-1zM403.5 196.9h1v1h-1zM373.4 203.8h1v1h-1zM391.2 176.5h1v1h-1zM376.9 196.5h1v1h-1zM374.3 229.5h1v1h-1zM365.6 204.9h1v1h-1zM382.6 211.9h1v1h-1zM391.4 218.2h1v1h-1zM372.9 183.9h1v1h-1zM372.0 195.6h1v1h-1zM402.8 191.4h1v1h-1zM383.9 190.8h1v1h-1zM353.3 201.5h1v1h-1zM395.4 228.4h1v1h-1zM361.9 220.4h1v1h-1zM399.4 168.4h1v1h-1zM355.9 212.0h1v1h-1zM353.7 171.0h1v1h-1zM369.2 231.4h1v1h-1zM371.6 178.3h1v1h-1zM352.8 211.9h1v1h-1zM371.8 189.5h1v1h-1zM373.4 167.8h1v1h-1zM368.5 177.4h1v1h-1zM356.1 220.4h1v1h-1zM362.3 227.8h1v1h-1zM369.6 235.5h1v1h-1zM382.5 191.2h1v1h-1zM372.1 198.8h1v1h-1zM386.2 180.7h1v1h-1zM378.1 199.7h1v1h-1zM359.7 169.2h1v1h-1zM380.0 185.7h1v1h-1zM403.2 186.2h1v1h-1zM404.5 182.9h1v1h-1zM385.2 176.7h1v1h-1zM392.2 200.0h1v1h-1zM364.8 179.5h1v1h-1zM376.0 234.3h1v1h-1zM403.5 217.8h1v1h-1zM367.0 229.9h1v1h-1zM369.8 192.2h1v1h-1zM366.9 227.3h1v1h-1zM389.1 233.0h1v1h-1zM387.1 221.2h1v1h-1zM370.5 212.3h1v1h-1zM360.1 225.2h1v1h-1zM361.9 210.3h1v1h-1zM360.8 210.2h1v1h-1zM398.7 234.6h1v1h-1zM362.6 175.7h1v1h-1zM376.4 226.8h1v1h-1zM350.8 206.3h1v1h-1zM363.9 178.5h1v1h-1zM370.6 171.6h1v1h-1zM389.5 200.1h1v1h-1zM384.6 209.8h1v1h-1zM383.6 183.9h1v1h-1zM399.9 220.3h1v1h-1zM378.6 174.7h1v1h-1zM355.2 205.8h1v1h-1zM360.5 204.9h1v1h-1zM368.2 209.3h1v1h-1zM368.5 173.1h1v1h-1zM397.7 190.1h1v1h-1zM377.6 230.4h1v1h-1zM377.5 209.4h1v1h-1zM403.9 174.4h1v1h-1zM379.8 186.2h1v1h-1zM382.5 195.9h1v1h-1zM400.9 207.1h1v1h-1zM387.6 195.5h1v1h-1zM402.2 221.3h1v1h-1zM356.6 222.5h1v1h-1zM358.0 216.6h1v1h-1zM353.3 222.3h1v1h-1zM382.2 184.8h1v1h-1zM400.7 195.6h1v1h-1zM389.3 174.6h1v1h-1zM387.5 189.2h1v1h-1zM390.1 169.2h1v1h-1zM357.4 183.2h1v1h-1zM397.6 207.6h1v1h-1zM392.7 193.0h1v1h-1zM361.8 202.9h1v1h-1zM376.1 234.9h1v1h-1zM403.8 172.6h1v1h-1zM390.8 168.8h1v1h-1zM378.6 172.7h1v1h-1zM362.6 219.6h1v1h-1zM375.2 215.3h1v1h-1zM371.6 212.2h1v1h-1zM402.0 201.1h1v1h-1zM399.2 197.7h1v1h-1zM399.3 198.8h1v1h-1zM388.3 210.0h1v1h-1zM373.1 173.2h1v1h-1zM397.8 167.9h1v1h-1zM368.1 209.0h1v1h-1zM394.1 182.4h1v1h-1zM352.9 184.2h1v1h-1zM369.0 187.3h1v1h-1zM357.9 221.7h1v1h-1zM353.5 222.2h1v1h-1zM365.3 193.3h1v1h-1zM393.8 171.9h1v1h-1zM382.4 226.5h1v1h-1zM387.9 169.1h1v1h-1zM400.3 226.5h1v1h-1zM367.5 226.0h1v1h-1zM374.2 174.2h1v1h-1zM393.6 230.6h1v1h-1zM377.4 214.2h1v1h-1zM369.6 182.8h1v1h-1zM379.8 181.1h1v1h-1zM393.3 186.9h1v1h-1zM380.8 230.9h1v1h-1zM383.9 206.9h1v1h-1zM362.6 206.5h1v1h-1z"/>
<path fill="#a0aaf6" d="M384.6 182.0h1v1h-1zM392.0 179.8h1v1h-1zM375.5 179.8h1v1h-1zM380.3 227.6h1v1h-1zM366.2 185.4h1v1h-1zM351.8 214.1h1v1h-1zM383.7 234.7h1v1h-1zM402.0 215.0h1v1h-1zM368.3 193.0h1v1h-1zM401.6 199.9h1v1h-1zM364.9 189.0h1v1h-1zM396.5 210.4h1v1h-1zM392.1 188.1h1v1h-1zM362.6 213.8h1v1h-1zM372.6 211.9h1v1h-1zM395.8 207.6h1v1h-1zM368.3 189.5h1v1h-1zM367.3 200.0h1v1h-1zM358.3 202.1h1v1h-1zM383.0 188.8h1v1h-1zM352.5 234.9h1v1h-1zM381.9 199.1h1v1h-1zM380.3 173.6h1v1h-1zM370.8 208.3h1v1h-1zM388.4 215.2h1v1h-1zM379.7 199.4h1v1h-1zM353.0 223.5h1v1h-1zM377.8 207.1h1v1h-1zM373.0 178.8h1v1h-1zM368.8 224.1h1v1h-1zM369.2 173.5h1v1h-1zM384.5 225.4h1v1h-1zM397.8 191.9h1v1h-1zM351.2 195.5h1v1h-1zM359.8 228.5h1v1h-1zM374.1 169.8h1v1h-1zM363.3 174.9h1v1h-1zM401.8 195.8h1v1h-1zM405.3 183.5h1v1h-1zM383.9 201.5h1v1h-1zM369.3 210.9h1v1h-1zM400.4 182.8h1v1h-1zM403.4 214.3h1v1h-1zM393.5 207.2h1v1h-1zM354.7 231.5h1v1h-1zM390.4 218.7h1v1h-1zM368.8 200.6h1v1h-1zM387.7 206.1h1v1h-1zM367.9 226.1h1v1h-1zM395.2 205.9h1v1h-1zM398.3 215.2h1v1h-1zM389.7 212.4h1v1h-1zM382.5 223.1h1v1h-1zM398.3 211.7h1v1h-1zM390.9 221.9h1v1h-1zM356.6 231.1h1v1h-1zM404.6 216.8h1v1h-1zM372.5 191.8h1v1h-1zM364.6 221.4h1v1h-1zM370.5 200.9h1v1h-1zM364.5 219.8h1v1h-1zM377.9 208.6h1v1h-1zM373.1 191.8h1v1h-1zM370.4 235.2h1v1h-1zM359.7 231.1h1v1h-1zM401.7 219.2h1v1h-1zM363.0 168.7h1v1h-1zM352.7 191.3h1v1h-1zM370.7 204.5h1v1h-1zM401.9 213.9h1v1h-1zM405.3 189.5h1v1h-1zM358.8 226.2h1v1h-1zM375.1 168.4h1v1h-1zM350.9 197.6h1v1h-1zM374.9 226.1h1v1h-1zM360.9 205.1h1v1h-1zM357.0 179.0h1v1h-1zM386.8 199.9h1v1h-1zM381.4 181.1h1v1h-1zM397.3 192.3h1v1h-1zM403.7 190.8h1v1h-1zM363.3 227.1h1v1h-1zM395.7 192.5h1v1h-1zM378.7 186.2h1v1h-1zM353.0 174.6h1v1h-1zM383.5 209.8h1v1h-1zM363.1 211.9h1v1h-1zM396.4 224.3h1v1h-1zM367.5 174.5h1v1h-1zM395.3 193.7h1v1h-1zM382.9 178.3h1v1h-1zM391.8 197.7h1v1h-1zM389.5 220.4h1v1h-1zM364.8 232.2h1v1h-1zM369.1 208.5h1v1h-1zM381.1 187.0h1v1h-1zM395.8 171.1h1v1h-1zM405.0 192.9h1v1h-1zM405.7 191.0h1v1h-1zM390.5 183.1h1v1h-1zM365.3 202.5h1v1h-1zM369.9 232.7h1v1h-1zM381.4 206.1h1v1h-1zM391.7 183.6h1v1h-1zM393.6 178.3h1v1h-1zM403.3 186.0h1v1h-1zM394.6 207.3h1v1h-1zM368.3 186.2h1v1h-1zM393.0 233.0h1v1h-1zM404.6 180.9h1v1h-1zM350.8 224.9h1v1h-1zM358.9 182.5h1v1h-1zM371.1 177.5h1v1h-1zM356.9 221.3h1v1h-1zM383.8 211.7h1v1h-1zM391.1 178.7h1v1h-1zM396.5 172.9h1v1h-1zM389.2 194.2h1v1h-1zM352.6 169.6h1v1h-1zM371.6 221.3h1v1h-1zM392.2 177.0h1v1h-1zM402.4 192.6h1v1h-1zM374.5 195.4h1v1h-1zM390.6 194.3h1v1h-1zM363.4 221.1h1v1h-1zM388.1 226.4h1v1h-1zM376.0 216.8h1v1h-1zM394.6 219.1h1v1h-1zM394.3 196.3h1v1h-1zM364.6 195.1h1v1h-1zM381.8 192.4h1v1h-1zM361.9 186.7h1v1h-1zM353.4 194.0h1v1h-1zM352.8 202.7h1v1h-1zM356.8 184.4h1v1h-1zM373.7 169.8h1v1h-1zM403.7 212.8h1v1h-1zM374.2 229.7h1v1h-1zM377.3 214.5h1v1h-1zM356.3 221.6h1v1h-1zM368.3 225.1h1v1h-1zM402.2 215.2h1v1h-1zM356.8 221.7h1v1h-1zM357.3 230.9h1v1h-1zM379.5 199.5h1v1h-1zM371.7 168.7h1v1h-1zM379.9 187.9h1v1h-1zM357.9 212.3h1v1h-1zM378.6 224.2h1v1h-1zM365.9 209.4h1v1h-1zM373.4 174.6h1v1h-1zM379.3 171.5h1v1h-1zM353.8 176.7h1v1h-1zM363.3 188.1h1v1h-1zM372.7 181.3h1v1h-1zM373.4 192.9h1v1h-1zM382.5 190.0h1v1h-1zM374.3 230.9h1v1h-1zM353.5 195.5h1v1h-1zM393.5 173.3h1v1h-1zM365.5 184.5h1v1h-1zM368.8 208.2h1v1h-1zM380.8 222.4h1v1h-1zM385.9 173.1h1v1h-1zM389.1 191.5h1v1h-1zM393.2 217.9h1v1h-1zM356.1 172.2h1v1h-1zM386.7 189.7h1v1h-1zM379.9 211.9h1v1h-1zM365.3 216.6h1v1h-1zM389.6 171.6h1v1h-1zM403.2 219.7h1v1h-1zM355.3 180.2h1v1h-1zM360.2 211.4h1v1h-1zM377.3 212.9h1v1h-1zM389.1 214.2h1v1h-1zM369.4 226.8h1v1h-1zM379.8 191.4h1v1h-1zM357.9 228.5h1v1h-1zM380.9 174.9h1v1h-1zM369.0 206.8h1v1h-1zM378.3 230.1h1v1h-1zM362.7 194.9h1v1h-1zM363.5 227.2h1v1h-1zM387.7 215.6h1v1h-1zM366.1 227.5h1v1h-1zM360.6 210.1h1v1h-1zM392.9 191.5h1v1h-1zM397.4 203.9h1v1h-1zM367.2 199.7h1v1h-1zM354.8 188.0h1v1h-1zM362.8 215.1h1v1h-1zM368.9 206.9h1v1h-1zM368.3 173.1h1v1h-1zM360.6 191.6h1v1h-1zM404.2 208.7h1v1h-1zM355.3 210.2h1v1h-1zM396.0 206.6h1v1h-1zM381.3 186.4h1v1h-1zM380.8 224.6h1v1h-1zM385.6 210.3h1v1h-1zM392.6 190.1h1v1h-1zM384.2 175.1h1v1h-1zM386.8 225.8h1v1h-1zM396.1 196.6h1v1h-1zM357.0 186.3h1v1h-1zM401.1 193.5h1v1h-1zM405.5 201.3h1v1h-1zM389.1 225.9h1v1h-1zM370.1 184.5h1v1h-1zM360.9 199.6h1v1h-1zM354.7 225.0h1v1h-1zM398.2 229.3h1v1h-1zM403.5 211.9h1v1h-1zM366.9 232.9h1v1h-1zM354.0 192.5h1v1h-1zM379.1 208.2h1v1h-1zM367.3 185.4h1v1h-1zM358.0 204.9h1v1h-1zM403.0 224.4h1v1h-1zM374.8 183.4h1v1h-1zM386.7 199.2h1v1h-1zM391.7 200.9h1v1h-1zM393.2 225.1h1v1h-1zM372.0 221.1h1v1h-1zM398.7 233.6h1v1h-1zM401.0 216.4h1v1h-1zM360.3 234.8h1v1h-1zM360.0 235.4h1v1h-1zM397.6 186.8h1v1h-1zM371.3 207.1h1v1h-1zM379.6 192.1h1v1h-1zM394.0 217.5h1v1h-1zM391.9 228.8h1v1h-1zM385.6 232.9h1v1h-1zM399.9 173.2h1v1h-1zM373.2 175.1h1v1h-1zM393.2 225.3h1v1h-1zM393.4 203.3h1v1h-1zM356.4 220.1h1v1h-1zM379.6 220.4h1v1h-1zM369.3 175.8h1v1h-1zM370.0 197.9h1v1h-1zM388.6 172.2h1v1h-1zM367.9 208.8h1v1h-1zM378.8 223.3h1v1h-1zM375.2 219.0h1v1h-1zM362.9 200.1h1v1h-1zM359.4 174.1h1v1h-1zM366.5 234.5h1v1h-1zM356.5 220.0h1v1h-1zM383.4 195.8h1v1h-1zM373.4 219.8h1v1h-1zM374.0 178.2h1v1h-1zM402.4 200.7h1v1h-1zM375.3 169.7h1v1h-1zM396.8 199.2h1v1h-1zM364.2 235.4h1v1h-1zM382.6 234.4h1v1h-1zM377.4 215.7h1v1h-1zM355.2 205.7h1v1h-1zM364.6 234.1h1v1h-1zM359.7 206.0h1v1h-1zM356.5 222.7h1v1h-1zM399.5 200.7h1v1h-1z"/>
<path fill="#1428ee" d="M400.9 228.4h1v1h-1zM402.9 222.1h1v1h-1zM405.4 174.3h1v1h-1zM400.3 225.5h1v1h-1zM398.3 224.9h1v1h-1zM403.4 212.7h1v1h-1zM406.2 174.9h1v1h-1zM404.0 173.7h1v1h-1zM403.5 181.4h1v1h-1zM397.6 230.0h1v1h-1zM403.8 209.6h1v1h-1zM405.2 207.6h1v1h-1zM405.0 211.1h1v1h-1zM405.9 173.9h1v1h-1zM404.4 215.6h1v1h-1zM405.5 170.8h1v1h-1zM403.7 195.5h1v1h-1zM401.0 226.4h1v1h-1zM405.4 200.8h1v1h-1zM400.0 215.9h1v1h-1zM403.6 175.8h1v1h-1zM402.8 170.3h1v1h-1zM405.9 180.8h1v1h-1zM403.9 210.7h1v1h-1zM405.3 170.9h1v1h-1zM405.7 172.7h1v1h-1zM400.1 225.8h1v1h-1zM406.0 201.0h1v1h-1zM404.1 171.5h1v1h-1zM402.7 190.5h1v1h-1zM402.2 188.8h1v1h-1zM399.5 220.6h1v1h-1zM401.8 169.9h1v1h-1zM403.0 184.6h1v1h-1zM404.0 206.2h1v1h-1zM405.9 171.5h1v1h-1zM402.3 218.3h1v1h-1zM405.9 208.5h1v1h-1zM403.0 182.8h1v1h-1zM403.6 202.7h1v1h-1zM398.9 225.6h1v1h-1zM406.7 190.3h1v1h-1zM405.1 176.6h1v1h-1zM405.6 173.9h1v1h-1zM405.3 200.8h1v1h-1zM400.6 210.1h1v1h-1zM405.2 211.3h1v1h-1zM405.5 208.4h1v1h-1zM403.1 178.4h1v1h-1zM405.0 213.5h1v1h-1zM403.2 202.6h1v1h-1zM404.5 216.3h1v1h-1zM405.8 189.4h1v1h-1zM403.2 182.9h1v1h-1zM402.4 187.6h1v1h-1zM403.7 220.3h1v1h-1zM402.1 201.2h1v1h-1zM405.1 200.0h1v1h-1zM397.1 227.4h1v1h-1zM404.7 170.1h1v1h-1z"/>
<path fill="#2236f0" d="M402.9 187.6h1v1h-1zM402.8 173.5h1v1h-1zM406.4 179.8h1v1h-1zM402.7 206.8h1v1h-1zM402.9 204.2h1v1h-1zM403.4 223.1h1v1h-1zM402.3 198.4h1v1h-1zM402.9 172.4h1v1h-1zM405.3 192.5h1v1h-1zM406.1 178.2h1v1h-1zM401.2 169.8h1v1h-1zM402.9 175.1h1v1h-1zM405.7 197.3h1v1h-1zM404.2 172.1h1v1h-1zM405.4 201.6h1v1h-1zM401.6 216.0h1v1h-1zM401.8 207.9h1v1h-1zM405.1 178.2h1v1h-1zM406.1 172.7h1v1h-1zM402.0 209.0h1v1h-1zM402.4 182.4h1v1h-1zM403.2 221.6h1v1h-1zM404.6 185.8h1v1h-1zM396.5 230.7h1v1h-1zM404.6 176.3h1v1h-1zM404.9 201.5h1v1h-1zM401.5 221.3h1v1h-1zM402.7 192.3h1v1h-1zM401.1 227.6h1v1h-1zM398.3 233.5h1v1h-1zM402.4 202.9h1v1h-1zM399.4 231.7h1v1h-1zM405.3 169.8h1v1h-1zM404.7 198.7h1v1h-1zM404.7 181.0h1v1h-1zM405.1 203.4h1v1h-1zM401.1 226.0h1v1h-1zM403.7 217.8h1v1h-1zM405.4 189.9h1v1h-1zM402.7 180.4h1v1h-1zM402.1 212.8h1v1h-1zM406.4 198.5h1v1h-1zM397.5 227.0h1v1h-1zM405.1 181.3h1v1h-1zM403.0 198.4h1v1h-1zM398.4 225.8h1v1h-1zM405.5 202.2h1v1h-1zM402.8 194.5h1v1h-1zM403.9 198.4h1v1h-1zM405.0 181.6h1v1h-1zM404.4 182.4h1v1h-1zM405.6 173.9h1v1h-1zM404.6 200.6h1v1h-1zM404.6 178.5h1v1h-1zM397.6 224.8h1v1h-1zM402.6 213.5h1v1h-1zM403.0 215.2h1v1h-1zM402.0 225.4h1v1h-1zM402.4 211.6h1v1h-1zM398.8 233.1h1v1h-1zM399.6 216.4h1v1h-1zM405.4 193.9h1v1h-1zM397.9 229.9h1v1h-1zM404.7 208.3h1v1h-1zM402.7 225.1h1v1h-1z"/>
<path fill="#3a4cf2" d="M404.7 179.1h1v1h-1zM406.9 190.2h1v1h-1zM399.0 232.0h1v1h-1zM406.4 184.8h1v1h-1zM403.2 189.1h1v1h-1zM400.8 210.6h1v1h-1zM403.7 216.0h1v1h-1zM403.3 169.4h1v1h-1zM403.9 184.2h1v1h-1zM399.1 226.7h1v1h-1zM399.4 227.1h1v1h-1zM404.8 190.2h1v1h-1zM397.4 235.0h1v1h-1zM400.4 216.7h1v1h-1zM405.9 206.5h1v1h-1zM403.7 199.0h1v1h-1zM402.9 222.6h1v1h-1zM404.0 178.4h1v1h-1zM406.8 193.3h1v1h-1zM398.4 225.2h1v1h-1zM398.4 232.1h1v1h-1zM401.8 221.7h1v1h-1zM404.1 198.7h1v1h-1zM401.5 216.9h1v1h-1zM405.9 183.9h1v1h-1zM405.8 206.9h1v1h-1zM403.5 191.5h1v1h-1zM396.3 231.6h1v1h-1zM402.5 187.2h1v1h-1zM398.5 222.5h1v1h-1zM406.3 181.0h1v1h-1zM403.9 218.1h1v1h-1zM395.7 235.6h1v1h-1zM399.6 224.0h1v1h-1zM403.3 222.7h1v1h-1zM396.0 229.6h1v1h-1zM405.6 203.4h1v1h-1zM400.2 212.3h1v1h-1zM402.9 203.9h1v1h-1zM403.7 192.6h1v1h-1zM395.2 231.0h1v1h-1zM399.8 231.3h1v1h-1zM403.9 193.4h1v1h-1zM401.7 218.7h1v1h-1zM403.3 195.7h1v1h-1zM401.4 226.3h1v1h-1zM403.6 175.3h1v1h-1zM404.2 219.1h1v1h-1zM403.9 220.9h1v1h-1zM402.6 205.0h1v1h-1zM403.5 216.4h1v1h-1zM402.6 169.4h1v1h-1zM403.8 186.7h1v1h-1zM405.3 171.0h1v1h-1z"/>
<path fill="#5a6af4" d="M404.8 182.7h1v1h-1zM403.8 214.5h1v1h-1zM402.9 203.0h1v1h-1zM404.0 187.2h1v1h-1zM403.2 208.5h1v1h-1zM405.9 188.2h1v1h-1zM404.6 211.6h1v1h-1zM404.7 183.1h1v1h-1zM397.1 235.0h1v1h-1zM403.3 211.9h1v1h-1zM404.3 195.1h1v1h-1zM399.8 216.1h1v1h-1zM403.7 215.8h1v1h-1zM398.6 234.6h1v1h-1zM404.8 186.1h1v1h-1zM402.2 217.1h1v1h-1zM401.9 215.8h1v1h-1zM404.7 198.3h1v1h-1zM405.6 173.6h1v1h-1zM406.6 182.4h1v1h-1zM397.9 229.8h1v1h-1zM404.2 195.4h1v1h-1zM397.4 226.5h1v1h-1zM403.5 219.9h1v1h-1zM394.6 235.7h1v1h-1zM406.4 185.1h1v1h-1zM402.3 178.0h1v1h-1zM405.2 215.2h1v1h-1zM394.0 233.6h1v1h-1zM401.8 215.8h1v1h-1zM401.0 207.3h1v1h-1zM405.6 187.9h1v1h-1zM402.1 188.3h1v1h-1zM403.1 175.1h1v1h-1zM405.1 198.2h1v1h-1zM397.6 231.4h1v1h-1zM406.3 196.1h1v1h-1zM403.5 181.6h1v1h-1zM405.6 192.2h1v1h-1zM404.2 176.4h1v1h-1zM405.5 187.3h1v1h-1zM402.3 203.5h1v1h-1zM400.8 228.9h1v1h-1zM406.3 184.6h1v1h-1zM404.0 203.0h1v1h-1zM401.8 225.1h1v1h-1zM403.9 214.1h1v1h-1zM403.5 219.1h1v1h-1zM406.0 204.5h1v1h-1zM402.9 211.9h1v1h-1zM402.5 197.3h1v1h-1zM404.6 186.9h1v1h-1zM403.8 168.7h1v1h-1zM401.2 211.0h1v1h-1zM403.8 218.4h1v1h-1zM404.4 179.2h1v1h-1zM401.8 208.2h1v1h-1zM397.3 235.5h1v1h-1zM400.5 218.9h1v1h-1zM403.8 190.0h1v1h-1zM402.6 221.3h1v1h-1z"/>
<path fill="#1428ee" d="M350.7 178.9h1v1h-1zM355.4 174.3h1v1h-1zM356.1 177.6h1v1h-1zM352.2 184.4h1v1h-1zM350.8 197.0h1v1h-1zM356.1 182.5h1v1h-1zM352.7 185.4h1v1h-1zM350.8 178.3h1v1h-1zM351.6 193.5h1v1h-1zM353.3 185.7h1v1h-1zM353.8 189.9h1v1h-1zM353.5 180.5h1v1h-1zM355.2 176.5h1v1h-1zM350.8 183.7h1v1h-1zM352.3 192.5h1v1h-1zM351.0 208.4h1v1h-1zM351.2 177.5h1v1h-1zM354.3 180.8h1v1h-1zM353.0 179.2h1v1h-1zM353.4 182.1h1v1h-1zM353.4 179.6h1v1h-1zM352.6 202.0h1v1h-1zM355.3 172.0h1v1h-1zM356.0 182.9h1v1h-1zM354.2 172.0h1v1h-1zM358.8 171.1h1v1h-1zM354.1 186.2h1v1h-1zM355.9 177.2h1v1h-1zM351.3 198.4h1v1h-1zM356.8 174.3h1v1h-1zM354.0 188.5h1v1h-1zM356.1 178.5h1v1h-1zM351.4 192.8h1v1h-1zM353.0 184.7h1v1h-1zM352.0 195.2h1v1h-1zM354.2 183.3h1v1h-1zM351.0 186.1h1v1h-1zM351.6 182.8h1v1h-1zM351.1 193.5h1v1h-1zM356.0 178.2h1v1h-1zM352.6 192.0h1v1h-1zM352.7 184.4h1v1h-1zM353.0 201.3h1v1h-1zM352.2 188.7h1v1h-1zM355.7 182.6h1v1h-1zM355.2 175.6h1v1h-1zM357.6 171.2h1v1h-1zM353.5 185.1h1v1h-1zM355.7 182.0h1v1h-1zM351.2 180.9h1v1h-1zM354.4 183.1h1v1h-1zM352.4 196.0h1v1h-1zM355.1 187.1h1v1h-1zM352.0 172.4h1v1h-1zM352.4 173.7h1v1h-1zM350.9 179.3h1v1h-1zM351.5 186.5h1v1h-1z"/>
<path fill="#2236f0" d="M353.2 190.3h1v1h-1zM356.1 181.2h1v1h-1zM353.3 201.4h1v1h-1zM353.1 193.0h1v1h-1zM353.8 171.3h1v1h-1zM357.4 171.9h1v1h-1zM354.3 173.1h1v1h-1zM351.0 185.3h1v1h-1zM353.4 177.7h1v1h-1zM351.2 197.6h1v1h-1zM354.7 188.1h1v1h-1zM355.6 179.6h1v1h-1zM351.0 212.9h1v1h-1zM350.6 204.6h1v1h-1zM354.5 172.8h1v1h-1zM350.7 205.4h1v1h-1zM353.0 203.1h1v1h-1zM357.4 174.1h1v1h-1zM352.0 211.3h1v1h-1zM354.6 193.8h1v1h-1zM354.6 187.5h1v1h-1zM353.2 174.4h1v1h-1zM352.2 182.1h1v1h-1zM353.6 178.8h1v1h-1zM350.9 175.6h1v1h-1zM351.1 180.3h1v1h-1zM352.4 176.0h1v1h-1zM353.0 187.1h1v1h-1zM351.4 190.2h1v1h-1zM353.1 199.6h1v1h-1zM351.3 206.1h1v1h-1zM350.6 202.2h1v1h-1zM350.7 189.2h1v1h-1zM352.7 178.9h1v1h-1zM352.2 176.8h1v1h-1zM351.2 175.4h1v1h-1zM352.1 204.6h1v1h-1zM354.0 195.2h1v1h-1zM352.7 189.4h1v1h-1zM355.8 173.5h1v1h-1zM357.8 174.4h1v1h-1zM356.5 177.6h1v1h-1zM353.5 172.5h1v1h-1zM352.7 176.5h1v1h-1zM350.6 182.3h1v1h-1zM353.4 184.4h1v1h-1zM350.8 194.7h1v1h-1zM350.7 213.2h1v1h-1zM352.1 179.3h1v1h-1zM351.0 213.7h1v1h-1z"/>
<path fill="#3a4cf2" d="M353.1 188.5h1v1h-1zM351.9 204.5h1v1h-1zM350.6 177.6h1v1h-1zM351.9 196.1h1v1h-1zM353.0 178.3h1v1h-1zM355.7 184.3h1v1h-1zM350.9 174.0h1v1h-1zM351.6 198.5h1v1h-1zM353.2 187.0h1v1h-1zM350.9 205.0h1v1h-1zM352.0 174.7h1v1h-1zM353.0 187.0h1v1h-1zM353.6 185.6h1v1h-1zM355.4 181.4h1v1h-1zM351.4 208.8h1v1h-1zM353.4 184.9h1v1h-1zM352.8 190.6h1v1h-1zM353.6 173.9h1v1h-1zM356.4 173.0h1v1h-1zM355.3 172.9h1v1h-1zM350.6 204.4h1v1h-1zM351.7 188.5h1v1h-1zM356.8 179.1h1v1h-1zM352.4 176.5h1v1h-1zM351.3 172.8h1v1h-1zM354.4 173.8h1v1h-1zM355.1 171.4h1v1h-1zM354.7 186.5h1v1h-1zM351.6 202.8h1v1h-1zM351.9 178.9h1v1h-1zM359.8 169.3h1v1h-1zM358.6 171.9h1v1h-1zM358.7 170.6h1v1h-1zM355.5 182.0h1v1h-1zM355.7 182.5h1v1h-1zM356.9 180.8h1v1h-1zM358.6 174.3h1v1h-1zM356.7 180.4h1v1h-1zM356.3 179.4h1v1h-1zM352.6 201.6h1v1h-1zM354.8 192.6h1v1h-1zM350.6 200.9h1v1h-1zM354.5 191.7h1v1h-1zM350.8 195.4h1v1h-1zM351.4 181.6h1v1h-1zM352.6 183.4h1v1h-1zM351.5 197.5h1v1h-1zM356.7 172.3h1v1h-1zM355.2 179.4h1v1h-1zM353.8 183.2h1v1h-1zM355.5 182.1h1v1h-1z"/>
<path fill="#5a6af4" d="M354.5 183.3h1v1h-1zM353.1 179.1h1v1h-1zM354.1 178.6h1v1h-1zM356.6 174.1h1v1h-1zM352.8 193.4h1v1h-1zM351.1 198.2h1v1h-1zM352.4 189.6h1v1h-1zM351.3 191.2h1v1h-1zM350.5 190.3h1v1h-1zM354.6 172.1h1v1h-1zM354.8 189.3h1v1h-1zM351.7 203.8h1v1h-1zM352.5 182.3h1v1h-1zM357.6 172.3h1v1h-1zM350.7 197.4h1v1h-1zM350.8 204.8h1v1h-1zM356.1 171.3h1v1h-1zM351.2 207.0h1v1h-1zM355.5 187.9h1v1h-1zM352.2 201.6h1v1h-1zM355.6 171.3h1v1h-1zM352.8 182.4h1v1h-1zM357.6 176.8h1v1h-1zM350.9 210.7h1v1h-1zM350.5 179.1h1v1h-1zM352.6 176.3h1v1h-1zM354.8 187.1h1v1h-1zM353.0 173.3h1v1h-1zM354.1 182.7h1v1h-1zM350.6 178.2h1v1h-1zM350.6 183.0h1v1h-1zM351.0 179.6h1v1h-1zM351.8 172.5h1v1h-1zM356.8 175.9h1v1h-1zM353.0 181.9h1v1h-1zM352.0 210.8h1v1h-1zM352.7 178.1h1v1h-1zM356.0 174.6h1v1h-1zM351.7 186.4h1v1h-1zM355.2 181.4h1v1h-1zM350.8 196.0h1v1h-1zM356.6 176.3h1v1h-1z"/>
<g filter="url(#blur1)">
<path d="M358 170.2 C361.25 168.07 368.33 169.4 375 169.2 C381.67 169 393.5 168.53 398 169 C402.5 169.47 401.25 168.5 402 172 C402.75 175.5 402.5 183.67 402.5 190 C402.5 196.33 402.42 204.5 402 210 C401.58 215.5 401 218.5 400 223 C399 227.5 404.33 234.67 396 237 C387.67 239.33 357.5 240.17 350 237 C342.5 233.83 350.42 224.17 351 218 C351.58 211.83 352.75 206 353.5 200 C354.25 194 354.75 186.97 355.5 182 C356.25 177.03 354.75 172.33 358 170.2 Z" fill="#0c1cf2" />
</g>
<g filter="url(#blur15)">
<path d="M363.1 221.2 C363.27 219.45 364.05 216.07 365 213.5 C365.95 210.93 367.83 208.37 368.8 205.8 C369.77 203.23 369.98 200.52 370.8 198.1 C371.62 195.68 372.58 193.07 373.7 191.3 C374.82 189.53 375.9 188.3 377.5 187.5 C379.1 186.7 381.85 186.33 383.3 186.5 C384.75 186.67 385.88 186.88 386.2 188.5 C386.52 190.12 385.68 193.65 385.2 196.2 C384.72 198.75 383.95 201.57 383.3 203.8 C382.65 206.03 382.27 207.67 381.3 209.6 C380.33 211.53 378.77 213.63 377.5 215.4 C376.23 217.17 375.15 218.77 373.7 220.2 C372.25 221.63 370.42 223.37 368.8 224 C367.18 224.63 364.95 224.47 364 224 C363.05 223.53 362.93 222.95 363.1 221.2 Z" fill="#3f7ef7" stroke="#3f7ef7" stroke-width="7" stroke-linejoin="round"/>
<path d="M385.5 173.5 C385.92 172.88 387.42 172.02 389 171.6 C390.58 171.18 393.42 171.03 395 171 C396.58 170.97 398.17 170.87 398.5 171.4 C398.83 171.93 398.25 173.55 397 174.2 C395.75 174.85 392.75 175.12 391 175.3 C389.25 175.48 387.42 175.6 386.5 175.3 C385.58 175 385.08 174.12 385.5 173.5 Z" fill="#3f7ef7" stroke="#3f7ef7" stroke-width="7" stroke-linejoin="round"/>
<path d="M377 187 C376.67 185.83 379.5 181.75 381 180 C382.5 178.25 384.5 177 386 176.5 C387.5 176 390 175.92 390 177 C390 178.08 387.17 181.33 386 183 C384.83 184.67 384.5 186.33 383 187 C381.5 187.67 377.33 188.17 377 187 Z" fill="#3f7ef7" stroke="#3f7ef7" stroke-width="4.2" stroke-linejoin="round"/>
<path d="M363.1 221.2 C363.27 219.45 364.05 216.07 365 213.5 C365.95 210.93 367.83 208.37 368.8 205.8 C369.77 203.23 369.98 200.52 370.8 198.1 C371.62 195.68 372.58 193.07 373.7 191.3 C374.82 189.53 375.9 188.3 377.5 187.5 C379.1 186.7 381.85 186.33 383.3 186.5 C384.75 186.67 385.88 186.88 386.2 188.5 C386.52 190.12 385.68 193.65 385.2 196.2 C384.72 198.75 383.95 201.57 383.3 203.8 C382.65 206.03 382.27 207.67 381.3 209.6 C380.33 211.53 378.77 213.63 377.5 215.4 C376.23 217.17 375.15 218.77 373.7 220.2 C372.25 221.63 370.42 223.37 368.8 224 C367.18 224.63 364.95 224.47 364 224 C363.05 223.53 362.93 222.95 363.1 221.2 Z" fill="#5cd6f6" stroke="#5cd6f6" stroke-width="3.5" stroke-linejoin="round"/>
<path d="M385.5 173.5 C385.92 172.88 387.42 172.02 389 171.6 C390.58 171.18 393.42 171.03 395 171 C396.58 170.97 398.17 170.87 398.5 171.4 C398.83 171.93 398.25 173.55 397 174.2 C395.75 174.85 392.75 175.12 391 175.3 C389.25 175.48 387.42 175.6 386.5 175.3 C385.58 175 385.08 174.12 385.5 173.5 Z" fill="#5cd6f6" stroke="#5cd6f6" stroke-width="3.5" stroke-linejoin="round"/>
<path d="M377 187 C376.67 185.83 379.5 181.75 381 180 C382.5 178.25 384.5 177 386 176.5 C387.5 176 390 175.92 390 177 C390 178.08 387.17 181.33 386 183 C384.83 184.67 384.5 186.33 383 187 C381.5 187.67 377.33 188.17 377 187 Z" fill="#5cd6f6" stroke="#5cd6f6" stroke-width="1.75" stroke-linejoin="round"/>
<path d="M363.1 221.2 C363.27 219.45 364.05 216.07 365 213.5 C365.95 210.93 367.83 208.37 368.8 205.8 C369.77 203.23 369.98 200.52 370.8 198.1 C371.62 195.68 372.58 193.07 373.7 191.3 C374.82 189.53 375.9 188.3 377.5 187.5 C379.1 186.7 381.85 186.33 383.3 186.5 C384.75 186.67 385.88 186.88 386.2 188.5 C386.52 190.12 385.68 193.65 385.2 196.2 C384.72 198.75 383.95 201.57 383.3 203.8 C382.65 206.03 382.27 207.67 381.3 209.6 C380.33 211.53 378.77 213.63 377.5 215.4 C376.23 217.17 375.15 218.77 373.7 220.2 C372.25 221.63 370.42 223.37 368.8 224 C367.18 224.63 364.95 224.47 364 224 C363.05 223.53 362.93 222.95 363.1 221.2 Z" fill="#b0ee4a" />
<path d="M385.5 173.5 C385.92 172.88 387.42 172.02 389 171.6 C390.58 171.18 393.42 171.03 395 171 C396.58 170.97 398.17 170.87 398.5 171.4 C398.83 171.93 398.25 173.55 397 174.2 C395.75 174.85 392.75 175.12 391 175.3 C389.25 175.48 387.42 175.6 386.5 175.3 C385.58 175 385.08 174.12 385.5 173.5 Z" fill="#b0ee4a" />
</g>
<g filter="url(#blur08)">
<path d="M372 203 C372.17 201.75 372.83 199.87 374 199 C375.17 198.13 377.33 197.8 379 197.8 C380.67 197.8 383 198.13 384 199 C385 199.87 385.33 201.67 385 203 C384.67 204.33 383.33 206.17 382 207 C380.67 207.83 378.5 208.08 377 208 C375.5 207.92 373.83 207.33 373 206.5 C372.17 205.67 371.83 204.25 372 203 Z" fill="#e6e238" />
<path d="M374 203 C374.08 202.17 375 201.03 376 200.5 C377 199.97 378.83 199.63 380 199.8 C381.17 199.97 382.58 200.72 383 201.5 C383.42 202.28 383.17 203.75 382.5 204.5 C381.83 205.25 380.17 205.83 379 206 C377.83 206.17 376.33 206 375.5 205.5 C374.67 205 373.92 203.83 374 203 Z" fill="#f08a26" />
<path d="M376.5 202.8 C376.75 202.18 377.67 201.1 378.5 200.8 C379.33 200.5 380.92 200.6 381.5 201 C382.08 201.4 382.33 202.57 382 203.2 C381.67 203.83 380.33 204.58 379.5 204.8 C378.67 205.02 377.5 204.83 377 204.5 C376.5 204.17 376.25 203.42 376.5 202.8 Z" fill="#dc2a12" />
</g>
</g>
<rect x="350.3" y="160.2" width="75.7" height="75.5" fill="none" stroke="#444" stroke-width="0.7" />
<path d="M376.5 169.3 L378 164.7 L384.9 160.8 L397.2 159.8 L408 163.2 L413.4 168.5 L414.2 173.9 L411.8 178.5 L407.2 181.6 L401.1 181.6 L393.4 179.3 L383.4 177.8 L378.8 173.9 Z" fill="none" stroke="#e2141c" stroke-width="1.35" stroke-linejoin="round"/>
<path d="M383.4 177.8 L393.4 179.3 L401.1 182.4 L404.9 184.7 L407.2 187.8 L405.7 207.8 L370.3 193.9 L372.6 186.2 L378 181.6 Z" fill="none" stroke="#e2141c" stroke-width="1.35" stroke-linejoin="round"/>
<path d="M370.3 193.9 L405.7 207.8 L404.2 218.5 L401.1 226.2 L394.9 234.7 L350.3 234.7 L350.3 207 Z" fill="none" stroke="#e2141c" stroke-width="1.35" stroke-linejoin="round"/>
<text x="357.4" y="167.6" font-size="7.4" textLength="16" lengthAdjust="spacingAndGlyphs" font-weight="bold" fill="#e2141c" stroke="#e2141c" stroke-width="0.4">High</text>
<text x="410.3" y="201.6" font-size="7.4" textLength="14.4" lengthAdjust="spacingAndGlyphs" font-weight="bold" fill="#e2141c" stroke="#e2141c" stroke-width="0.4">Low</text>
<text x="355.7" y="232.7" font-size="7.4" textLength="31" lengthAdjust="spacingAndGlyphs" font-weight="bold" fill="#e2141c" stroke="#e2141c" stroke-width="0.4">Negative</text>
<line x1="347.1" y1="228" x2="350.3" y2="228" stroke="#333" stroke-width="0.75" />
<text x="335.1" y="229.7" font-size="5.8" textLength="6.9" lengthAdjust="spacingAndGlyphs" stroke="#231f20" stroke-width="0.08">10</text>
<text x="342.2" y="227.5" font-size="3.6" textLength="1.9" lengthAdjust="spacingAndGlyphs" stroke="#231f20" stroke-width="0.08">1</text>
<line x1="358" y1="235.7" x2="358" y2="237.7" stroke="#333" stroke-width="0.75" />
<text x="353.9" y="243.9" font-size="5.8" textLength="7" lengthAdjust="spacingAndGlyphs" stroke="#231f20" stroke-width="0.08">10</text>
<text x="361" y="241.9" font-size="3.6" textLength="1.9" lengthAdjust="spacingAndGlyphs" stroke="#231f20" stroke-width="0.08">1</text>
<line x1="347.1" y1="212.55" x2="350.3" y2="212.55" stroke="#333" stroke-width="0.75" />
<text x="335.1" y="214.25" font-size="5.8" textLength="6.9" lengthAdjust="spacingAndGlyphs" stroke="#231f20" stroke-width="0.08">10</text>
<text x="342.2" y="212.05" font-size="3.6" textLength="1.9" lengthAdjust="spacingAndGlyphs" stroke="#231f20" stroke-width="0.08">2</text>
<line x1="373.3" y1="235.7" x2="373.3" y2="237.7" stroke="#333" stroke-width="0.75" />
<text x="369.2" y="243.9" font-size="5.8" textLength="7" lengthAdjust="spacingAndGlyphs" stroke="#231f20" stroke-width="0.08">10</text>
<text x="376.3" y="241.9" font-size="3.6" textLength="1.9" lengthAdjust="spacingAndGlyphs" stroke="#231f20" stroke-width="0.08">2</text>
<line x1="347.1" y1="197.1" x2="350.3" y2="197.1" stroke="#333" stroke-width="0.75" />
<text x="335.1" y="198.8" font-size="5.8" textLength="6.9" lengthAdjust="spacingAndGlyphs" stroke="#231f20" stroke-width="0.08">10</text>
<text x="342.2" y="196.6" font-size="3.6" textLength="1.9" lengthAdjust="spacingAndGlyphs" stroke="#231f20" stroke-width="0.08">3</text>
<line x1="388.6" y1="235.7" x2="388.6" y2="237.7" stroke="#333" stroke-width="0.75" />
<text x="384.5" y="243.9" font-size="5.8" textLength="7" lengthAdjust="spacingAndGlyphs" stroke="#231f20" stroke-width="0.08">10</text>
<text x="391.6" y="241.9" font-size="3.6" textLength="1.9" lengthAdjust="spacingAndGlyphs" stroke="#231f20" stroke-width="0.08">3</text>
<line x1="347.1" y1="181.65" x2="350.3" y2="181.65" stroke="#333" stroke-width="0.75" />
<text x="335.1" y="183.35" font-size="5.8" textLength="6.9" lengthAdjust="spacingAndGlyphs" stroke="#231f20" stroke-width="0.08">10</text>
<text x="342.2" y="181.15" font-size="3.6" textLength="1.9" lengthAdjust="spacingAndGlyphs" stroke="#231f20" stroke-width="0.08">4</text>
<line x1="403.9" y1="235.7" x2="403.9" y2="237.7" stroke="#333" stroke-width="0.75" />
<text x="399.8" y="243.9" font-size="5.8" textLength="7" lengthAdjust="spacingAndGlyphs" stroke="#231f20" stroke-width="0.08">10</text>
<text x="406.9" y="241.9" font-size="3.6" textLength="1.9" lengthAdjust="spacingAndGlyphs" stroke="#231f20" stroke-width="0.08">4</text>
<line x1="347.1" y1="166.2" x2="350.3" y2="166.2" stroke="#333" stroke-width="0.75" />
<text x="335.1" y="167.9" font-size="5.8" textLength="6.9" lengthAdjust="spacingAndGlyphs" stroke="#231f20" stroke-width="0.08">10</text>
<text x="342.2" y="165.7" font-size="3.6" textLength="1.9" lengthAdjust="spacingAndGlyphs" stroke="#231f20" stroke-width="0.08">5</text>
<line x1="419.2" y1="235.7" x2="419.2" y2="237.7" stroke="#333" stroke-width="0.75" />
<text x="415.1" y="243.9" font-size="5.8" textLength="7" lengthAdjust="spacingAndGlyphs" stroke="#231f20" stroke-width="0.08">10</text>
<text x="422.2" y="241.9" font-size="3.6" textLength="1.9" lengthAdjust="spacingAndGlyphs" stroke="#231f20" stroke-width="0.08">5</text>
<text x="226.6" y="245" font-size="8.6" textLength="31.7" lengthAdjust="spacingAndGlyphs" stroke="#231f20" stroke-width="0.3" transform="rotate(-90 226.6 245)"><tspan font-style="italic">Gata2</tspan>-GFP</text>
<line x1="232.5" y1="246.7" x2="232.5" y2="235" stroke="#231f20" stroke-width="0.8" />
<line x1="232.1" y1="246.7" x2="245" y2="246.7" stroke="#231f20" stroke-width="0.8" />
<path d="M232.5 232.3 L230.9 236.2 L234.1 236.2 Z" fill="#231f20" />
<path d="M247.4 246.7 L243.6 245.1 L243.6 248.3 Z" fill="#231f20" />
<text x="232.7" y="257.6" font-size="8.6" textLength="52.9" lengthAdjust="spacingAndGlyphs" stroke="#231f20" stroke-width="0.3">3q21q26-tdTomato</text>
<text x="7.5" y="295.5" font-size="11.5" textLength="8.2" lengthAdjust="spacingAndGlyphs" font-weight="bold" stroke="#231f20" stroke-width="0.08">D</text>
<text x="84.6" y="308" font-size="7.9" text-anchor="middle" textLength="33.2" lengthAdjust="spacingAndGlyphs" stroke="#231f20" stroke-width="0.08">tdTomato</text>
<text x="29.1" y="401" font-size="7.8" textLength="81" lengthAdjust="spacingAndGlyphs" stroke="#231f20" stroke-width="0.3" transform="rotate(-90 29.1 401)">Relative fluorescence intensities</text>
<line x1="48.3" y1="323.4" x2="48.3" y2="398.9" stroke="#2a2a2a" stroke-width="1.2" />
<line x1="47.7" y1="398.3" x2="120.4" y2="398.3" stroke="#2a2a2a" stroke-width="1.2" />
<line x1="45.7" y1="398.3" x2="48.3" y2="398.3" stroke="#2a2a2a" stroke-width="0.8" />
<text x="42.4" y="400.3" font-size="6" text-anchor="end" stroke="#231f20" stroke-width="0.08">0</text>
<line x1="45.7" y1="374.13" x2="48.3" y2="374.13" stroke="#2a2a2a" stroke-width="0.8" />
<text x="42.4" y="376.13" font-size="6" text-anchor="end" stroke="#231f20" stroke-width="0.08">0.5</text>
<line x1="45.7" y1="349.97" x2="48.3" y2="349.97" stroke="#2a2a2a" stroke-width="0.8" />
<text x="42.4" y="351.97" font-size="6" text-anchor="end" stroke="#231f20" stroke-width="0.08">1.0</text>
<line x1="45.7" y1="325.8" x2="48.3" y2="325.8" stroke="#2a2a2a" stroke-width="0.8" />
<text x="42.4" y="327.8" font-size="6" text-anchor="end" stroke="#231f20" stroke-width="0.08">1.5</text>
<line x1="55.5" y1="398.3" x2="55.5" y2="400.7" stroke="#2a2a2a" stroke-width="0.8" />
<line x1="66.8" y1="398.3" x2="66.8" y2="400.7" stroke="#2a2a2a" stroke-width="0.8" />
<line x1="78.2" y1="398.3" x2="78.2" y2="400.7" stroke="#2a2a2a" stroke-width="0.8" />
<line x1="89.3" y1="398.3" x2="89.3" y2="400.7" stroke="#2a2a2a" stroke-width="0.8" />
<line x1="101.4" y1="398.3" x2="101.4" y2="400.7" stroke="#2a2a2a" stroke-width="0.8" />
<line x1="112.9" y1="398.3" x2="112.9" y2="400.7" stroke="#2a2a2a" stroke-width="0.8" />
<circle cx="53.9" cy="394.43" r="1.45" fill="#5bae2e" stroke="#3d7f1c" stroke-width="0.25" />
<circle cx="57.1" cy="394.43" r="1.45" fill="#5bae2e" stroke="#3d7f1c" stroke-width="0.25" />
<circle cx="55.5" cy="395.88" r="1.45" fill="#5bae2e" stroke="#3d7f1c" stroke-width="0.25" />
<circle cx="54.7" cy="396.37" r="1.45" fill="#5bae2e" stroke="#3d7f1c" stroke-width="0.25" />
<line x1="55.5" y1="396.37" x2="55.5" y2="394.43" stroke="#231f20" stroke-width="0.75" />
<line x1="53.6" y1="396.37" x2="57.4" y2="396.37" stroke="#231f20" stroke-width="0.75" />
<line x1="53.6" y1="394.43" x2="57.4" y2="394.43" stroke="#231f20" stroke-width="0.75" />
<line x1="51.9" y1="395.4" x2="59.1" y2="395.4" stroke="#231f20" stroke-width="0.9" />
<circle cx="65.1" cy="396.85" r="1.45" fill="#1f3d83" stroke="#112456" stroke-width="0.25" />
<circle cx="66.8" cy="396.85" r="1.45" fill="#1f3d83" stroke="#112456" stroke-width="0.25" />
<circle cx="68.5" cy="396.85" r="1.45" fill="#1f3d83" stroke="#112456" stroke-width="0.25" />
<circle cx="67.6" cy="396.37" r="1.45" fill="#1f3d83" stroke="#112456" stroke-width="0.25" />
<line x1="63.2" y1="396.85" x2="70.4" y2="396.85" stroke="#231f20" stroke-width="0.9" />
<circle cx="76.8" cy="381.87" r="1.45" fill="#5bae2e" stroke="#3d7f1c" stroke-width="0.25" />
<circle cx="79.1" cy="385.25" r="1.45" fill="#5bae2e" stroke="#3d7f1c" stroke-width="0.25" />
<circle cx="77.6" cy="386.22" r="1.45" fill="#5bae2e" stroke="#3d7f1c" stroke-width="0.25" />
<circle cx="78.2" cy="392.5" r="1.45" fill="#5bae2e" stroke="#3d7f1c" stroke-width="0.25" />
<line x1="78.2" y1="390.08" x2="78.2" y2="382.35" stroke="#231f20" stroke-width="0.75" />
<line x1="76.3" y1="390.08" x2="80.1" y2="390.08" stroke="#231f20" stroke-width="0.75" />
<line x1="76.3" y1="382.35" x2="80.1" y2="382.35" stroke="#231f20" stroke-width="0.75" />
<line x1="74.6" y1="386.22" x2="81.8" y2="386.22" stroke="#231f20" stroke-width="0.9" />
<circle cx="89.3" cy="386.22" r="1.45" fill="#1f3d83" stroke="#112456" stroke-width="0.25" />
<circle cx="90.8" cy="389.6" r="1.45" fill="#1f3d83" stroke="#112456" stroke-width="0.25" />
<circle cx="88.1" cy="390.08" r="1.45" fill="#1f3d83" stroke="#112456" stroke-width="0.25" />
<circle cx="89.3" cy="393.47" r="1.45" fill="#1f3d83" stroke="#112456" stroke-width="0.25" />
<line x1="89.3" y1="392.5" x2="89.3" y2="386.7" stroke="#231f20" stroke-width="0.75" />
<line x1="87.4" y1="392.5" x2="91.2" y2="392.5" stroke="#231f20" stroke-width="0.75" />
<line x1="87.4" y1="386.7" x2="91.2" y2="386.7" stroke="#231f20" stroke-width="0.75" />
<line x1="85.7" y1="389.6" x2="92.9" y2="389.6" stroke="#231f20" stroke-width="0.9" />
<circle cx="101.4" cy="343.2" r="1.45" fill="#5bae2e" stroke="#3d7f1c" stroke-width="0.25" />
<circle cx="99.6" cy="348.52" r="1.45" fill="#5bae2e" stroke="#3d7f1c" stroke-width="0.25" />
<circle cx="103" cy="348.52" r="1.45" fill="#5bae2e" stroke="#3d7f1c" stroke-width="0.25" />
<circle cx="101.4" cy="360.12" r="1.45" fill="#5bae2e" stroke="#3d7f1c" stroke-width="0.25" />
<line x1="101.4" y1="356.25" x2="101.4" y2="343.2" stroke="#231f20" stroke-width="0.75" />
<line x1="99.5" y1="356.25" x2="103.3" y2="356.25" stroke="#231f20" stroke-width="0.75" />
<line x1="99.5" y1="343.2" x2="103.3" y2="343.2" stroke="#231f20" stroke-width="0.75" />
<line x1="97.8" y1="349.97" x2="105" y2="349.97" stroke="#231f20" stroke-width="0.9" />
<circle cx="111.3" cy="334.98" r="1.45" fill="#1f3d83" stroke="#112456" stroke-width="0.25" />
<circle cx="114.3" cy="337.88" r="1.45" fill="#1f3d83" stroke="#112456" stroke-width="0.25" />
<circle cx="114.3" cy="342.23" r="1.45" fill="#1f3d83" stroke="#112456" stroke-width="0.25" />
<circle cx="111.3" cy="346.1" r="1.45" fill="#1f3d83" stroke="#112456" stroke-width="0.25" />
<line x1="112.9" y1="345.62" x2="112.9" y2="335.47" stroke="#231f20" stroke-width="0.75" />
<line x1="111" y1="345.62" x2="114.8" y2="345.62" stroke="#231f20" stroke-width="0.75" />
<line x1="111" y1="335.47" x2="114.8" y2="335.47" stroke="#231f20" stroke-width="0.75" />
<line x1="109.3" y1="340.3" x2="116.5" y2="340.3" stroke="#231f20" stroke-width="0.9" />
<path d="M57.2 388.9 V388.1 Q57.2 387.3 58 387.3 H67.7 Q68.5 387.3 68.5 388.1 V388.9" fill="none" stroke="#5a5a5a" stroke-width="0.7" />
<text x="62.85" y="386.1" font-size="5.6" text-anchor="middle" stroke="#231f20" stroke-width="0.08">n.s.</text>
<path d="M79.6 377.4 V376.6 Q79.6 375.8 80.4 375.8 H89.2 Q90 375.8 90 376.6 V377.4" fill="none" stroke="#5a5a5a" stroke-width="0.7" />
<text x="84.8" y="374.6" font-size="5.6" text-anchor="middle" stroke="#231f20" stroke-width="0.08">n.s.</text>
<path d="M101.7 331 V330.2 Q101.7 329.4 102.5 329.4 H111.7 Q112.5 329.4 112.5 330.2 V331" fill="none" stroke="#5a5a5a" stroke-width="0.7" />
<text x="107.1" y="329" font-size="5.6" text-anchor="middle" stroke="#231f20" stroke-width="0.08">*</text>
<text x="55.5" y="409.8" font-size="6.2" text-anchor="middle" stroke="#231f20" stroke-width="0.08">1</text>
<text x="66.8" y="409.8" font-size="6.2" text-anchor="middle" stroke="#231f20" stroke-width="0.08">2</text>
<text x="78.2" y="409.8" font-size="6.2" text-anchor="middle" stroke="#231f20" stroke-width="0.08">1</text>
<text x="89.3" y="409.8" font-size="6.2" text-anchor="middle" stroke="#231f20" stroke-width="0.08">2</text>
<text x="101.4" y="409.8" font-size="6.2" text-anchor="middle" stroke="#231f20" stroke-width="0.08">1</text>
<text x="112.9" y="409.8" font-size="6.2" text-anchor="middle" stroke="#231f20" stroke-width="0.08">2</text>
<line x1="55" y1="414.5" x2="67.4" y2="414.5" stroke="#231f20" stroke-width="0.95" />
<text x="61.2" y="422.9" font-size="6.2" text-anchor="middle" stroke="#231f20" stroke-width="0.08">Neg</text>
<line x1="77.7" y1="414.5" x2="89.9" y2="414.5" stroke="#231f20" stroke-width="0.95" />
<text x="83.8" y="422.9" font-size="6.2" text-anchor="middle" stroke="#231f20" stroke-width="0.08">Low</text>
<line x1="100.9" y1="414.5" x2="113.5" y2="414.5" stroke="#231f20" stroke-width="0.95" />
<text x="107.2" y="422.9" font-size="6.2" text-anchor="middle" stroke="#231f20" stroke-width="0.08">High</text>
<text x="181.3" y="308.5" font-size="8.1" text-anchor="middle" textLength="17.3" lengthAdjust="spacingAndGlyphs" stroke="#231f20" stroke-width="0.08">GFP</text>
<line x1="145" y1="323.4" x2="145" y2="398.8" stroke="#2a2a2a" stroke-width="1.2" />
<line x1="144.4" y1="398.2" x2="216.5" y2="398.2" stroke="#2a2a2a" stroke-width="1.2" />
<line x1="142.4" y1="398.2" x2="145" y2="398.2" stroke="#2a2a2a" stroke-width="0.8" />
<text x="139.2" y="400.2" font-size="6" text-anchor="end" stroke="#231f20" stroke-width="0.08">0</text>
<line x1="142.4" y1="374.07" x2="145" y2="374.07" stroke="#2a2a2a" stroke-width="0.8" />
<text x="139.2" y="376.07" font-size="6" text-anchor="end" stroke="#231f20" stroke-width="0.08">0.5</text>
<line x1="142.4" y1="349.93" x2="145" y2="349.93" stroke="#2a2a2a" stroke-width="0.8" />
<text x="139.2" y="351.93" font-size="6" text-anchor="end" stroke="#231f20" stroke-width="0.08">1.0</text>
<line x1="142.4" y1="325.8" x2="145" y2="325.8" stroke="#2a2a2a" stroke-width="0.8" />
<text x="139.2" y="327.8" font-size="6" text-anchor="end" stroke="#231f20" stroke-width="0.08">1.5</text>
<line x1="151.9" y1="398.2" x2="151.9" y2="400.6" stroke="#2a2a2a" stroke-width="0.8" />
<line x1="163.5" y1="398.2" x2="163.5" y2="400.6" stroke="#2a2a2a" stroke-width="0.8" />
<line x1="175" y1="398.2" x2="175" y2="400.6" stroke="#2a2a2a" stroke-width="0.8" />
<line x1="186.5" y1="398.2" x2="186.5" y2="400.6" stroke="#2a2a2a" stroke-width="0.8" />
<line x1="198" y1="398.2" x2="198" y2="400.6" stroke="#2a2a2a" stroke-width="0.8" />
<line x1="209.6" y1="398.2" x2="209.6" y2="400.6" stroke="#2a2a2a" stroke-width="0.8" />
<circle cx="150.3" cy="397.96" r="1.45" fill="#5bae2e" stroke="#3d7f1c" stroke-width="0.25" />
<circle cx="151.9" cy="397.96" r="1.45" fill="#5bae2e" stroke="#3d7f1c" stroke-width="0.25" />
<circle cx="153.5" cy="397.96" r="1.45" fill="#5bae2e" stroke="#3d7f1c" stroke-width="0.25" />
<line x1="148.3" y1="397.96" x2="155.5" y2="397.96" stroke="#231f20" stroke-width="0.9" />
<circle cx="161.9" cy="397.72" r="1.45" fill="#1f3d83" stroke="#112456" stroke-width="0.25" />
<circle cx="163.5" cy="397.72" r="1.45" fill="#1f3d83" stroke="#112456" stroke-width="0.25" />
<circle cx="165.1" cy="397.72" r="1.45" fill="#1f3d83" stroke="#112456" stroke-width="0.25" />
<line x1="159.9" y1="397.72" x2="167.1" y2="397.72" stroke="#231f20" stroke-width="0.9" />
<circle cx="173.4" cy="394.82" r="1.45" fill="#5bae2e" stroke="#3d7f1c" stroke-width="0.25" />
<circle cx="176.6" cy="395.79" r="1.45" fill="#5bae2e" stroke="#3d7f1c" stroke-width="0.25" />
<circle cx="174.2" cy="396.27" r="1.45" fill="#5bae2e" stroke="#3d7f1c" stroke-width="0.25" />
<circle cx="175.6" cy="396.75" r="1.45" fill="#5bae2e" stroke="#3d7f1c" stroke-width="0.25" />
<line x1="171.4" y1="396.27" x2="178.6" y2="396.27" stroke="#231f20" stroke-width="0.9" />
<circle cx="188.2" cy="395.3" r="1.45" fill="#1f3d83" stroke="#112456" stroke-width="0.25" />
<circle cx="184.9" cy="395.79" r="1.45" fill="#1f3d83" stroke="#112456" stroke-width="0.25" />
<circle cx="186.5" cy="396.27" r="1.45" fill="#1f3d83" stroke="#112456" stroke-width="0.25" />
<circle cx="187.4" cy="396.75" r="1.45" fill="#1f3d83" stroke="#112456" stroke-width="0.25" />
<line x1="182.9" y1="396.03" x2="190.1" y2="396.03" stroke="#231f20" stroke-width="0.9" />
<circle cx="196.5" cy="344.14" r="1.45" fill="#5bae2e" stroke="#3d7f1c" stroke-width="0.25" />
<circle cx="199.6" cy="347.04" r="1.45" fill="#5bae2e" stroke="#3d7f1c" stroke-width="0.25" />
<circle cx="196.4" cy="350.42" r="1.45" fill="#5bae2e" stroke="#3d7f1c" stroke-width="0.25" />
<circle cx="198" cy="353.31" r="1.45" fill="#5bae2e" stroke="#3d7f1c" stroke-width="0.25" />
<line x1="198" y1="353.31" x2="198" y2="346.07" stroke="#231f20" stroke-width="0.75" />
<line x1="196.1" y1="353.31" x2="199.9" y2="353.31" stroke="#231f20" stroke-width="0.75" />
<line x1="196.1" y1="346.07" x2="199.9" y2="346.07" stroke="#231f20" stroke-width="0.75" />
<line x1="194.4" y1="349.93" x2="201.6" y2="349.93" stroke="#231f20" stroke-width="0.9" />
<circle cx="209.6" cy="346.07" r="1.45" fill="#1f3d83" stroke="#112456" stroke-width="0.25" />
<circle cx="211.4" cy="350.9" r="1.45" fill="#1f3d83" stroke="#112456" stroke-width="0.25" />
<circle cx="209.6" cy="353.31" r="1.45" fill="#1f3d83" stroke="#112456" stroke-width="0.25" />
<line x1="209.6" y1="354.76" x2="209.6" y2="347.52" stroke="#231f20" stroke-width="0.75" />
<line x1="207.7" y1="354.76" x2="211.5" y2="354.76" stroke="#231f20" stroke-width="0.75" />
<line x1="207.7" y1="347.52" x2="211.5" y2="347.52" stroke="#231f20" stroke-width="0.75" />
<line x1="206" y1="351.38" x2="213.2" y2="351.38" stroke="#231f20" stroke-width="0.9" />
<path d="M152.6 392 V391.2 Q152.6 390.4 153.4 390.4 H162.7 Q163.5 390.4 163.5 391.2 V392" fill="none" stroke="#5a5a5a" stroke-width="0.7" />
<text x="158.05" y="389.2" font-size="5.6" text-anchor="middle" stroke="#231f20" stroke-width="0.08">n.s.</text>
<path d="M175.7 392 V391.2 Q175.7 390.4 176.5 390.4 H185.7 Q186.5 390.4 186.5 391.2 V392" fill="none" stroke="#5a5a5a" stroke-width="0.7" />
<text x="181.1" y="389.2" font-size="5.6" text-anchor="middle" stroke="#231f20" stroke-width="0.08">n.s.</text>
<path d="M199.2 338.9 V338.1 Q199.2 337.3 200 337.3 H208.8 Q209.6 337.3 209.6 338.1 V338.9" fill="none" stroke="#5a5a5a" stroke-width="0.7" />
<text x="204.4" y="336.1" font-size="5.6" text-anchor="middle" stroke="#231f20" stroke-width="0.08">n.s.</text>
<text x="151.9" y="409.8" font-size="6.2" text-anchor="middle" stroke="#231f20" stroke-width="0.08">1</text>
<text x="163.5" y="409.8" font-size="6.2" text-anchor="middle" stroke="#231f20" stroke-width="0.08">2</text>
<text x="175" y="409.8" font-size="6.2" text-anchor="middle" stroke="#231f20" stroke-width="0.08">1</text>
<text x="186.5" y="409.8" font-size="6.2" text-anchor="middle" stroke="#231f20" stroke-width="0.08">2</text>
<text x="198" y="409.8" font-size="6.2" text-anchor="middle" stroke="#231f20" stroke-width="0.08">1</text>
<text x="209.6" y="409.8" font-size="6.2" text-anchor="middle" stroke="#231f20" stroke-width="0.08">2</text>
<line x1="151.4" y1="414.5" x2="164.1" y2="414.5" stroke="#231f20" stroke-width="0.95" />
<text x="157.75" y="422.9" font-size="6.2" text-anchor="middle" stroke="#231f20" stroke-width="0.08">Neg</text>
<line x1="174.5" y1="414.5" x2="187.1" y2="414.5" stroke="#231f20" stroke-width="0.95" />
<text x="180.8" y="422.9" font-size="6.2" text-anchor="middle" stroke="#231f20" stroke-width="0.08">Low</text>
<line x1="197.5" y1="414.5" x2="210.2" y2="414.5" stroke="#231f20" stroke-width="0.95" />
<text x="203.85" y="422.9" font-size="6.2" text-anchor="middle" stroke="#231f20" stroke-width="0.08">High</text>
<text x="76" y="436.1" font-size="5.1" text-anchor="middle" stroke="#231f20" stroke-width="0.08">1</text>
<circle cx="82.5" cy="434.3" r="2.3" fill="#5bae2e" />
<text x="88" y="436.1" font-size="5.1" stroke="#231f20" stroke-width="0.08"><tspan font-style="italic">Gata2</tspan> +/<tspan font-style="italic">gfp</tspan>::Tom</text>
<text x="138" y="436.1" font-size="5.1" text-anchor="middle" stroke="#231f20" stroke-width="0.08">2</text>
<circle cx="144.5" cy="434.3" r="2.3" fill="#1f3d83" />
<text x="150.5" y="436.1" font-size="5.1" stroke="#231f20" stroke-width="0.08">3q21q26-<tspan font-style="italic">EVI1</tspan>::</text>
<text x="150.5" y="443" font-size="5.1" stroke="#231f20" stroke-width="0.08"><tspan font-style="italic">Gata2</tspan> +/<tspan font-style="italic">gfp</tspan>::Tom</text>
<text x="236.2" y="295.4" font-size="11.5" textLength="7.8" lengthAdjust="spacingAndGlyphs" font-weight="bold" stroke="#231f20" stroke-width="0.08">E</text>
<text x="286.9" y="307.7" font-size="8.1" textLength="36.9" lengthAdjust="spacingAndGlyphs" stroke="#231f20" stroke-width="0.08">Total <tspan font-style="italic">EVI1</tspan></text>
<text x="261.4" y="315.4" font-size="5.9" textLength="87" lengthAdjust="spacingAndGlyphs" stroke="#231f20" stroke-width="0.08">(Endogenous gene + transgene)</text>
<text x="250.2" y="388" font-size="7.8" textLength="54" lengthAdjust="spacingAndGlyphs" stroke="#231f20" stroke-width="0.3" transform="rotate(-90 250.2 388)">Relative mRNA levels</text>
<line x1="268.6" y1="323.6" x2="268.6" y2="398.9" stroke="#2a2a2a" stroke-width="1.2" />
<line x1="268" y1="398.3" x2="340.8" y2="398.3" stroke="#2a2a2a" stroke-width="1.2" />
<line x1="266" y1="398.3" x2="268.6" y2="398.3" stroke="#2a2a2a" stroke-width="0.8" />
<text x="262.8" y="400.3" font-size="6" text-anchor="end" stroke="#231f20" stroke-width="0.08">0</text>
<line x1="266" y1="383.82" x2="268.6" y2="383.82" stroke="#2a2a2a" stroke-width="0.8" />
<text x="262.8" y="385.82" font-size="6" text-anchor="end" stroke="#231f20" stroke-width="0.08">5</text>
<line x1="266" y1="369.34" x2="268.6" y2="369.34" stroke="#2a2a2a" stroke-width="0.8" />
<text x="262.8" y="371.34" font-size="6" text-anchor="end" stroke="#231f20" stroke-width="0.08">10</text>
<line x1="266" y1="354.86" x2="268.6" y2="354.86" stroke="#2a2a2a" stroke-width="0.8" />
<text x="262.8" y="356.86" font-size="6" text-anchor="end" stroke="#231f20" stroke-width="0.08">15</text>
<line x1="266" y1="340.38" x2="268.6" y2="340.38" stroke="#2a2a2a" stroke-width="0.8" />
<text x="262.8" y="342.38" font-size="6" text-anchor="end" stroke="#231f20" stroke-width="0.08">20</text>
<line x1="266" y1="325.9" x2="268.6" y2="325.9" stroke="#2a2a2a" stroke-width="0.8" />
<text x="262.8" y="327.9" font-size="6" text-anchor="end" stroke="#231f20" stroke-width="0.08">25</text>
<line x1="275.2" y1="398.3" x2="275.2" y2="400.7" stroke="#2a2a2a" stroke-width="0.8" />
<line x1="287.2" y1="398.3" x2="287.2" y2="400.7" stroke="#2a2a2a" stroke-width="0.8" />
<line x1="298.9" y1="398.3" x2="298.9" y2="400.7" stroke="#2a2a2a" stroke-width="0.8" />
<line x1="310.8" y1="398.3" x2="310.8" y2="400.7" stroke="#2a2a2a" stroke-width="0.8" />
<line x1="322" y1="398.3" x2="322" y2="400.7" stroke="#2a2a2a" stroke-width="0.8" />
<line x1="333.6" y1="398.3" x2="333.6" y2="400.7" stroke="#2a2a2a" stroke-width="0.8" />
<circle cx="273.6" cy="396.85" r="1.45" fill="#5bae2e" stroke="#3d7f1c" stroke-width="0.25" />
<circle cx="276.8" cy="396.27" r="1.45" fill="#5bae2e" stroke="#3d7f1c" stroke-width="0.25" />
<circle cx="275.2" cy="397.43" r="1.45" fill="#5bae2e" stroke="#3d7f1c" stroke-width="0.25" />
<circle cx="276" cy="397.72" r="1.45" fill="#5bae2e" stroke="#3d7f1c" stroke-width="0.25" />
<line x1="271.6" y1="397.14" x2="278.8" y2="397.14" stroke="#231f20" stroke-width="0.9" />
<circle cx="285.6" cy="394.54" r="1.45" fill="#1f3d83" stroke="#112456" stroke-width="0.25" />
<circle cx="287.2" cy="395.11" r="1.45" fill="#1f3d83" stroke="#112456" stroke-width="0.25" />
<circle cx="288.8" cy="394.82" r="1.45" fill="#1f3d83" stroke="#112456" stroke-width="0.25" />
<circle cx="288" cy="395.4" r="1.45" fill="#1f3d83" stroke="#112456" stroke-width="0.25" />
<line x1="283.6" y1="394.97" x2="290.8" y2="394.97" stroke="#231f20" stroke-width="0.9" />
<circle cx="297.3" cy="396.56" r="1.45" fill="#5bae2e" stroke="#3d7f1c" stroke-width="0.25" />
<circle cx="298.9" cy="396.85" r="1.45" fill="#5bae2e" stroke="#3d7f1c" stroke-width="0.25" />
<circle cx="300.5" cy="396.27" r="1.45" fill="#5bae2e" stroke="#3d7f1c" stroke-width="0.25" />
<line x1="295.3" y1="396.56" x2="302.5" y2="396.56" stroke="#231f20" stroke-width="0.9" />
<circle cx="310.8" cy="386.43" r="1.45" fill="#1f3d83" stroke="#112456" stroke-width="0.25" />
<circle cx="309.2" cy="391.93" r="1.45" fill="#1f3d83" stroke="#112456" stroke-width="0.25" />
<circle cx="312.4" cy="391.06" r="1.45" fill="#1f3d83" stroke="#112456" stroke-width="0.25" />
<line x1="310.8" y1="392.22" x2="310.8" y2="387.01" stroke="#231f20" stroke-width="0.75" />
<line x1="308.9" y1="392.22" x2="312.7" y2="392.22" stroke="#231f20" stroke-width="0.75" />
<line x1="308.9" y1="387.01" x2="312.7" y2="387.01" stroke="#231f20" stroke-width="0.75" />
<line x1="307.2" y1="389.61" x2="314.4" y2="389.61" stroke="#231f20" stroke-width="0.9" />
<circle cx="320.4" cy="395.69" r="1.45" fill="#5bae2e" stroke="#3d7f1c" stroke-width="0.25" />
<circle cx="322" cy="395.4" r="1.45" fill="#5bae2e" stroke="#3d7f1c" stroke-width="0.25" />
<circle cx="323.6" cy="394.25" r="1.45" fill="#5bae2e" stroke="#3d7f1c" stroke-width="0.25" />
<circle cx="322.5" cy="396.27" r="1.45" fill="#5bae2e" stroke="#3d7f1c" stroke-width="0.25" />
<line x1="318.4" y1="395.4" x2="325.6" y2="395.4" stroke="#231f20" stroke-width="0.9" />
<circle cx="333.6" cy="334.88" r="1.45" fill="#1f3d83" stroke="#112456" stroke-width="0.25" />
<circle cx="333.6" cy="363.55" r="1.45" fill="#1f3d83" stroke="#112456" stroke-width="0.25" />
<circle cx="333.6" cy="371.08" r="1.45" fill="#1f3d83" stroke="#112456" stroke-width="0.25" />
<line x1="333.6" y1="375.13" x2="333.6" y2="337.48" stroke="#231f20" stroke-width="0.75" />
<line x1="331.7" y1="375.13" x2="335.5" y2="375.13" stroke="#231f20" stroke-width="0.75" />
<line x1="331.7" y1="337.48" x2="335.5" y2="337.48" stroke="#231f20" stroke-width="0.75" />
<line x1="330" y1="356.31" x2="337.2" y2="356.31" stroke="#231f20" stroke-width="0.9" />
<path d="M286.1 327.3 V326.5 Q286.1 325.7 286.9 325.7 H332.7 Q333.5 325.7 333.5 326.5 V327.3" fill="none" stroke="#5a5a5a" stroke-width="0.7" />
<text x="309.8" y="327.1" font-size="5.6" text-anchor="middle" stroke="#231f20" stroke-width="0.08">**</text>
<path d="M312.4 332.1 V331.3 Q312.4 330.5 313.2 330.5 H332.7 Q333.5 330.5 333.5 331.3 V332.1" fill="none" stroke="#5a5a5a" stroke-width="0.7" />
<text x="322.95" y="331.9" font-size="5.6" text-anchor="middle" stroke="#231f20" stroke-width="0.08">**</text>
<text x="275.2" y="409.5" font-size="6.2" text-anchor="middle" stroke="#231f20" stroke-width="0.08">1</text>
<text x="287.2" y="409.5" font-size="6.2" text-anchor="middle" stroke="#231f20" stroke-width="0.08">2</text>
<text x="298.9" y="409.5" font-size="6.2" text-anchor="middle" stroke="#231f20" stroke-width="0.08">1</text>
<text x="310.8" y="409.5" font-size="6.2" text-anchor="middle" stroke="#231f20" stroke-width="0.08">2</text>
<text x="322" y="409.5" font-size="6.2" text-anchor="middle" stroke="#231f20" stroke-width="0.08">1</text>
<text x="333.6" y="409.5" font-size="6.2" text-anchor="middle" stroke="#231f20" stroke-width="0.08">2</text>
<line x1="274.7" y1="414.5" x2="287.8" y2="414.5" stroke="#231f20" stroke-width="0.95" />
<text x="281.25" y="422.8" font-size="6.2" text-anchor="middle" stroke="#231f20" stroke-width="0.08">Neg</text>
<line x1="298.4" y1="414.5" x2="311.4" y2="414.5" stroke="#231f20" stroke-width="0.95" />
<text x="304.9" y="422.8" font-size="6.2" text-anchor="middle" stroke="#231f20" stroke-width="0.08">Low</text>
<line x1="321.5" y1="414.5" x2="334.2" y2="414.5" stroke="#231f20" stroke-width="0.95" />
<text x="327.85" y="422.8" font-size="6.2" text-anchor="middle" stroke="#231f20" stroke-width="0.08">High</text>
<text x="390.5" y="307.7" font-size="8.1" textLength="22.1" lengthAdjust="spacingAndGlyphs" stroke="#231f20" stroke-width="0.08"><tspan font-style="italic">Gata2</tspan></text>
<line x1="364.3" y1="323.6" x2="364.3" y2="399.1" stroke="#2a2a2a" stroke-width="1.2" />
<line x1="363.7" y1="398.5" x2="437.4" y2="398.5" stroke="#2a2a2a" stroke-width="1.2" />
<line x1="361.7" y1="398.5" x2="364.3" y2="398.5" stroke="#2a2a2a" stroke-width="0.8" />
<text x="358.6" y="400.5" font-size="6" text-anchor="end" stroke="#231f20" stroke-width="0.08">0</text>
<line x1="361.7" y1="374.3" x2="364.3" y2="374.3" stroke="#2a2a2a" stroke-width="0.8" />
<text x="358.6" y="376.3" font-size="6" text-anchor="end" stroke="#231f20" stroke-width="0.08">0.5</text>
<line x1="361.7" y1="350.1" x2="364.3" y2="350.1" stroke="#2a2a2a" stroke-width="0.8" />
<text x="358.6" y="352.1" font-size="6" text-anchor="end" stroke="#231f20" stroke-width="0.08">1.0</text>
<line x1="361.7" y1="325.9" x2="364.3" y2="325.9" stroke="#2a2a2a" stroke-width="0.8" />
<text x="358.6" y="327.9" font-size="6" text-anchor="end" stroke="#231f20" stroke-width="0.08">1.5</text>
<line x1="372.1" y1="398.5" x2="372.1" y2="400.9" stroke="#2a2a2a" stroke-width="0.8" />
<line x1="383.8" y1="398.5" x2="383.8" y2="400.9" stroke="#2a2a2a" stroke-width="0.8" />
<line x1="395.3" y1="398.5" x2="395.3" y2="400.9" stroke="#2a2a2a" stroke-width="0.8" />
<line x1="406.4" y1="398.5" x2="406.4" y2="400.9" stroke="#2a2a2a" stroke-width="0.8" />
<line x1="417.9" y1="398.5" x2="417.9" y2="400.9" stroke="#2a2a2a" stroke-width="0.8" />
<line x1="429.6" y1="398.5" x2="429.6" y2="400.9" stroke="#2a2a2a" stroke-width="0.8" />
<circle cx="373.9" cy="395.11" r="1.45" fill="#5bae2e" stroke="#3d7f1c" stroke-width="0.25" />
<circle cx="370.9" cy="397.05" r="1.45" fill="#5bae2e" stroke="#3d7f1c" stroke-width="0.25" />
<circle cx="372.1" cy="398.02" r="1.45" fill="#5bae2e" stroke="#3d7f1c" stroke-width="0.25" />
<circle cx="373.1" cy="398.5" r="1.45" fill="#5bae2e" stroke="#3d7f1c" stroke-width="0.25" />
<line x1="368.5" y1="397.53" x2="375.7" y2="397.53" stroke="#231f20" stroke-width="0.9" />
<circle cx="382.6" cy="395.11" r="1.45" fill="#1f3d83" stroke="#112456" stroke-width="0.25" />
<circle cx="385.6" cy="396.56" r="1.45" fill="#1f3d83" stroke="#112456" stroke-width="0.25" />
<circle cx="384.3" cy="397.53" r="1.45" fill="#1f3d83" stroke="#112456" stroke-width="0.25" />
<line x1="380.2" y1="397.05" x2="387.4" y2="397.05" stroke="#231f20" stroke-width="0.9" />
<circle cx="393.7" cy="396.56" r="1.45" fill="#5bae2e" stroke="#3d7f1c" stroke-width="0.25" />
<circle cx="396.9" cy="395.6" r="1.45" fill="#5bae2e" stroke="#3d7f1c" stroke-width="0.25" />
<circle cx="395.3" cy="397.05" r="1.45" fill="#5bae2e" stroke="#3d7f1c" stroke-width="0.25" />
<line x1="391.7" y1="396.56" x2="398.9" y2="396.56" stroke="#231f20" stroke-width="0.9" />
<circle cx="405.2" cy="386.4" r="1.45" fill="#1f3d83" stroke="#112456" stroke-width="0.25" />
<circle cx="408" cy="390.27" r="1.45" fill="#1f3d83" stroke="#112456" stroke-width="0.25" />
<circle cx="406.4" cy="397.05" r="1.45" fill="#1f3d83" stroke="#112456" stroke-width="0.25" />
<line x1="406.4" y1="396.56" x2="406.4" y2="385.92" stroke="#231f20" stroke-width="0.75" />
<line x1="404.5" y1="396.56" x2="408.3" y2="396.56" stroke="#231f20" stroke-width="0.75" />
<line x1="404.5" y1="385.92" x2="408.3" y2="385.92" stroke="#231f20" stroke-width="0.75" />
<line x1="402.8" y1="391.24" x2="410" y2="391.24" stroke="#231f20" stroke-width="0.9" />
<circle cx="417.9" cy="336.55" r="1.45" fill="#5bae2e" stroke="#3d7f1c" stroke-width="0.25" />
<circle cx="417.9" cy="345.26" r="1.45" fill="#5bae2e" stroke="#3d7f1c" stroke-width="0.25" />
<circle cx="417.9" cy="356.39" r="1.45" fill="#5bae2e" stroke="#3d7f1c" stroke-width="0.25" />
<circle cx="417.9" cy="363.65" r="1.45" fill="#5bae2e" stroke="#3d7f1c" stroke-width="0.25" />
<line x1="417.9" y1="363.17" x2="417.9" y2="337.03" stroke="#231f20" stroke-width="0.75" />
<line x1="416" y1="363.17" x2="419.8" y2="363.17" stroke="#231f20" stroke-width="0.75" />
<line x1="416" y1="337.03" x2="419.8" y2="337.03" stroke="#231f20" stroke-width="0.75" />
<line x1="414.3" y1="350.1" x2="421.5" y2="350.1" stroke="#231f20" stroke-width="0.9" />
<circle cx="428" cy="359.3" r="1.45" fill="#1f3d83" stroke="#112456" stroke-width="0.25" />
<circle cx="431.2" cy="362.2" r="1.45" fill="#1f3d83" stroke="#112456" stroke-width="0.25" />
<circle cx="429.6" cy="376.72" r="1.45" fill="#1f3d83" stroke="#112456" stroke-width="0.25" />
<line x1="429.6" y1="375.27" x2="429.6" y2="356.88" stroke="#231f20" stroke-width="0.75" />
<line x1="427.7" y1="375.27" x2="431.5" y2="375.27" stroke="#231f20" stroke-width="0.75" />
<line x1="427.7" y1="356.88" x2="431.5" y2="356.88" stroke="#231f20" stroke-width="0.75" />
<line x1="426" y1="366.07" x2="433.2" y2="366.07" stroke="#231f20" stroke-width="0.9" />
<path d="M369.9 319.4 V318.6 Q369.9 317.8 370.7 317.8 H416.7 Q417.5 317.8 417.5 318.6 V319.4" fill="none" stroke="#5a5a5a" stroke-width="0.7" />
<text x="393.7" y="319.2" font-size="5.6" text-anchor="middle" stroke="#231f20" stroke-width="0.08">**</text>
<path d="M395.3 324.4 V323.6 Q395.3 322.8 396.1 322.8 H416.7 Q417.5 322.8 417.5 323.6 V324.4" fill="none" stroke="#5a5a5a" stroke-width="0.7" />
<text x="406.4" y="324.2" font-size="5.6" text-anchor="middle" stroke="#231f20" stroke-width="0.08">**</text>
<path d="M381.6 328.9 V328.1 Q381.6 327.3 382.4 327.3 H427.7 Q428.5 327.3 428.5 328.1 V328.9" fill="none" stroke="#5a5a5a" stroke-width="0.7" />
<text x="405.05" y="328.7" font-size="5.6" text-anchor="middle" stroke="#231f20" stroke-width="0.08">**</text>
<path d="M407.5 333.6 V332.8 Q407.5 332 408.3 332 H427.7 Q428.5 332 428.5 332.8 V333.6" fill="none" stroke="#5a5a5a" stroke-width="0.7" />
<text x="418" y="333.4" font-size="5.6" text-anchor="middle" stroke="#231f20" stroke-width="0.08">**</text>
<path d="M419.7 381 V381.8 Q419.7 382.6 420.5 382.6 H429.9 Q430.7 382.6 430.7 381.8 V381" fill="none" stroke="#5a5a5a" stroke-width="0.7" />
<text x="425.2" y="387.6" font-size="5.6" text-anchor="middle" stroke="#231f20" stroke-width="0.08">n.s.</text>
<text x="372.1" y="409.6" font-size="6.2" text-anchor="middle" stroke="#231f20" stroke-width="0.08">1</text>
<text x="383.8" y="409.6" font-size="6.2" text-anchor="middle" stroke="#231f20" stroke-width="0.08">2</text>
<text x="395.3" y="409.6" font-size="6.2" text-anchor="middle" stroke="#231f20" stroke-width="0.08">1</text>
<text x="406.4" y="409.6" font-size="6.2" text-anchor="middle" stroke="#231f20" stroke-width="0.08">2</text>
<text x="417.9" y="409.6" font-size="6.2" text-anchor="middle" stroke="#231f20" stroke-width="0.08">1</text>
<text x="429.6" y="409.6" font-size="6.2" text-anchor="middle" stroke="#231f20" stroke-width="0.08">2</text>
<line x1="371.6" y1="414.5" x2="384.4" y2="414.5" stroke="#231f20" stroke-width="0.95" />
<text x="378" y="423.2" font-size="6.2" text-anchor="middle" stroke="#231f20" stroke-width="0.08">Neg</text>
<line x1="394.8" y1="414.5" x2="407" y2="414.5" stroke="#231f20" stroke-width="0.95" />
<text x="400.9" y="423.2" font-size="6.2" text-anchor="middle" stroke="#231f20" stroke-width="0.08">Low</text>
<line x1="417.4" y1="414.5" x2="430.2" y2="414.5" stroke="#231f20" stroke-width="0.95" />
<text x="423.8" y="423.2" font-size="6.2" text-anchor="middle" stroke="#231f20" stroke-width="0.08">High</text>
<text x="295.5" y="435.6" font-size="5.1" text-anchor="middle" stroke="#231f20" stroke-width="0.08">1</text>
<circle cx="302.9" cy="433.8" r="2.3" fill="#5bae2e" />
<text x="309" y="435.6" font-size="5.1" stroke="#231f20" stroke-width="0.08"><tspan font-style="italic">Gata2</tspan> +/<tspan font-style="italic">gfp</tspan>::Tom</text>
<text x="358.3" y="435.6" font-size="5.1" text-anchor="middle" stroke="#231f20" stroke-width="0.08">2</text>
<circle cx="366" cy="433.8" r="2.3" fill="#1f3d83" />
<text x="371.5" y="435.6" font-size="5.1" stroke="#231f20" stroke-width="0.08">3q21q26-<tspan font-style="italic">EVI1</tspan>::</text>
<text x="371.5" y="442.5" font-size="5.1" stroke="#231f20" stroke-width="0.08"><tspan font-style="italic">Gata2</tspan> +/<tspan font-style="italic">gfp</tspan>::Tom</text>
<text x="8.1" y="467.9" font-size="11.5" textLength="6.8" lengthAdjust="spacingAndGlyphs" font-weight="bold" stroke="#231f20" stroke-width="0.08">F</text>
<text x="25.1" y="553.8" font-size="7.8" textLength="50.6" lengthAdjust="spacingAndGlyphs" stroke="#231f20" stroke-width="0.3" transform="rotate(-90 25.1 553.8)">Cell number (x 10<tspan font-size="5.46" dy="-2">3</tspan>)</text>
<line x1="45" y1="491.6" x2="45" y2="566.9" stroke="#2a2a2a" stroke-width="1.2" />
<line x1="44.4" y1="566.3" x2="117.8" y2="566.3" stroke="#2a2a2a" stroke-width="1.2" />
<line x1="41.8" y1="566.3" x2="45" y2="566.3" stroke="#2a2a2a" stroke-width="0.8" />
<text x="39.4" y="568.3" font-size="6" text-anchor="end" stroke="#231f20" stroke-width="0.08">0</text>
<line x1="41.8" y1="551.8" x2="45" y2="551.8" stroke="#2a2a2a" stroke-width="0.8" />
<text x="39.4" y="553.8" font-size="6" text-anchor="end" stroke="#231f20" stroke-width="0.08">0.5</text>
<line x1="41.8" y1="537.3" x2="45" y2="537.3" stroke="#2a2a2a" stroke-width="0.8" />
<text x="39.4" y="539.3" font-size="6" text-anchor="end" stroke="#231f20" stroke-width="0.08">1.0</text>
<line x1="41.8" y1="522.8" x2="45" y2="522.8" stroke="#2a2a2a" stroke-width="0.8" />
<text x="39.4" y="524.8" font-size="6" text-anchor="end" stroke="#231f20" stroke-width="0.08">1.5</text>
<line x1="41.8" y1="508.3" x2="45" y2="508.3" stroke="#2a2a2a" stroke-width="0.8" />
<text x="39.4" y="510.3" font-size="6" text-anchor="end" stroke="#231f20" stroke-width="0.08">2.0</text>
<line x1="41.8" y1="493.8" x2="45" y2="493.8" stroke="#2a2a2a" stroke-width="0.8" />
<text x="39.4" y="495.8" font-size="6" text-anchor="end" stroke="#231f20" stroke-width="0.08">2.5</text>
<line x1="53.1" y1="566.3" x2="53.1" y2="568.7" stroke="#2a2a2a" stroke-width="0.8" />
<line x1="64.3" y1="566.3" x2="64.3" y2="568.7" stroke="#2a2a2a" stroke-width="0.8" />
<line x1="75.9" y1="566.3" x2="75.9" y2="568.7" stroke="#2a2a2a" stroke-width="0.8" />
<line x1="87.4" y1="566.3" x2="87.4" y2="568.7" stroke="#2a2a2a" stroke-width="0.8" />
<line x1="98.6" y1="566.3" x2="98.6" y2="568.7" stroke="#2a2a2a" stroke-width="0.8" />
<line x1="109.8" y1="566.3" x2="109.8" y2="568.7" stroke="#2a2a2a" stroke-width="0.8" />
<circle cx="50.5" cy="525.12" r="1.45" fill="#5bae2e" stroke="#3d7f1c" stroke-width="0.25" />
<circle cx="54.8" cy="521.93" r="1.45" fill="#5bae2e" stroke="#3d7f1c" stroke-width="0.25" />
<circle cx="53.1" cy="531.79" r="1.45" fill="#5bae2e" stroke="#3d7f1c" stroke-width="0.25" />
<circle cx="53.1" cy="552.38" r="1.45" fill="#5bae2e" stroke="#3d7f1c" stroke-width="0.25" />
<line x1="53.1" y1="546" x2="53.1" y2="519.32" stroke="#231f20" stroke-width="0.75" />
<line x1="51.2" y1="546" x2="55" y2="546" stroke="#231f20" stroke-width="0.75" />
<line x1="51.2" y1="519.32" x2="55" y2="519.32" stroke="#231f20" stroke-width="0.75" />
<line x1="49.5" y1="532.37" x2="56.7" y2="532.37" stroke="#231f20" stroke-width="0.9" />
<circle cx="64.3" cy="497.28" r="1.45" fill="#1f3d83" stroke="#112456" stroke-width="0.25" />
<circle cx="64.3" cy="511.78" r="1.45" fill="#1f3d83" stroke="#112456" stroke-width="0.25" />
<circle cx="64.3" cy="524.54" r="1.45" fill="#1f3d83" stroke="#112456" stroke-width="0.25" />
<circle cx="64.3" cy="532.95" r="1.45" fill="#1f3d83" stroke="#112456" stroke-width="0.25" />
<line x1="64.3" y1="532.95" x2="64.3" y2="501.34" stroke="#231f20" stroke-width="0.75" />
<line x1="62.4" y1="532.95" x2="66.2" y2="532.95" stroke="#231f20" stroke-width="0.75" />
<line x1="62.4" y1="501.34" x2="66.2" y2="501.34" stroke="#231f20" stroke-width="0.75" />
<line x1="60.7" y1="516.42" x2="67.9" y2="516.42" stroke="#231f20" stroke-width="0.9" />
<circle cx="75.9" cy="556.15" r="1.45" fill="#5bae2e" stroke="#3d7f1c" stroke-width="0.25" />
<circle cx="74.3" cy="558.47" r="1.45" fill="#5bae2e" stroke="#3d7f1c" stroke-width="0.25" />
<circle cx="77.5" cy="558.47" r="1.45" fill="#5bae2e" stroke="#3d7f1c" stroke-width="0.25" />
<circle cx="75.9" cy="560.79" r="1.45" fill="#5bae2e" stroke="#3d7f1c" stroke-width="0.25" />
<line x1="75.9" y1="560.5" x2="75.9" y2="556.73" stroke="#231f20" stroke-width="0.75" />
<line x1="74" y1="560.5" x2="77.8" y2="560.5" stroke="#231f20" stroke-width="0.75" />
<line x1="74" y1="556.73" x2="77.8" y2="556.73" stroke="#231f20" stroke-width="0.75" />
<line x1="72.3" y1="558.47" x2="79.5" y2="558.47" stroke="#231f20" stroke-width="0.9" />
<circle cx="86" cy="546.58" r="1.45" fill="#1f3d83" stroke="#112456" stroke-width="0.25" />
<circle cx="89" cy="548.32" r="1.45" fill="#1f3d83" stroke="#112456" stroke-width="0.25" />
<circle cx="85.8" cy="553.25" r="1.45" fill="#1f3d83" stroke="#112456" stroke-width="0.25" />
<circle cx="89" cy="553.25" r="1.45" fill="#1f3d83" stroke="#112456" stroke-width="0.25" />
<line x1="87.4" y1="553.25" x2="87.4" y2="547.45" stroke="#231f20" stroke-width="0.75" />
<line x1="85.5" y1="553.25" x2="89.3" y2="553.25" stroke="#231f20" stroke-width="0.75" />
<line x1="85.5" y1="547.45" x2="89.3" y2="547.45" stroke="#231f20" stroke-width="0.75" />
<line x1="83.8" y1="550.35" x2="91" y2="550.35" stroke="#231f20" stroke-width="0.9" />
<circle cx="97" cy="564.85" r="1.45" fill="#5bae2e" stroke="#3d7f1c" stroke-width="0.25" />
<circle cx="98.6" cy="565.14" r="1.45" fill="#5bae2e" stroke="#3d7f1c" stroke-width="0.25" />
<circle cx="100.2" cy="564.56" r="1.45" fill="#5bae2e" stroke="#3d7f1c" stroke-width="0.25" />
<circle cx="99.4" cy="565.43" r="1.45" fill="#5bae2e" stroke="#3d7f1c" stroke-width="0.25" />
<line x1="95" y1="564.85" x2="102.2" y2="564.85" stroke="#231f20" stroke-width="0.9" />
<circle cx="108.1" cy="559.92" r="1.45" fill="#1f3d83" stroke="#112456" stroke-width="0.25" />
<circle cx="109.8" cy="560.79" r="1.45" fill="#1f3d83" stroke="#112456" stroke-width="0.25" />
<circle cx="111.5" cy="559.05" r="1.45" fill="#1f3d83" stroke="#112456" stroke-width="0.25" />
<circle cx="110.8" cy="560.5" r="1.45" fill="#1f3d83" stroke="#112456" stroke-width="0.25" />
<line x1="109.8" y1="561.08" x2="109.8" y2="558.76" stroke="#231f20" stroke-width="0.75" />
<line x1="107.9" y1="561.08" x2="111.7" y2="561.08" stroke="#231f20" stroke-width="0.75" />
<line x1="107.9" y1="558.76" x2="111.7" y2="558.76" stroke="#231f20" stroke-width="0.75" />
<line x1="106.2" y1="559.92" x2="113.4" y2="559.92" stroke="#231f20" stroke-width="0.9" />
<path d="M53.3 494.3 V493.5 Q53.3 492.7 54.1 492.7 H63.2 Q64 492.7 64 493.5 V494.3" fill="none" stroke="#5a5a5a" stroke-width="0.7" />
<text x="58.65" y="491.7" font-size="5.6" text-anchor="middle" stroke="#231f20" stroke-width="0.08">n.s.</text>
<path d="M77.3 543.8 V543 Q77.3 542.2 78.1 542.2 H85.7 Q86.5 542.2 86.5 543 V543.8" fill="none" stroke="#5a5a5a" stroke-width="0.7" />
<text x="81.9" y="541.8" font-size="5.6" text-anchor="middle" stroke="#231f20" stroke-width="0.08">*</text>
<path d="M99.5 556.8 V556 Q99.5 555.2 100.3 555.2 H108.7 Q109.5 555.2 109.5 556 V556.8" fill="none" stroke="#5a5a5a" stroke-width="0.7" />
<text x="104.5" y="554.8" font-size="5.6" text-anchor="middle" stroke="#231f20" stroke-width="0.08">*</text>
<text x="53.1" y="577.7" font-size="6.2" text-anchor="middle" stroke="#231f20" stroke-width="0.08">1</text>
<text x="64.3" y="577.7" font-size="6.2" text-anchor="middle" stroke="#231f20" stroke-width="0.08">2</text>
<text x="75.9" y="577.7" font-size="6.2" text-anchor="middle" stroke="#231f20" stroke-width="0.08">1</text>
<text x="87.4" y="577.7" font-size="6.2" text-anchor="middle" stroke="#231f20" stroke-width="0.08">2</text>
<text x="98.6" y="577.7" font-size="6.2" text-anchor="middle" stroke="#231f20" stroke-width="0.08">1</text>
<text x="109.8" y="577.7" font-size="6.2" text-anchor="middle" stroke="#231f20" stroke-width="0.08">2</text>
<line x1="52.6" y1="582.5" x2="64.9" y2="582.5" stroke="#231f20" stroke-width="0.95" />
<text x="58.75" y="590.7" font-size="6.2" text-anchor="middle" stroke="#231f20" stroke-width="0.08">Neg</text>
<line x1="75.4" y1="582.5" x2="88" y2="582.5" stroke="#231f20" stroke-width="0.95" />
<text x="81.7" y="590.7" font-size="6.2" text-anchor="middle" stroke="#231f20" stroke-width="0.08">Low</text>
<line x1="98.1" y1="582.5" x2="110.4" y2="582.5" stroke="#231f20" stroke-width="0.95" />
<text x="104.25" y="590.7" font-size="6.2" text-anchor="middle" stroke="#231f20" stroke-width="0.08">High</text>
<text x="55.3" y="604.6" font-size="5.1" text-anchor="middle" stroke="#231f20" stroke-width="0.08">1</text>
<circle cx="62.8" cy="602.8" r="2.3" fill="#5bae2e" />
<text x="68.6" y="604.6" font-size="5.1" stroke="#231f20" stroke-width="0.08"><tspan font-style="italic">Gata2</tspan> +/<tspan font-style="italic">gfp</tspan>::Tom</text>
<text x="55.3" y="618.4" font-size="5.1" text-anchor="middle" stroke="#231f20" stroke-width="0.08">2</text>
<circle cx="62.8" cy="616.6" r="2.3" fill="#1f3d83" />
<text x="68.6" y="618.4" font-size="5.1" stroke="#231f20" stroke-width="0.08">3q21q26-<tspan font-style="italic">EVI1</tspan>::</text>
<text x="68.6" y="625" font-size="5.1" stroke="#231f20" stroke-width="0.08"><tspan font-style="italic">Gata2</tspan> +/<tspan font-style="italic">gfp</tspan>::Tom</text>
<text x="127.2" y="467.9" font-size="11.5" textLength="8.4" lengthAdjust="spacingAndGlyphs" font-weight="bold" stroke="#231f20" stroke-width="0.08">G</text>
<text x="150.2" y="481.1" font-size="8.2" textLength="56.8" lengthAdjust="spacingAndGlyphs" stroke="#231f20" stroke-width="0.08">High population</text>
<text x="141.2" y="553.5" font-size="7.8" textLength="49.8" lengthAdjust="spacingAndGlyphs" stroke="#231f20" stroke-width="0.3" transform="rotate(-90 141.2 553.5)">Cell population (%)</text>
<line x1="160.4" y1="491.6" x2="160.4" y2="567.1" stroke="#2a2a2a" stroke-width="1.2" />
<line x1="159.8" y1="566.5" x2="196.3" y2="566.5" stroke="#2a2a2a" stroke-width="1.2" />
<line x1="157.2" y1="566.5" x2="160.4" y2="566.5" stroke="#2a2a2a" stroke-width="0.8" />
<text x="155" y="568.5" font-size="6" text-anchor="end" stroke="#231f20" stroke-width="0.08">0</text>
<line x1="157.2" y1="551.96" x2="160.4" y2="551.96" stroke="#2a2a2a" stroke-width="0.8" />
<text x="155" y="553.96" font-size="6" text-anchor="end" stroke="#231f20" stroke-width="0.08">2</text>
<line x1="157.2" y1="537.42" x2="160.4" y2="537.42" stroke="#2a2a2a" stroke-width="0.8" />
<text x="155" y="539.42" font-size="6" text-anchor="end" stroke="#231f20" stroke-width="0.08">4</text>
<line x1="157.2" y1="522.88" x2="160.4" y2="522.88" stroke="#2a2a2a" stroke-width="0.8" />
<text x="155" y="524.88" font-size="6" text-anchor="end" stroke="#231f20" stroke-width="0.08">6</text>
<line x1="157.2" y1="508.34" x2="160.4" y2="508.34" stroke="#2a2a2a" stroke-width="0.8" />
<text x="155" y="510.34" font-size="6" text-anchor="end" stroke="#231f20" stroke-width="0.08">8</text>
<line x1="157.2" y1="493.8" x2="160.4" y2="493.8" stroke="#2a2a2a" stroke-width="0.8" />
<text x="155" y="495.8" font-size="6" text-anchor="end" stroke="#231f20" stroke-width="0.08">10</text>
<line x1="170.4" y1="566.5" x2="170.4" y2="568.9" stroke="#2a2a2a" stroke-width="0.8" />
<line x1="186.2" y1="566.5" x2="186.2" y2="568.9" stroke="#2a2a2a" stroke-width="0.8" />
<circle cx="168.8" cy="541.05" r="1.45" fill="#5bae2e" stroke="#3d7f1c" stroke-width="0.25" />
<circle cx="172" cy="538.66" r="1.45" fill="#5bae2e" stroke="#3d7f1c" stroke-width="0.25" />
<circle cx="170.4" cy="543.96" r="1.45" fill="#5bae2e" stroke="#3d7f1c" stroke-width="0.25" />
<circle cx="170.4" cy="549.2" r="1.45" fill="#5bae2e" stroke="#3d7f1c" stroke-width="0.25" />
<line x1="170.4" y1="546.87" x2="170.4" y2="538.15" stroke="#231f20" stroke-width="0.75" />
<line x1="168.5" y1="546.87" x2="172.3" y2="546.87" stroke="#231f20" stroke-width="0.75" />
<line x1="168.5" y1="538.15" x2="172.3" y2="538.15" stroke="#231f20" stroke-width="0.75" />
<line x1="166.8" y1="542.51" x2="174" y2="542.51" stroke="#231f20" stroke-width="0.9" />
<circle cx="186.2" cy="503.98" r="1.45" fill="#1f3d83" stroke="#112456" stroke-width="0.25" />
<circle cx="184.5" cy="516.7" r="1.45" fill="#1f3d83" stroke="#112456" stroke-width="0.25" />
<circle cx="186.2" cy="516.7" r="1.45" fill="#1f3d83" stroke="#112456" stroke-width="0.25" />
<circle cx="187.9" cy="516.7" r="1.45" fill="#1f3d83" stroke="#112456" stroke-width="0.25" />
<line x1="186.2" y1="521.43" x2="186.2" y2="507.61" stroke="#231f20" stroke-width="0.75" />
<line x1="184.3" y1="521.43" x2="188.1" y2="521.43" stroke="#231f20" stroke-width="0.75" />
<line x1="184.3" y1="507.61" x2="188.1" y2="507.61" stroke="#231f20" stroke-width="0.75" />
<line x1="182.6" y1="514.16" x2="189.8" y2="514.16" stroke="#231f20" stroke-width="0.9" />
<path d="M170.4 499.2 V498.4 Q170.4 497.6 171.2 497.6 H186 Q186.8 497.6 186.8 498.4 V499.2" fill="none" stroke="#5a5a5a" stroke-width="0.7" />
<text x="178.6" y="498.9" font-size="5.6" text-anchor="middle" stroke="#231f20" stroke-width="0.08">**</text>
<text x="170.4" y="577.6" font-size="6.2" text-anchor="middle" stroke="#231f20" stroke-width="0.08">1</text>
<text x="186.2" y="577.6" font-size="6.2" text-anchor="middle" stroke="#231f20" stroke-width="0.08">2</text>
<text x="152.2" y="586.6" font-size="5.1" text-anchor="middle" stroke="#231f20" stroke-width="0.08">1</text>
<circle cx="160.3" cy="584.8" r="2.3" fill="#5bae2e" />
<text x="165.5" y="586.6" font-size="5.1" stroke="#231f20" stroke-width="0.08"><tspan font-style="italic">Gata2</tspan> +/<tspan font-style="italic">gfp</tspan>::Tom</text>
<text x="152.2" y="601" font-size="5.1" text-anchor="middle" stroke="#231f20" stroke-width="0.08">2</text>
<circle cx="160.3" cy="599.2" r="2.3" fill="#1f3d83" />
<text x="165.5" y="601" font-size="5.1" stroke="#231f20" stroke-width="0.08">3q21q26-<tspan font-style="italic">EVI1</tspan>::</text>
<text x="165.5" y="607.2" font-size="5.1" stroke="#231f20" stroke-width="0.08"><tspan font-style="italic">Gata2</tspan> +/<tspan font-style="italic">gfp</tspan>::Tom</text>
<text x="216.5" y="467.9" font-size="11.5" textLength="8.3" lengthAdjust="spacingAndGlyphs" font-weight="bold" stroke="#231f20" stroke-width="0.08">H</text>
<text x="230.4" y="557.5" font-size="7.8" textLength="57.7" lengthAdjust="spacingAndGlyphs" stroke="#231f20" stroke-width="0.3" transform="rotate(-90 230.4 557.5)">Colonies (/1,000 cells)</text>
<rect x="277.7" y="564.37" width="8.6" height="1.93" fill="#5bae2e" stroke="#2e6a14" stroke-width="0.4" />
<line x1="282" y1="564.37" x2="282" y2="561" stroke="#231f20" stroke-width="0.75" />
<line x1="280.1" y1="561" x2="283.9" y2="561" stroke="#231f20" stroke-width="0.75" />
<rect x="289.7" y="564.85" width="8.6" height="1.45" fill="#1f3d83" stroke="#15285a" stroke-width="0.4" />
<line x1="294" y1="564.85" x2="294" y2="563.41" stroke="#231f20" stroke-width="0.75" />
<line x1="292.1" y1="563.41" x2="295.9" y2="563.41" stroke="#231f20" stroke-width="0.75" />
<rect x="301.5" y="538.83" width="8.6" height="27.47" fill="#5bae2e" stroke="#2e6a14" stroke-width="0.4" />
<line x1="305.8" y1="538.83" x2="305.8" y2="518.1" stroke="#231f20" stroke-width="0.75" />
<line x1="303.9" y1="518.1" x2="307.7" y2="518.1" stroke="#231f20" stroke-width="0.75" />
<rect x="313.1" y="540.85" width="8.6" height="25.45" fill="#1f3d83" stroke="#15285a" stroke-width="0.4" />
<line x1="317.4" y1="540.85" x2="317.4" y2="523.4" stroke="#231f20" stroke-width="0.75" />
<line x1="315.5" y1="523.4" x2="319.3" y2="523.4" stroke="#231f20" stroke-width="0.75" />
<rect x="336.7" y="547.02" width="8.6" height="19.28" fill="#1f3d83" stroke="#15285a" stroke-width="0.4" />
<line x1="341" y1="547.02" x2="341" y2="534.49" stroke="#231f20" stroke-width="0.75" />
<line x1="339.1" y1="534.49" x2="342.9" y2="534.49" stroke="#231f20" stroke-width="0.75" />
<rect x="360.1" y="534.01" width="8.6" height="32.29" fill="#1f3d83" stroke="#15285a" stroke-width="0.4" />
<line x1="364.4" y1="534.01" x2="364.4" y2="516.65" stroke="#231f20" stroke-width="0.75" />
<line x1="362.5" y1="516.65" x2="366.3" y2="516.65" stroke="#231f20" stroke-width="0.75" />
<rect x="383.8" y="553.09" width="8.6" height="13.21" fill="#1f3d83" stroke="#15285a" stroke-width="0.4" />
<line x1="388.1" y1="553.09" x2="388.1" y2="547.02" stroke="#231f20" stroke-width="0.75" />
<line x1="386.2" y1="547.02" x2="390" y2="547.02" stroke="#231f20" stroke-width="0.75" />
<line x1="251.4" y1="491.4" x2="251.4" y2="566.9" stroke="#2a2a2a" stroke-width="1.2" />
<line x1="250.8" y1="566.3" x2="395.2" y2="566.3" stroke="#2a2a2a" stroke-width="1.2" />
<line x1="248.2" y1="566.3" x2="251.4" y2="566.3" stroke="#2a2a2a" stroke-width="0.8" />
<text x="245.6" y="568.3" font-size="6" text-anchor="end" stroke="#231f20" stroke-width="0.08">0</text>
<line x1="248.2" y1="542.2" x2="251.4" y2="542.2" stroke="#2a2a2a" stroke-width="0.8" />
<text x="245.6" y="544.2" font-size="6" text-anchor="end" stroke="#231f20" stroke-width="0.08">50</text>
<line x1="248.2" y1="518.1" x2="251.4" y2="518.1" stroke="#2a2a2a" stroke-width="0.8" />
<text x="245.6" y="520.1" font-size="6" text-anchor="end" stroke="#231f20" stroke-width="0.08">100</text>
<line x1="248.2" y1="494" x2="251.4" y2="494" stroke="#2a2a2a" stroke-width="0.8" />
<text x="245.6" y="496" font-size="6" text-anchor="end" stroke="#231f20" stroke-width="0.08">150</text>
<line x1="258.6" y1="566.3" x2="258.6" y2="568.7" stroke="#2a2a2a" stroke-width="0.8" />
<line x1="270.3" y1="566.3" x2="270.3" y2="568.7" stroke="#2a2a2a" stroke-width="0.8" />
<line x1="282" y1="566.3" x2="282" y2="568.7" stroke="#2a2a2a" stroke-width="0.8" />
<line x1="294" y1="566.3" x2="294" y2="568.7" stroke="#2a2a2a" stroke-width="0.8" />
<line x1="305.8" y1="566.3" x2="305.8" y2="568.7" stroke="#2a2a2a" stroke-width="0.8" />
<line x1="317.4" y1="566.3" x2="317.4" y2="568.7" stroke="#2a2a2a" stroke-width="0.8" />
<line x1="329.2" y1="566.3" x2="329.2" y2="568.7" stroke="#2a2a2a" stroke-width="0.8" />
<line x1="341" y1="566.3" x2="341" y2="568.7" stroke="#2a2a2a" stroke-width="0.8" />
<line x1="352.7" y1="566.3" x2="352.7" y2="568.7" stroke="#2a2a2a" stroke-width="0.8" />
<line x1="364.4" y1="566.3" x2="364.4" y2="568.7" stroke="#2a2a2a" stroke-width="0.8" />
<line x1="376.2" y1="566.3" x2="376.2" y2="568.7" stroke="#2a2a2a" stroke-width="0.8" />
<line x1="388.1" y1="566.3" x2="388.1" y2="568.7" stroke="#2a2a2a" stroke-width="0.8" />
<circle cx="258.6" cy="566.3" r="1.2" fill="#f4f4f4" stroke="#333" stroke-width="0.55" />
<circle cx="257" cy="566.3" r="1.2" fill="#f4f4f4" stroke="#333" stroke-width="0.55" />
<circle cx="260.2" cy="566.3" r="1.2" fill="#f4f4f4" stroke="#333" stroke-width="0.55" />
<circle cx="270.3" cy="566.3" r="1.2" fill="#f4f4f4" stroke="#333" stroke-width="0.55" />
<circle cx="268.7" cy="566.3" r="1.2" fill="#f4f4f4" stroke="#333" stroke-width="0.55" />
<circle cx="271.9" cy="566.3" r="1.2" fill="#f4f4f4" stroke="#333" stroke-width="0.55" />
<circle cx="282" cy="556.66" r="1.2" fill="#f4f4f4" stroke="#333" stroke-width="0.55" />
<circle cx="280.8" cy="562.44" r="1.2" fill="#f4f4f4" stroke="#333" stroke-width="0.55" />
<circle cx="283.4" cy="564.37" r="1.2" fill="#f4f4f4" stroke="#333" stroke-width="0.55" />
<circle cx="282" cy="566.3" r="1.2" fill="#f4f4f4" stroke="#333" stroke-width="0.55" />
<circle cx="292.4" cy="563.89" r="1.2" fill="#f4f4f4" stroke="#333" stroke-width="0.55" />
<circle cx="295.6" cy="563.89" r="1.2" fill="#f4f4f4" stroke="#333" stroke-width="0.55" />
<circle cx="294" cy="565.34" r="1.2" fill="#f4f4f4" stroke="#333" stroke-width="0.55" />
<circle cx="294" cy="566.3" r="1.2" fill="#f4f4f4" stroke="#333" stroke-width="0.55" />
<circle cx="305.8" cy="506.05" r="1.2" fill="#f4f4f4" stroke="#333" stroke-width="0.55" />
<circle cx="305.8" cy="513.28" r="1.2" fill="#f4f4f4" stroke="#333" stroke-width="0.55" />
<circle cx="304.4" cy="537.38" r="1.2" fill="#f4f4f4" stroke="#333" stroke-width="0.55" />
<circle cx="307.4" cy="536.42" r="1.2" fill="#f4f4f4" stroke="#333" stroke-width="0.55" />
<circle cx="305.8" cy="554.25" r="1.2" fill="#f4f4f4" stroke="#333" stroke-width="0.55" />
<circle cx="305.8" cy="559.07" r="1.2" fill="#f4f4f4" stroke="#333" stroke-width="0.55" />
<circle cx="305.8" cy="563.89" r="1.2" fill="#f4f4f4" stroke="#333" stroke-width="0.55" />
<circle cx="317.4" cy="506.05" r="1.2" fill="#f4f4f4" stroke="#333" stroke-width="0.55" />
<circle cx="315.6" cy="537.38" r="1.2" fill="#f4f4f4" stroke="#333" stroke-width="0.55" />
<circle cx="319" cy="538.83" r="1.2" fill="#f4f4f4" stroke="#333" stroke-width="0.55" />
<circle cx="317.4" cy="551.84" r="1.2" fill="#f4f4f4" stroke="#333" stroke-width="0.55" />
<circle cx="319.2" cy="553.29" r="1.2" fill="#f4f4f4" stroke="#333" stroke-width="0.55" />
<circle cx="315.8" cy="555.7" r="1.2" fill="#f4f4f4" stroke="#333" stroke-width="0.55" />
<circle cx="327.6" cy="564.85" r="1.2" fill="#f4f4f4" stroke="#333" stroke-width="0.55" />
<circle cx="330.8" cy="564.85" r="1.2" fill="#f4f4f4" stroke="#333" stroke-width="0.55" />
<circle cx="329.2" cy="565.82" r="1.2" fill="#f4f4f4" stroke="#333" stroke-width="0.55" />
<circle cx="329.2" cy="566.3" r="1.2" fill="#f4f4f4" stroke="#333" stroke-width="0.55" />
<circle cx="341" cy="531.6" r="1.2" fill="#f4f4f4" stroke="#333" stroke-width="0.55" />
<circle cx="339.8" cy="537.38" r="1.2" fill="#f4f4f4" stroke="#333" stroke-width="0.55" />
<circle cx="342.4" cy="536.42" r="1.2" fill="#f4f4f4" stroke="#333" stroke-width="0.55" />
<circle cx="341" cy="543.16" r="1.2" fill="#f4f4f4" stroke="#333" stroke-width="0.55" />
<circle cx="341" cy="551.84" r="1.2" fill="#f4f4f4" stroke="#333" stroke-width="0.55" />
<circle cx="341" cy="561.48" r="1.2" fill="#f4f4f4" stroke="#333" stroke-width="0.55" />
<circle cx="341" cy="566.3" r="1.2" fill="#f4f4f4" stroke="#333" stroke-width="0.55" />
<circle cx="352.7" cy="566.3" r="1.2" fill="#f4f4f4" stroke="#333" stroke-width="0.55" />
<circle cx="364.4" cy="510.39" r="1.2" fill="#f4f4f4" stroke="#333" stroke-width="0.55" />
<circle cx="364.4" cy="516.65" r="1.2" fill="#f4f4f4" stroke="#333" stroke-width="0.55" />
<circle cx="362.8" cy="534.97" r="1.2" fill="#f4f4f4" stroke="#333" stroke-width="0.55" />
<circle cx="366" cy="534.49" r="1.2" fill="#f4f4f4" stroke="#333" stroke-width="0.55" />
<circle cx="364.4" cy="536.42" r="1.2" fill="#f4f4f4" stroke="#333" stroke-width="0.55" />
<circle cx="364.4" cy="563.89" r="1.2" fill="#f4f4f4" stroke="#333" stroke-width="0.55" />
<circle cx="376.2" cy="566.3" r="1.2" fill="#f4f4f4" stroke="#333" stroke-width="0.55" />
<circle cx="388.9" cy="545.09" r="1.2" fill="#f4f4f4" stroke="#333" stroke-width="0.55" />
<circle cx="386.9" cy="547.02" r="1.2" fill="#f4f4f4" stroke="#333" stroke-width="0.55" />
<circle cx="386.5" cy="553.77" r="1.2" fill="#f4f4f4" stroke="#333" stroke-width="0.55" />
<circle cx="389.7" cy="553.77" r="1.2" fill="#f4f4f4" stroke="#333" stroke-width="0.55" />
<circle cx="388.1" cy="555.7" r="1.2" fill="#f4f4f4" stroke="#333" stroke-width="0.55" />
<path d="M304.6 481.2 V480.4 Q304.6 479.6 305.4 479.6 H314.4 Q315.2 479.6 315.2 480.4 V481.2" fill="none" stroke="#5a5a5a" stroke-width="0.7" />
<text x="309.9" y="478.6" font-size="5.6" text-anchor="middle" stroke="#231f20" stroke-width="0.08">n.s.</text>
<path d="M274.6 486.1 V485.3 Q274.6 484.5 275.4 484.5 H314.4 Q315.2 484.5 315.2 485.3 V486.1" fill="none" stroke="#5a5a5a" stroke-width="0.7" />
<text x="294.9" y="485.8" font-size="5.6" text-anchor="middle" stroke="#231f20" stroke-width="0.08">**</text>
<path d="M294.2 491 V490.2 Q294.2 489.4 295 489.4 H314.4 Q315.2 489.4 315.2 490.2 V491" fill="none" stroke="#5a5a5a" stroke-width="0.7" />
<text x="304.7" y="490.7" font-size="5.6" text-anchor="middle" stroke="#231f20" stroke-width="0.08">**</text>
<path d="M264.8 496.6 V495.8 Q264.8 495 265.6 495 H304.8 Q305.6 495 305.6 495.8 V496.6" fill="none" stroke="#5a5a5a" stroke-width="0.7" />
<text x="285.2" y="496.3" font-size="5.6" text-anchor="middle" stroke="#231f20" stroke-width="0.08">**</text>
<path d="M284.2 501.4 V500.6 Q284.2 499.8 285 499.8 H304.8 Q305.6 499.8 305.6 500.6 V501.4" fill="none" stroke="#5a5a5a" stroke-width="0.7" />
<text x="294.9" y="501.1" font-size="5.6" text-anchor="middle" stroke="#231f20" stroke-width="0.08">**</text>
<path d="M330.2 527.4 V526.6 Q330.2 525.8 331 525.8 H340.2 Q341 525.8 341 526.6 V527.4" fill="none" stroke="#5a5a5a" stroke-width="0.7" />
<text x="335.6" y="527.1" font-size="5.6" text-anchor="middle" stroke="#231f20" stroke-width="0.08">**</text>
<text x="258.6" y="577.3" font-size="6.2" text-anchor="middle" stroke="#231f20" stroke-width="0.08">1</text>
<text x="270.3" y="577.3" font-size="6.2" text-anchor="middle" stroke="#231f20" stroke-width="0.08">2</text>
<text x="282" y="577.3" font-size="6.2" text-anchor="middle" stroke="#231f20" stroke-width="0.08">1</text>
<text x="294" y="577.3" font-size="6.2" text-anchor="middle" stroke="#231f20" stroke-width="0.08">2</text>
<text x="305.8" y="577.3" font-size="6.2" text-anchor="middle" stroke="#231f20" stroke-width="0.08">1</text>
<text x="317.4" y="577.3" font-size="6.2" text-anchor="middle" stroke="#231f20" stroke-width="0.08">2</text>
<text x="329.2" y="577.3" font-size="6.2" text-anchor="middle" stroke="#231f20" stroke-width="0.08">1</text>
<text x="341" y="577.3" font-size="6.2" text-anchor="middle" stroke="#231f20" stroke-width="0.08">2</text>
<text x="352.7" y="577.3" font-size="6.2" text-anchor="middle" stroke="#231f20" stroke-width="0.08">1</text>
<text x="364.4" y="577.3" font-size="6.2" text-anchor="middle" stroke="#231f20" stroke-width="0.08">2</text>
<text x="376.2" y="577.3" font-size="6.2" text-anchor="middle" stroke="#231f20" stroke-width="0.08">1</text>
<text x="388.1" y="577.3" font-size="6.2" text-anchor="middle" stroke="#231f20" stroke-width="0.08">2</text>
<line x1="258.7" y1="581.5" x2="271.6" y2="581.5" stroke="#231f20" stroke-width="0.95" />
<text x="265.15" y="590.3" font-size="6.2" text-anchor="middle" stroke="#231f20" stroke-width="0.08">Neg</text>
<line x1="282.3" y1="581.5" x2="293.8" y2="581.5" stroke="#231f20" stroke-width="0.95" />
<text x="288.05" y="590.3" font-size="6.2" text-anchor="middle" stroke="#231f20" stroke-width="0.08">Low</text>
<line x1="301.3" y1="581.5" x2="391.3" y2="581.5" stroke="#231f20" stroke-width="0.95" />
<text x="346.3" y="590.3" font-size="6.2" text-anchor="middle" stroke="#231f20" stroke-width="0.08">High</text>
<text x="347.1" y="590.3" font-size="5.6" stroke="#231f20" stroke-width="0.08"></text>
<line x1="255.8" y1="595.5" x2="321.5" y2="595.5" stroke="#231f20" stroke-width="0.95" />
<text x="288.65" y="603.3" font-size="6.2" text-anchor="middle" stroke="#231f20" stroke-width="0.08">1st</text>
<line x1="325.6" y1="595.5" x2="344.6" y2="595.5" stroke="#231f20" stroke-width="0.95" />
<text x="335.1" y="603.3" font-size="6.2" text-anchor="middle" stroke="#231f20" stroke-width="0.08">2nd</text>
<line x1="348.6" y1="595.5" x2="367.7" y2="595.5" stroke="#231f20" stroke-width="0.95" />
<text x="358.15" y="603.3" font-size="6.2" text-anchor="middle" stroke="#231f20" stroke-width="0.08">3rd</text>
<line x1="372.6" y1="595.5" x2="391.3" y2="595.5" stroke="#231f20" stroke-width="0.95" />
<text x="381.95" y="603.3" font-size="6.2" text-anchor="middle" stroke="#231f20" stroke-width="0.08">4th</text>
<text x="266.7" y="617.5" font-size="5.1" text-anchor="middle" stroke="#231f20" stroke-width="0.08">1</text>
<rect x="271.6" y="613.5" width="4.4" height="4.4" fill="#5bae2e" />
<text x="278.8" y="617.5" font-size="5.1" stroke="#231f20" stroke-width="0.08"><tspan font-style="italic">Gata2</tspan> +/<tspan font-style="italic">gfp</tspan>::Tom</text>
<text x="329.3" y="617.5" font-size="5.1" text-anchor="middle" stroke="#231f20" stroke-width="0.08">2</text>
<rect x="333.6" y="613.5" width="4.4" height="4.4" fill="#1f3d83" />
<text x="341.7" y="617.5" font-size="5.1" stroke="#231f20" stroke-width="0.08">3q21q26-<tspan font-style="italic">EVI1</tspan>::</text>
<text x="341.7" y="623.9" font-size="5.1" stroke="#231f20" stroke-width="0.08"><tspan font-style="italic">Gata2</tspan> +/<tspan font-style="italic">gfp</tspan>::Tom</text>
<text x="406" y="467.9" font-size="11.5" textLength="3.2" lengthAdjust="spacingAndGlyphs" font-weight="bold" stroke="#231f20" stroke-width="0.08">I</text>
<text x="448.9" y="481.1" font-size="8.2" textLength="57" lengthAdjust="spacingAndGlyphs" stroke="#231f20" stroke-width="0.08">High population</text>
<text x="419.3" y="553.6" font-size="7.8" textLength="49.9" lengthAdjust="spacingAndGlyphs" stroke="#231f20" stroke-width="0.3" transform="rotate(-90 419.3 553.6)">Cell population (%)</text>
<line x1="442" y1="491.2" x2="442" y2="567.1" stroke="#2a2a2a" stroke-width="1.2" />
<line x1="441.4" y1="566.5" x2="512.2" y2="566.5" stroke="#2a2a2a" stroke-width="1.2" />
<line x1="438.8" y1="566.5" x2="442" y2="566.5" stroke="#2a2a2a" stroke-width="0.8" />
<text x="435.6" y="568.5" font-size="6" text-anchor="end" stroke="#231f20" stroke-width="0.08">0</text>
<line x1="438.8" y1="554.4" x2="442" y2="554.4" stroke="#2a2a2a" stroke-width="0.8" />
<text x="435.6" y="556.4" font-size="6" text-anchor="end" stroke="#231f20" stroke-width="0.08">20</text>
<line x1="438.8" y1="542.3" x2="442" y2="542.3" stroke="#2a2a2a" stroke-width="0.8" />
<text x="435.6" y="544.3" font-size="6" text-anchor="end" stroke="#231f20" stroke-width="0.08">40</text>
<line x1="438.8" y1="530.2" x2="442" y2="530.2" stroke="#2a2a2a" stroke-width="0.8" />
<text x="435.6" y="532.2" font-size="6" text-anchor="end" stroke="#231f20" stroke-width="0.08">60</text>
<line x1="438.8" y1="518.1" x2="442" y2="518.1" stroke="#2a2a2a" stroke-width="0.8" />
<text x="435.6" y="520.1" font-size="6" text-anchor="end" stroke="#231f20" stroke-width="0.08">80</text>
<line x1="438.8" y1="506" x2="442" y2="506" stroke="#2a2a2a" stroke-width="0.8" />
<text x="435.6" y="508" font-size="6" text-anchor="end" stroke="#231f20" stroke-width="0.08">100</text>
<line x1="438.8" y1="493.9" x2="442" y2="493.9" stroke="#2a2a2a" stroke-width="0.8" />
<text x="435.6" y="495.9" font-size="6" text-anchor="end" stroke="#231f20" stroke-width="0.08">120</text>
<line x1="450.9" y1="566.5" x2="450.9" y2="568.9" stroke="#2a2a2a" stroke-width="0.8" />
<line x1="464.7" y1="566.5" x2="464.7" y2="568.9" stroke="#2a2a2a" stroke-width="0.8" />
<line x1="478.2" y1="566.5" x2="478.2" y2="568.9" stroke="#2a2a2a" stroke-width="0.8" />
<line x1="492.1" y1="566.5" x2="492.1" y2="568.9" stroke="#2a2a2a" stroke-width="0.8" />
<line x1="505.6" y1="566.5" x2="505.6" y2="568.9" stroke="#2a2a2a" stroke-width="0.8" />
<line x1="464.7" y1="536.25" x2="464.7" y2="529.6" stroke="#231f20" stroke-width="0.75" />
<line x1="462.8" y1="529.6" x2="466.6" y2="529.6" stroke="#231f20" stroke-width="0.75" />
<line x1="478.2" y1="524.15" x2="478.2" y2="515.68" stroke="#231f20" stroke-width="0.75" />
<line x1="476.3" y1="515.68" x2="480.1" y2="515.68" stroke="#231f20" stroke-width="0.75" />
<line x1="492.1" y1="522.94" x2="492.1" y2="511.44" stroke="#231f20" stroke-width="0.75" />
<line x1="490.2" y1="511.44" x2="494" y2="511.44" stroke="#231f20" stroke-width="0.75" />
<line x1="505.6" y1="522.34" x2="505.6" y2="509.63" stroke="#231f20" stroke-width="0.75" />
<line x1="503.7" y1="509.63" x2="507.5" y2="509.63" stroke="#231f20" stroke-width="0.75" />
<line x1="464.7" y1="548.96" x2="464.7" y2="559.24" stroke="#231f20" stroke-width="0.75" />
<line x1="462.8" y1="559.24" x2="466.6" y2="559.24" stroke="#231f20" stroke-width="0.75" />
<path d="M450.9 506 L464.7 548.96" fill="none" stroke="#5bae2e" stroke-width="0.9" />
<path d="M450.9 506 L464.7 536.25 L478.2 524.15 L492.1 522.94 L505.6 522.34" fill="none" stroke="#1f3d83" stroke-width="0.9" />
<circle cx="464.7" cy="548.96" r="1.4" fill="#5bae2e" />
<circle cx="450.9" cy="506" r="1.4" fill="#1f3d83" />
<circle cx="464.7" cy="536.25" r="1.4" fill="#1f3d83" />
<circle cx="478.2" cy="524.15" r="1.4" fill="#1f3d83" />
<circle cx="492.1" cy="522.94" r="1.4" fill="#1f3d83" />
<circle cx="505.6" cy="522.34" r="1.4" fill="#1f3d83" />
<text x="450.9" y="577.6" font-size="6.2" text-anchor="middle" stroke="#231f20" stroke-width="0.08">0</text>
<text x="464.7" y="577.6" font-size="6.2" text-anchor="middle" stroke="#231f20" stroke-width="0.08">1</text>
<text x="478.2" y="577.6" font-size="6.2" text-anchor="middle" stroke="#231f20" stroke-width="0.08">2</text>
<text x="492.1" y="577.6" font-size="6.2" text-anchor="middle" stroke="#231f20" stroke-width="0.08">3</text>
<text x="505.6" y="577.6" font-size="6.2" text-anchor="middle" stroke="#231f20" stroke-width="0.08">4</text>
<text x="456.2" y="590" font-size="8.3" textLength="42.3" lengthAdjust="spacingAndGlyphs" stroke="#231f20" stroke-width="0.3">Passage number</text>
<text x="452.6" y="603.8" font-size="5.1" text-anchor="middle" stroke="#231f20" stroke-width="0.08">1</text>
<circle cx="459.5" cy="602" r="2.3" fill="#5bae2e" />
<text x="464.7" y="603.8" font-size="5.1" stroke="#231f20" stroke-width="0.08"><tspan font-style="italic">Gata2</tspan> +/<tspan font-style="italic">gfp</tspan>::Tom</text>
<text x="452.6" y="618.2" font-size="5.1" text-anchor="middle" stroke="#231f20" stroke-width="0.08">2</text>
<circle cx="459.5" cy="616.4" r="2.3" fill="#1f3d83" />
<text x="464.7" y="618.2" font-size="5.1" stroke="#231f20" stroke-width="0.08">3q21q26-<tspan font-style="italic">EVI1</tspan>::</text>
<text x="464.7" y="624.6" font-size="5.1" stroke="#231f20" stroke-width="0.08"><tspan font-style="italic">Gata2</tspan> +/<tspan font-style="italic">gfp</tspan>::Tom</text>
</svg>
</body></html>
